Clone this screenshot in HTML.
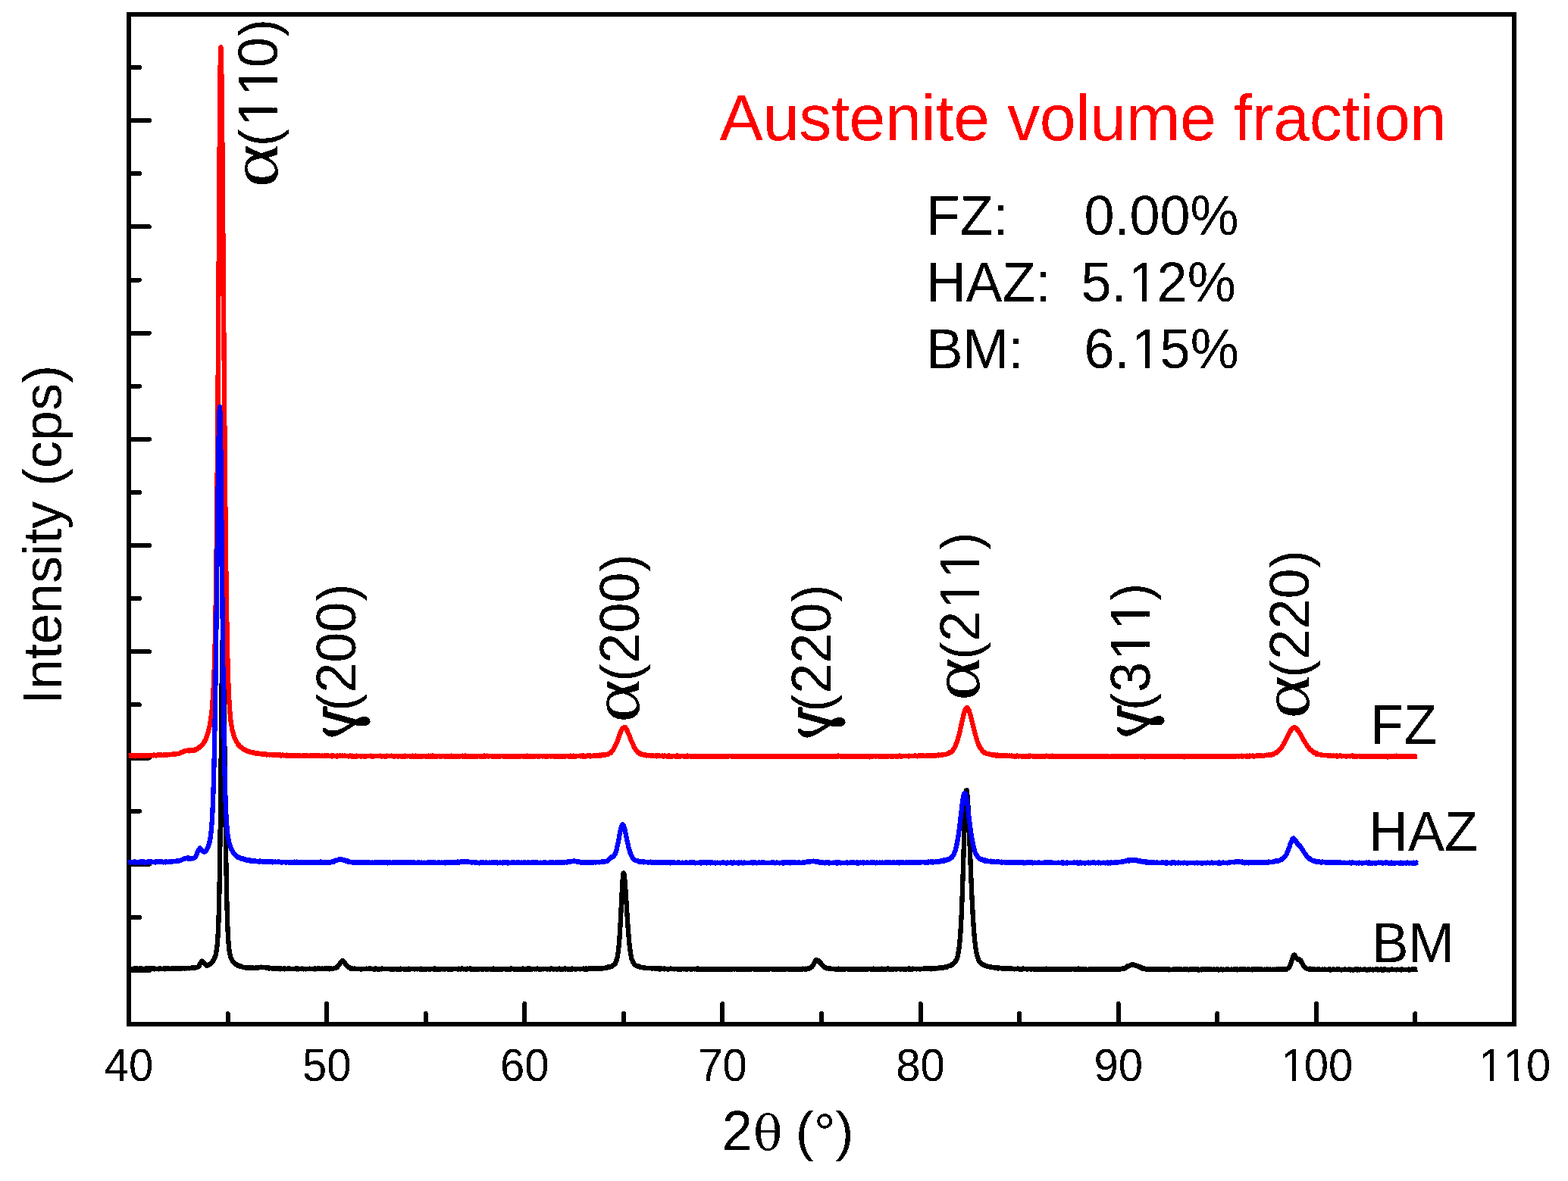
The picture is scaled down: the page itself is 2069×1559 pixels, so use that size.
<!DOCTYPE html>
<html lang="en"><head><meta charset="utf-8">
<title>XRD patterns - Austenite volume fraction</title>
<style>
html,body{margin:0;padding:0;background:#fff;}
body{width:2069px;height:1559px;overflow:hidden;}
svg{display:block;}
text{font-family:"Liberation Sans",Arial,Helvetica,sans-serif;fill:#000;font-kerning:none;white-space:pre;}
.t58{font-size:58px;}
.an{font-size:72px;}
.gk{font-family:"DejaVu Serif","Liberation Serif",serif;}
.gb{stroke:#000;stroke-width:0.7;stroke-linejoin:round;}
.ls{font-family:"Liberation Serif","DejaVu Serif",serif;}
.ttl{font-size:86px;fill:#f00;letter-spacing:-0.29px;}
.ax{stroke:#000;stroke-width:6;fill:none;}
.cv{fill:none;stroke-linejoin:round;stroke-linecap:butt;}
</style></head><body>
<svg width="2069" height="1559" viewBox="0 0 2069 1559" role="img" aria-label="XRD patterns of FZ, HAZ and BM with austenite volume fraction">
<rect x="0" y="0" width="2069" height="1559" fill="#fff"/>
<defs><filter id="hard" x="0" y="0" width="2069" height="1559" filterUnits="userSpaceOnUse" color-interpolation-filters="sRGB"><feComponentTransfer><feFuncA type="discrete" tableValues="0 1"/></feComponentTransfer></filter><clipPath id="c1"><path clip-rule="evenodd" d="M-20,-69.6 H116.77 V29 H-20 Z M5.25,-4.68 H16.26 V3 H5.25 Z M21.69,-4.68 H32.25 V3 H21.69 Z"/></clipPath><clipPath id="c2"><path clip-rule="evenodd" d="M-20,-69.6 H116.77 V29 H-20 Z M5.25,-4.68 H16.26 V3 H5.25 Z M21.69,-4.68 H32.25 V3 H21.69 Z M37.5,-4.68 H48.52 V3 H37.5 Z M53.94,-4.68 H64.51 V3 H53.94 Z"/></clipPath><clipPath id="c3"><path clip-rule="evenodd" d="M-20,-86.4 H428.16 V36 H-20 Z M270.81,-5.73 H284.28 V3 H270.81 Z M290.94,-5.73 H303.85 V3 H290.94 Z"/></clipPath><clipPath id="c4"><path clip-rule="evenodd" d="M-20,-86.4 H432.17 V36 H-20 Z M274.82,-5.73 H288.29 V3 H274.82 Z M294.95,-5.73 H307.86 V3 H294.95 Z"/></clipPath><clipPath id="c5"><path clip-rule="evenodd" d="M-20,-86.4 H188.08 V36 H-20 Z M30.73,-5.73 H44.2 V3 H30.73 Z M50.86,-5.73 H63.77 V3 H50.86 Z M70.77,-5.73 H84.25 V3 H70.77 Z M90.9,-5.73 H103.81 V3 H90.9 Z"/></clipPath><clipPath id="c6"><path clip-rule="evenodd" d="M-20,-86.4 H188.08 V36 H-20 Z M70.77,-5.73 H84.25 V3 H70.77 Z M90.9,-5.73 H103.81 V3 H90.9 Z M110.82,-5.73 H124.29 V3 H110.82 Z M130.95,-5.73 H143.86 V3 H130.95 Z"/></clipPath><clipPath id="c7"><path clip-rule="evenodd" d="M-20,-86.4 H188.08 V36 H-20 Z M70.77,-5.73 H84.25 V3 H70.77 Z M90.9,-5.73 H103.81 V3 H90.9 Z M110.82,-5.73 H124.29 V3 H110.82 Z M130.95,-5.73 H143.86 V3 H130.95 Z"/></clipPath></defs>
<rect class="ax" shape-rendering="crispEdges" x="170" y="19" width="1828" height="1333"/>
<path class="ax" shape-rendering="crispEdges" stroke-linecap="round" d="M300.6,1352 V1338 M431.1,1352 V1325 M561.7,1352 V1338 M692.3,1352 V1325 M822.9,1352 V1338 M953.4,1352 V1325 M1084,1352 V1338 M1214.6,1352 V1325 M1345.1,1352 V1338 M1475.7,1352 V1325 M1606.3,1352 V1338 M1736.9,1352 V1325 M1867.4,1352 V1338 M170,89 H184 M170,159.1 H197 M170,229.2 H184 M170,299.4 H197 M170,369.5 H184 M170,439.6 H197 M170,509.7 H184 M170,579.8 H197 M170,649.9 H184 M170,720.1 H197 M170,790.2 H184 M170,860.3 H197 M170,930.4 H184 M170,1000.5 H197 M170,1070.7 H184 M170,1140.8 H197 M170,1210.9 H184 M170,1281 H197"/>
<g shape-rendering="crispEdges">
<polyline class="cv" stroke-width="4" stroke="#000" points="170,1278.9 172,1278.9 174,1278.9 176,1278.9 178,1278.9 180,1278.9 182,1278.9 184,1278.9 186,1278.8 188,1278.8 190,1278.8 192,1278.8 194,1278.8 196,1278.8 198,1278.8 200,1278.8 202,1278.8 204,1278.8 206,1278.8 208,1278.8 210,1278.8 212,1278.7 214,1278.7 216,1278.7 218,1278.7 220,1278.7 222,1278.7 224,1278.7 226,1278.6 228,1278.6 230,1278.6 232,1278.6 234,1278.5 236,1278.5 238,1278.4 240,1278.4 242,1278.3 244,1278.3 246,1278.2 248,1278.1 250,1278.1 252,1277.9 254,1277.8 256,1277.7 258,1277.4 260,1276.9 262,1275.5 262.5,1274.9 263,1274.2 263.5,1273.4 264,1272.5 264.5,1271.6 265,1270.7 265.5,1270 266,1269.5 268,1269.9 268.5,1270.5 269,1271.1 269.5,1271.7 270,1272.3 270.5,1272.8 271,1273.2 271.5,1273.6 272,1273.8 274,1274.1 276,1273.4 276.5,1273.1 277,1272.8 277.5,1272.5 278,1272.1 278.5,1271.7 279,1271.2 279.5,1270.7 280,1270.1 280.5,1269.5 281,1268.8 281.5,1268 282,1267.1 282.5,1266.1 283,1265 283.5,1263.7 284,1262.2 284.5,1260.5 285,1258.4 285.5,1256 286,1252.9 286.5,1248.9 287,1243.7 287.5,1236.7 288,1227.1 288.5,1214.2 289,1196.7 289.5,1173.8 290,1144.6 290.5,1108.6 291,1065.9 291.5,1017.7 292,966.4 292.5,916.5 293,874.2 293.5,847.1 294,841.2 294.5,852.7 295,877.6 295.5,912.4 296,953.3 296.5,996.5 297,1039.3 297.5,1079.6 298,1115.9 298.5,1147.4 299,1174 299.5,1195.7 300,1213 300.5,1226.4 301,1236.6 301.5,1244.4 302,1250.1 302.5,1254.5 303,1257.7 303.5,1260.3 304,1262.2 304.5,1263.9 305,1265.2 305.5,1266.3 306,1267.3 306.5,1268.2 307,1269 307.5,1269.6 308,1270.3 308.5,1270.8 309,1271.3 309.5,1271.8 310,1272.2 310.5,1272.6 311,1273 311.5,1273.3 312,1273.6 312.5,1273.9 313,1274.1 315,1275 317,1275.7 319,1276.2 321,1276.6 323,1276.9 325,1277.1 327,1277.4 329,1277.5 331,1277.6 333,1277.7 335,1277.7 337,1277.7 339,1277.6 341,1277.4 343,1277.1 345,1277 347,1276.9 349,1277.1 351,1277.3 353,1277.7 355,1278 357,1278.2 359,1278.4 361,1278.5 363,1278.6 365,1278.7 367,1278.7 369,1278.7 371,1278.8 373,1278.8 375,1278.8 377,1278.8 379,1278.8 381,1278.8 383,1278.9 385,1278.9 387,1278.9 389,1278.9 391,1278.9 393,1278.9 395,1278.9 397,1278.9 399,1278.9 401,1278.9 403,1278.9 405,1278.9 407,1278.9 409,1279 411,1279 413,1279 415,1279 417,1279 419,1279 421,1279 423,1278.9 425,1278.9 427,1278.9 429,1278.9 431,1278.9 433,1278.9 435,1278.8 437,1278.8 439,1278.7 441,1278.5 443,1277.9 445,1276.6 445.5,1276.1 446,1275.5 446.5,1274.9 447,1274.2 447.5,1273.5 448,1272.7 448.5,1271.9 449,1271.2 449.5,1270.5 450,1269.8 450.5,1269.3 451,1269 453,1269.2 453.5,1269.6 454,1270.1 454.5,1270.6 455,1271.2 455.5,1271.8 456,1272.4 456.5,1273.1 457,1273.7 457.5,1274.3 458,1274.8 458.5,1275.4 459,1275.8 459.5,1276.3 460,1276.7 460.5,1277 461,1277.3 461.5,1277.6 463.5,1278.2 465.5,1278.6 467.5,1278.7 469.5,1278.8 471.5,1278.9 473.5,1278.9 475.5,1279 477.5,1279 479.5,1279 481.5,1279 483.5,1279 485.5,1279 487.5,1279.1 489.5,1279.1 491.5,1279.1 493.5,1279.1 495.5,1279.1 497.5,1279.1 499.5,1279.1 501.5,1279.1 503.5,1279.1 505.5,1279.1 507.5,1279.1 509.5,1279.1 511.5,1279.1 513.5,1279.1 515.5,1279.1 517.5,1279.1 519.5,1279.1 521.5,1279.1 523.5,1279.1 525.5,1279.1 527.5,1279.1 529.5,1279.1 531.5,1279.1 533.5,1279.1 535.5,1279.2 537.5,1279.2 539.5,1279.2 541.5,1279.2 543.5,1279.2 545.5,1279.2 547.5,1279.2 549.5,1279.2 551.5,1279.2 553.5,1279.2 555.5,1279.2 557.5,1279.2 559.5,1279.2 561.5,1279.2 563.5,1279.2 565.5,1279.2 567.5,1279.2 569.5,1279.2 571.5,1279.2 573.5,1279.2 575.5,1279.2 577.5,1279.2 579.5,1279.2 581.5,1279.2 583.5,1279.2 585.5,1279.2 587.5,1279.2 589.5,1279.2 591.5,1279.2 593.5,1279.2 595.5,1279.2 597.5,1279.2 599.5,1279.2 601.5,1279.2 603.5,1279.2 605.5,1279.2 607.5,1279.2 609.5,1279.2 611.5,1279.2 613.5,1279.2 615.5,1279.2 617.5,1279.2 619.5,1279.2 621.5,1279.2 623.5,1279.2 625.5,1279.2 627.5,1279.2 629.5,1279.2 631.5,1279.2 633.5,1279.2 635.5,1279.2 637.5,1279.2 639.5,1279.2 641.5,1279.2 643.5,1279.2 645.5,1279.2 647.5,1279.2 649.5,1279.2 651.5,1279.2 653.5,1279.2 655.5,1279.2 657.5,1279.2 659.5,1279.2 661.5,1279.2 663.5,1279.2 665.5,1279.2 667.5,1279.2 669.5,1279.2 671.5,1279.2 673.5,1279.2 675.5,1279.2 677.5,1279.2 679.5,1279.2 681.5,1279.2 683.5,1279.2 685.5,1279.2 687.5,1279.2 689.5,1279.2 691.5,1279.2 693.5,1279.2 695.5,1279.2 697.5,1279.2 699.5,1279.2 701.5,1279.2 703.5,1279.2 705.5,1279.2 707.5,1279.2 709.5,1279.2 711.5,1279.2 713.5,1279.2 715.5,1279.2 717.5,1279.2 719.5,1279.2 721.5,1279.2 723.5,1279.2 725.5,1279.2 727.5,1279.2 729.5,1279.2 731.5,1279.2 733.5,1279.2 735.5,1279.2 737.5,1279.2 739.5,1279.2 741.5,1279.2 743.5,1279.2 745.5,1279.1 747.5,1279.1 749.5,1279.1 751.5,1279.1 753.5,1279.1 755.5,1279.1 757.5,1279.1 759.5,1279.1 761.5,1279.1 763.5,1279 765.5,1279 767.5,1279 769.5,1279 771.5,1279 773.5,1278.9 775.5,1278.9 777.5,1278.8 779.5,1278.8 781.5,1278.7 783.5,1278.7 785.5,1278.6 787.5,1278.5 789.5,1278.4 791.5,1278.3 793.5,1278.2 795.5,1278 797.5,1277.8 799.5,1277.5 801.5,1277.2 803.5,1276.7 805.5,1276.1 807.5,1275.3 808,1275 808.5,1274.7 809,1274.4 809.5,1274.1 810,1273.7 810.5,1273.2 811,1272.7 811.5,1272 812,1271.3 812.5,1270.4 813,1269.3 813.5,1267.9 814,1266.3 814.5,1264.2 815,1261.6 815.5,1258.4 816,1254.5 816.5,1249.7 817,1244.1 817.5,1237.5 818,1229.9 818.5,1221.4 819,1212 819.5,1202 820,1191.5 820.5,1181.1 821,1171.4 821.5,1162.9 822,1156.5 822.5,1153 823,1152.5 823.5,1154.2 824,1157.6 824.5,1162.5 825,1168.7 825.5,1175.8 826,1183.4 826.5,1191.4 827,1199.5 827.5,1207.4 828,1215.1 828.5,1222.4 829,1229.2 829.5,1235.4 830,1241 830.5,1246.1 831,1250.6 831.5,1254.4 832,1257.8 832.5,1260.7 833,1263.2 833.5,1265.2 834,1267 834.5,1268.4 835,1269.6 835.5,1270.6 836,1271.5 836.5,1272.2 837,1272.8 837.5,1273.3 838,1273.7 838.5,1274.1 839,1274.4 839.5,1274.7 840,1275 842,1275.8 844,1276.4 846,1276.9 848,1277.3 850,1277.6 852,1277.8 854,1278 856,1278.1 858,1278.3 860,1278.4 862,1278.5 864,1278.6 866,1278.6 868,1278.7 870,1278.8 872,1278.8 874,1278.9 876,1278.9 878,1278.9 880,1279 882,1279 884,1279 886,1279 888,1279.1 890,1279.1 892,1279.1 894,1279.1 896,1279.1 898,1279.2 900,1279.2 902,1279.2 904,1279.2 906,1279.2 908,1279.2 910,1279.2 912,1279.2 914,1279.2 916,1279.3 918,1279.3 920,1279.3 922,1279.3 924,1279.3 926,1279.3 928,1279.3 930,1279.3 932,1279.3 934,1279.3 936,1279.3 938,1279.3 940,1279.3 942,1279.3 944,1279.3 946,1279.3 948,1279.3 950,1279.3 952,1279.3 954,1279.3 956,1279.3 958,1279.4 960,1279.4 962,1279.4 964,1279.4 966,1279.4 968,1279.4 970,1279.4 972,1279.4 974,1279.4 976,1279.4 978,1279.4 980,1279.4 982,1279.4 984,1279.4 986,1279.4 988,1279.4 990,1279.4 992,1279.4 994,1279.4 996,1279.4 998,1279.4 1000,1279.4 1002,1279.4 1004,1279.4 1006,1279.4 1008,1279.4 1010,1279.4 1012,1279.4 1014,1279.4 1016,1279.4 1018,1279.4 1020,1279.4 1022,1279.4 1024,1279.4 1026,1279.4 1028,1279.4 1030,1279.4 1032,1279.4 1034,1279.4 1036,1279.4 1038,1279.4 1040,1279.4 1042,1279.4 1044,1279.4 1046,1279.4 1048,1279.4 1050,1279.3 1052,1279.3 1054,1279.3 1056,1279.3 1058,1279.3 1060,1279.2 1062,1279.2 1064,1279.1 1066,1278.9 1068,1278.4 1070,1277.3 1070.5,1276.9 1071,1276.4 1071.5,1275.8 1072,1275.2 1072.5,1274.4 1073,1273.6 1073.5,1272.8 1074,1271.9 1074.5,1271 1075,1270.1 1075.5,1269.3 1076,1268.6 1076.5,1268 1077,1267.6 1079,1267.8 1079.5,1268.1 1080,1268.5 1080.5,1268.9 1081,1269.4 1081.5,1269.9 1082,1270.5 1082.5,1271.1 1083,1271.6 1083.5,1272.2 1084,1272.8 1084.5,1273.3 1085,1273.9 1085.5,1274.4 1086,1274.9 1086.5,1275.3 1087,1275.8 1087.5,1276.1 1088,1276.5 1088.5,1276.8 1089,1277.1 1089.5,1277.4 1091.5,1278.2 1093.5,1278.6 1095.5,1278.9 1097.5,1279 1099.5,1279.1 1101.5,1279.2 1103.5,1279.2 1105.5,1279.2 1107.5,1279.3 1109.5,1279.3 1111.5,1279.3 1113.5,1279.3 1115.5,1279.3 1117.5,1279.3 1119.5,1279.3 1121.5,1279.3 1123.5,1279.4 1125.5,1279.4 1127.5,1279.4 1129.5,1279.4 1131.5,1279.4 1133.5,1279.4 1135.5,1279.4 1137.5,1279.4 1139.5,1279.4 1141.5,1279.4 1143.5,1279.4 1145.5,1279.4 1147.5,1279.4 1149.5,1279.4 1151.5,1279.4 1153.5,1279.4 1155.5,1279.4 1157.5,1279.4 1159.5,1279.4 1161.5,1279.4 1163.5,1279.4 1165.5,1279.3 1167.5,1279.3 1169.5,1279.3 1171.5,1279.3 1173.5,1279.3 1175.5,1279.3 1177.5,1279.3 1179.5,1279.3 1181.5,1279.3 1183.5,1279.3 1185.5,1279.3 1187.5,1279.3 1189.5,1279.2 1191.5,1279.2 1193.5,1279.2 1195.5,1279.2 1197.5,1279.2 1199.5,1279.2 1201.5,1279.1 1203.5,1279.1 1205.5,1279.1 1207.5,1279.1 1209.5,1279 1211.5,1279 1213.5,1279 1215.5,1278.9 1217.5,1278.9 1219.5,1278.8 1221.5,1278.8 1223.5,1278.7 1225.5,1278.6 1227.5,1278.6 1229.5,1278.5 1231.5,1278.4 1233.5,1278.2 1235.5,1278.1 1237.5,1277.9 1239.5,1277.8 1241.5,1277.5 1243.5,1277.3 1245.5,1277 1247.5,1276.6 1249.5,1276.1 1251.5,1275.5 1253.5,1274.7 1255.5,1273.8 1256,1273.5 1256.5,1273.1 1257,1272.8 1257.5,1272.4 1258,1272 1258.5,1271.6 1259,1271.1 1259.5,1270.6 1260,1270 1260.5,1269.4 1261,1268.6 1261.5,1267.8 1262,1266.8 1262.5,1265.6 1263,1264.2 1263.5,1262.6 1264,1260.6 1264.5,1258.2 1265,1255.2 1265.5,1251.7 1266,1247.4 1266.5,1242.3 1267,1236.2 1267.5,1229.1 1268,1220.7 1268.5,1211 1269,1200 1269.5,1187.7 1270,1174.1 1270.5,1159.4 1271,1143.7 1271.5,1127.4 1272,1110.8 1272.5,1094.5 1273,1079.1 1273.5,1065.5 1274,1054.3 1274.5,1046.5 1275,1042.6 1277,1057.2 1277.5,1066 1278,1076.2 1278.5,1087.5 1279,1099.5 1279.5,1112.1 1280,1124.8 1280.5,1137.6 1281,1150 1281.5,1162.1 1282,1173.7 1282.5,1184.6 1283,1194.7 1283.5,1204.1 1284,1212.7 1284.5,1220.5 1285,1227.5 1285.5,1233.8 1286,1239.3 1286.5,1244.2 1287,1248.4 1287.5,1252.1 1288,1255.2 1288.5,1257.9 1289,1260.2 1289.5,1262.2 1290,1263.9 1290.5,1265.3 1291,1266.6 1291.5,1267.6 1292,1268.5 1292.5,1269.3 1293,1270 1293.5,1270.6 1294,1271.1 1294.5,1271.6 1295,1272 1295.5,1272.4 1296,1272.7 1296.5,1273 1297,1273.3 1297.5,1273.6 1298,1273.8 1300,1274.7 1302,1275.4 1304,1275.9 1306,1276.4 1308,1276.7 1310,1277.1 1312,1277.3 1314,1277.6 1316,1277.8 1318,1277.9 1320,1278.1 1322,1278.2 1324,1278.3 1326,1278.4 1328,1278.5 1330,1278.6 1332,1278.7 1334,1278.7 1336,1278.8 1338,1278.9 1340,1278.9 1342,1279 1344,1279 1346,1279 1348,1279.1 1350,1279.1 1352,1279.1 1354,1279.2 1356,1279.2 1358,1279.2 1360,1279.2 1362,1279.3 1364,1279.3 1366,1279.3 1368,1279.3 1370,1279.3 1372,1279.3 1374,1279.4 1376,1279.4 1378,1279.4 1380,1279.4 1382,1279.4 1384,1279.4 1386,1279.4 1388,1279.4 1390,1279.5 1392,1279.5 1394,1279.5 1396,1279.5 1398,1279.5 1400,1279.5 1402,1279.5 1404,1279.5 1406,1279.5 1408,1279.5 1410,1279.5 1412,1279.5 1414,1279.5 1416,1279.5 1418,1279.6 1420,1279.6 1422,1279.6 1424,1279.6 1426,1279.6 1428,1279.6 1430,1279.6 1432,1279.6 1434,1279.6 1436,1279.6 1438,1279.6 1440,1279.6 1442,1279.6 1444,1279.6 1446,1279.6 1448,1279.6 1450,1279.6 1452,1279.6 1454,1279.6 1456,1279.6 1458,1279.6 1460,1279.6 1462,1279.6 1464,1279.6 1466,1279.6 1468,1279.6 1470,1279.6 1472,1279.5 1474,1279.5 1476,1279.4 1478,1279.2 1480,1279 1482,1278.5 1484,1277.9 1486,1277.1 1488,1276.1 1488.5,1275.8 1489,1275.6 1489.5,1275.3 1491.5,1274.4 1493.5,1273.8 1495.5,1273.7 1497.5,1274.1 1499.5,1274.8 1501.5,1275.7 1503.5,1276.6 1505.5,1277.4 1507.5,1278.1 1509.5,1278.6 1511.5,1279 1513.5,1279.3 1515.5,1279.4 1517.5,1279.5 1519.5,1279.6 1521.5,1279.6 1523.5,1279.6 1525.5,1279.6 1527.5,1279.7 1529.5,1279.7 1531.5,1279.7 1533.5,1279.7 1535.5,1279.7 1537.5,1279.7 1539.5,1279.7 1541.5,1279.7 1543.5,1279.7 1545.5,1279.7 1547.5,1279.7 1549.5,1279.7 1551.5,1279.7 1553.5,1279.7 1555.5,1279.7 1557.5,1279.7 1559.5,1279.7 1561.5,1279.7 1563.5,1279.8 1565.5,1279.8 1567.5,1279.8 1569.5,1279.8 1571.5,1279.8 1573.5,1279.8 1575.5,1279.8 1577.5,1279.8 1579.5,1279.8 1581.5,1279.8 1583.5,1279.8 1585.5,1279.8 1587.5,1279.8 1589.5,1279.8 1591.5,1279.8 1593.5,1279.8 1595.5,1279.8 1597.5,1279.8 1599.5,1279.8 1601.5,1279.8 1603.5,1279.8 1605.5,1279.8 1607.5,1279.8 1609.5,1279.8 1611.5,1279.8 1613.5,1279.8 1615.5,1279.8 1617.5,1279.8 1619.5,1279.8 1621.5,1279.8 1623.5,1279.8 1625.5,1279.8 1627.5,1279.8 1629.5,1279.8 1631.5,1279.8 1633.5,1279.8 1635.5,1279.8 1637.5,1279.8 1639.5,1279.8 1641.5,1279.8 1643.5,1279.8 1645.5,1279.8 1647.5,1279.8 1649.5,1279.8 1651.5,1279.8 1653.5,1279.8 1655.5,1279.8 1657.5,1279.8 1659.5,1279.8 1661.5,1279.8 1663.5,1279.8 1665.5,1279.8 1667.5,1279.8 1669.5,1279.8 1671.5,1279.8 1673.5,1279.8 1675.5,1279.8 1677.5,1279.8 1679.5,1279.7 1681.5,1279.7 1683.5,1279.7 1685.5,1279.7 1687.5,1279.6 1689.5,1279.6 1691.5,1279.5 1693.5,1279.4 1695.5,1279.3 1697.5,1279 1699.5,1278.2 1700,1277.8 1700.5,1277.3 1701,1276.7 1701.5,1276 1702,1275 1702.5,1273.9 1703,1272.6 1703.5,1271.2 1704,1269.6 1704.5,1267.9 1705,1266.2 1705.5,1264.6 1706,1263.1 1706.5,1261.8 1707,1260.9 1707.5,1260.5 1709.5,1262.6 1710,1263.6 1710.5,1264.5 1711,1265.3 1711.5,1265.8 1712,1266.2 1714,1266.2 1716,1267.7 1716.5,1268.5 1717,1269.3 1717.5,1270.2 1718,1271.2 1718.5,1272.1 1719,1273.1 1719.5,1273.9 1720,1274.7 1720.5,1275.5 1721,1276.2 1721.5,1276.7 1722,1277.3 1722.5,1277.7 1723,1278 1723.5,1278.3 1725.5,1279.1 1727.5,1279.4 1729.5,1279.5 1731.5,1279.6 1733.5,1279.6 1735.5,1279.7 1737.5,1279.7 1739.5,1279.7 1741.5,1279.8 1743.5,1279.8 1745.5,1279.8 1747.5,1279.8 1749.5,1279.8 1751.5,1279.8 1753.5,1279.8 1755.5,1279.9 1757.5,1279.9 1759.5,1279.9 1761.5,1279.9 1763.5,1279.9 1765.5,1279.9 1767.5,1279.9 1769.5,1279.9 1771.5,1279.9 1773.5,1279.9 1775.5,1279.9 1777.5,1279.9 1779.5,1279.9 1781.5,1279.9 1783.5,1279.9 1785.5,1279.9 1787.5,1279.9 1789.5,1279.9 1791.5,1279.9 1793.5,1279.9 1795.5,1279.9 1797.5,1279.9 1799.5,1279.9 1801.5,1279.9 1803.5,1279.9 1805.5,1279.9 1807.5,1279.9 1809.5,1279.9 1811.5,1279.9 1813.5,1279.9 1815.5,1279.9 1817.5,1279.9 1819.5,1279.9 1821.5,1279.9 1823.5,1279.9 1825.5,1280 1827.5,1280 1829.5,1280 1831.5,1280 1833.5,1280 1835.5,1280 1837.5,1280 1839.5,1280 1841.5,1280 1843.5,1280 1845.5,1280 1847.5,1280 1849.5,1280 1851.5,1280 1853.5,1280 1855.5,1280 1857.5,1280 1859.5,1280 1861.5,1280 1863.5,1280 1865.5,1280 1867.5,1280 1869.5,1280 1869.7,1280"/>
<polyline class="cv" stroke-width="6.3" stroke="#000" points="170,1278.9 170.5,1279.2 171,1278.6 171.5,1279.1 172,1278.8 172.5,1278.8 173,1279.4 173.5,1278.9 174,1278.9 174.5,1279.1 175,1279.2 175.5,1278.9 176,1279 176.5,1278.6 177,1278.8 177.5,1278.7 178,1278.5 178.5,1278.5 179,1278.4 179.5,1278.8 180,1278.8 180.5,1278.8 181,1278.9 181.5,1278.5 182,1278.8 182.5,1278.9 183,1279.1 183.5,1278.6 184,1278.7 184.5,1278.3 185,1278.7 185.5,1278.3 186,1278.5 186.5,1279.1 187,1278.3 187.5,1279.1 188,1278.9 188.5,1278.8 189,1279 189.5,1279 190,1279.1 190.5,1278.8 191,1278.7 191.5,1278.7 192,1278.6 192.5,1278.8 193,1278.6 193.5,1279.1 194,1278.3 194.5,1278.5 195,1278.6 195.5,1278.3 196,1279.3 196.5,1278.2 197,1278.7 197.5,1278.7 198,1279.3 198.5,1278.3 199,1279.1 199.5,1278.6 200,1278.8 200.5,1278.6 201,1279 201.5,1278.5 202,1278.8 202.5,1278.9 203,1279.3 203.5,1278.1 204,1279.2 204.5,1279 205,1278.7 205.5,1278.9 206,1278.7 206.5,1279.2 207,1278.8 207.5,1278.7 208,1278.7 208.5,1278.7 209,1278.7 209.5,1278.5 210,1279.3 210.5,1278.2 211,1277.8 211.5,1278.7 212,1278.7 212.5,1278.8 213,1278.7 213.5,1278.7 214,1278.8 214.5,1279 215,1278.6 215.5,1278.6 216,1279.2 216.5,1278.9 217,1278.4 217.5,1279.3 218,1278.9 218.5,1278.5 219,1278.4 219.5,1278.8 220,1278.5 220.5,1278.4 221,1278.3 221.5,1278.5 222,1279 222.5,1278.6 223,1278.3 223.5,1278.8 224,1278.7 224.5,1278.9 225,1279 225.5,1278.6 226,1278.6 226.5,1278.6 227,1278.3 227.5,1278.8 228,1279 228.5,1278.6 229,1278.5 229.5,1278.5 230,1278.4 230.5,1278.4 231,1278.5 231.5,1278.3 232,1278.4 232.5,1278.1 233,1278.6 233.5,1278.5 234,1278.2 234.5,1277.9 235,1278.5 235.5,1278.8 236,1278.3 236.5,1278.3 237,1278.3 237.5,1278.6 238,1278.2 238.5,1278.7 239,1278.3 239.5,1278.7 240,1278.4 240.5,1278.3 241,1278 241.5,1278.2 242,1278.3 242.5,1278.5 243,1278.4 243.5,1278.1 244,1278.4 244.5,1278.5 245,1278.2 245.5,1278.1 246,1278.1 246.5,1278.4 247,1278.3 247.5,1277.9 248,1278.2 248.5,1278 249,1277.9 249.5,1278.4 250,1278.3 250.5,1277.8 251,1278 251.5,1278.1 252,1277.8 252.5,1277.9 253,1278.1 253.5,1277.4 254,1277.9 254.5,1278 255,1277.9 255.5,1277.3 256,1277.7 256.5,1277.4 257,1277.7 257.5,1277.6 258,1277.5 258.5,1277.1 259,1277.1 259.5,1277.3 260,1276.7 260.5,1276.8 261,1276.5 261.5,1275.9 262,1276.2 262.5,1274.9 263,1274.8 263.5,1272.9 264,1271.9 264.5,1271.9 265,1270.9 265.5,1269.9 266,1269.5 266.5,1268.7 267,1269.1 267.5,1269.2 268,1269.9 268.5,1270.7 269,1271.1 269.5,1271.8 270,1272.1 270.5,1272.7 271,1273.2 271.5,1273.5 272,1274.2 272.5,1273.8 273,1274.6 273.5,1273.8 274,1274.3 274.5,1273.7 275,1274.2 275.5,1273.6 276,1273.5 276.5,1273.3 277,1272.6 277.5,1272.2 278,1271.5 278.5,1272 279,1271 279.5,1270.5 280,1270.1 280.5,1270 281,1268.3 281.5,1268.1 282,1267 282.5,1266.3 283,1264.5 283.5,1263.6 284,1262.4 284.5,1260.9 285,1258.9 285.5,1255.7 286,1252.9 286.5,1248.9 287,1243.3 287.5,1236.3 288,1227.3 288.5,1214.2 289,1196.7 289.5,1174.2 290,1144.3 290.5,1108.7 291,1065.9 291.5,1017.6 292,966.6 292.5,916.5 293,874.3 293.5,847.2 294,841.8 294.5,852.7 295,877.9 295.5,912.6 296,953.2 296.5,996.7 297,1039.1 297.5,1079.9 298,1115.7 298.5,1147.3 299,1174.1 299.5,1195.9 300,1213.2 300.5,1226.6 301,1236.6 301.5,1244.1 302,1250.3 302.5,1254.5 303,1257.5 303.5,1260.5 304,1262.3 304.5,1263.6 305,1265.3 305.5,1266 306,1267.1 306.5,1268.3 307,1268.5 307.5,1269.7 308,1269.9 308.5,1271 309,1271.1 309.5,1271.8 310,1271.8 310.5,1272.5 311,1273.2 311.5,1273.4 312,1273.1 312.5,1274.1 313,1274.4 313.5,1274.3 314,1275 314.5,1274.5 315,1275 315.5,1275.5 316,1275.7 316.5,1275.8 317,1275.4 317.5,1275.3 318,1276 318.5,1275.7 319,1276.1 319.5,1275.9 320,1276.7 320.5,1276.7 321,1276.7 321.5,1276.7 322,1276.7 322.5,1276.7 323,1277 323.5,1277 324,1277.1 324.5,1277 325,1277.7 325.5,1277.3 326,1277.6 326.5,1277.7 327,1277.1 327.5,1276.9 328,1277.8 328.5,1277.4 329,1277.5 329.5,1277.5 330,1277.6 330.5,1277.3 331,1277.6 331.5,1277.5 332,1277.7 332.5,1277.1 333,1277.9 333.5,1277.8 334,1277.3 334.5,1277.5 335,1277.7 335.5,1277.9 336,1277.7 336.5,1278.1 337,1277.7 337.5,1277.4 338,1277.4 338.5,1277.8 339,1277.4 339.5,1277.7 340,1277.7 340.5,1277.6 341,1277.6 341.5,1277.3 342,1277.3 342.5,1277 343,1277 343.5,1276.7 344,1276.9 344.5,1276.7 345,1276.6 345.5,1277 346,1277.1 346.5,1276.8 347,1277.3 347.5,1277.2 348,1277.3 348.5,1276.9 349,1276.7 349.5,1277.3 350,1277.3 350.5,1277.5 351,1277.5 351.5,1277.8 352,1277.4 352.5,1277.8 353,1277.4 353.5,1277.1 354,1277.7 354.5,1278.3 355,1277.5 355.5,1278.3 356,1277.9 356.5,1278.1 357,1278.2 357.5,1278.3 358,1278.1 358.5,1278.4 359,1278.5 359.5,1278.7 360,1278.3 360.5,1278.9 361,1279 361.5,1279.2 362,1278.2 362.5,1278.6 363,1278.1 363.5,1278.7 364,1278.8 364.5,1278.3 365,1278.2 365.5,1278.7 366,1278.9 366.5,1278.5 367,1278.6 367.5,1278 368,1278.5 368.5,1278.8 369,1278.8 369.5,1279.2 370,1278.4 370.5,1278.1 371,1278.9 371.5,1278.6 372,1278.8 372.5,1279 373,1278.9 373.5,1279.2 374,1279.1 374.5,1278.3 375,1278.8 375.5,1279.3 376,1278.7 376.5,1279.1 377,1278.8 377.5,1278.7 378,1279.2 378.5,1279.1 379,1278.8 379.5,1279.1 380,1278.5 380.5,1278.6 381,1279.1 381.5,1278.9 382,1278.6 382.5,1279 383,1278.9 383.5,1279.2 384,1279.1 384.5,1278.8 385,1278.7 385.5,1278.8 386,1278.8 386.5,1279.3 387,1279.3 387.5,1279.2 388,1279 388.5,1278.8 389,1279.1 389.5,1278.8 390,1279 390.5,1278.4 391,1278.8 391.5,1279.3 392,1278.6 392.5,1278.5 393,1278.9 393.5,1279.4 394,1279.3 394.5,1278.8 395,1278.8 395.5,1278.9 396,1278.7 396.5,1278.9 397,1278.8 397.5,1278.5 398,1278.8 398.5,1278.9 399,1278.7 399.5,1278.6 400,1279.2 400.5,1279.4 401,1278.9 401.5,1278.8 402,1279.1 402.5,1278.9 403,1278.7 403.5,1279.3 404,1278.7 404.5,1278.7 405,1278.8 405.5,1278.7 406,1278.9 406.5,1279.1 407,1279.3 407.5,1279.1 408,1279 408.5,1278.6 409,1278.9 409.5,1278.7 410,1278.9 410.5,1279.2 411,1279 411.5,1278.9 412,1278.8 412.5,1278.9 413,1279 413.5,1278.7 414,1278.8 414.5,1279.2 415,1278.5 415.5,1278.8 416,1278.6 416.5,1279.4 417,1279.1 417.5,1279.1 418,1279.1 418.5,1279 419,1279 419.5,1278.5 420,1279 420.5,1279.1 421,1278.6 421.5,1279.2 422,1279.1 422.5,1278.5 423,1278.8 423.5,1278.9 424,1278.8 424.5,1279 425,1278.6 425.5,1278.9 426,1279 426.5,1279.1 427,1278.9 427.5,1278.9 428,1279.1 428.5,1278.4 429,1279.2 429.5,1278.8 430,1278.6 430.5,1278.8 431,1278.4 431.5,1278.3 432,1278.8 432.5,1278.7 433,1279.1 433.5,1278.6 434,1278.5 434.5,1278.6 435,1279.3 435.5,1278.8 436,1278.6 436.5,1278.5 437,1278.5 437.5,1278.7 438,1278.9 438.5,1279 439,1279 439.5,1278.7 440,1278.4 440.5,1278.3 441,1277.8 441.5,1278.1 442,1278.3 442.5,1278 443,1278 443.5,1277.3 444,1277.6 444.5,1277.1 445,1276.6 445.5,1276.2 446,1274.9 446.5,1274.7 447,1274 447.5,1274 448,1272.7 448.5,1271.8 449,1271.4 449.5,1270.2 450,1270.2 450.5,1269.1 451,1269 451.5,1268.5 452,1269 452.5,1268.4 453,1269.4 453.5,1269.4 454,1270.1 454.5,1270.3 455,1271.3 455.5,1271.9 456,1272.6 456.5,1273.2 457,1273.9 457.5,1274.6 458,1274.7 458.5,1275 459,1275.5 459.5,1276.5 460,1276.6 460.5,1277.3 461,1277.3 461.5,1277.3 462,1278 462.5,1278.5 463,1278.1 463.5,1278 464,1278.1 464.5,1278.7 465,1278.4 465.5,1278.5 466,1278.8 466.5,1278.7 467,1278.7 467.5,1278.6 468,1278.6 468.5,1278.8 469,1278.9 469.5,1279 470,1278.7 470.5,1279 471,1279 471.5,1278.9 472,1279 472.5,1279.2 473,1279 473.5,1278.9 474,1278.7 474.5,1279 475,1278.9 475.5,1278.9 476,1278.7 476.5,1279.1 477,1279.7 477.5,1279.1 478,1279 478.5,1279.1 479,1278.8 479.5,1279 480,1278.8 480.5,1278.8 481,1279.1 481.5,1279.1 482,1279 482.5,1278.8 483,1279.1 483.5,1278.7 484,1279.2 484.5,1278.9 485,1279 485.5,1279.3 486,1279.2 486.5,1278.7 487,1279 487.5,1279.2 488,1278.8 488.5,1278.4 489,1279 489.5,1279 490,1279.2 490.5,1279.1 491,1279.1 491.5,1279.1 492,1279.4 492.5,1279.2 493,1279.2 493.5,1279 494,1279.4 494.5,1279 495,1279.3 495.5,1278.5 496,1279.2 496.5,1279.1 497,1279 497.5,1279.4 498,1279.2 498.5,1279.1 499,1279 499.5,1279.6 500,1279.3 500.5,1279.3 501,1278.9 501.5,1279.5 502,1279.3 502.5,1279 503,1279.1 503.5,1278.7 504,1279.3 504.5,1278.8 505,1279.3 505.5,1279 506,1278.9 506.5,1279.2 507,1279.2 507.5,1278.8 508,1279.1 508.5,1279.3 509,1279 509.5,1278.8 510,1279.1 510.5,1278.9 511,1279 511.5,1279.1 512,1279.1 512.5,1279.1 513,1278.7 513.5,1279.2 514,1279.1 514.5,1279 515,1279.2 515.5,1279.6 516,1278.8 516.5,1278.7 517,1279.3 517.5,1278.9 518,1279.5 518.5,1278.9 519,1279 519.5,1279.4 520,1279.4 520.5,1279.3 521,1279.3 521.5,1279.1 522,1279 522.5,1279.1 523,1279.5 523.5,1279.3 524,1279.1 524.5,1279.2 525,1279.4 525.5,1279.5 526,1279.1 526.5,1279.1 527,1279.2 527.5,1279.8 528,1279.2 528.5,1279.5 529,1278.7 529.5,1279.4 530,1278.8 530.5,1278.9 531,1279 531.5,1279.1 532,1279.2 532.5,1279.2 533,1279.2 533.5,1279 534,1279.8 534.5,1279.3 535,1279.3 535.5,1279.7 536,1279.4 536.5,1279.3 537,1279.2 537.5,1279.7 538,1278.9 538.5,1278.9 539,1279.2 539.5,1278.6 540,1278.9 540.5,1279.5 541,1279 541.5,1279.2 542,1279.3 542.5,1278.8 543,1279.2 543.5,1279 544,1278.9 544.5,1279.1 545,1279.1 545.5,1279.1 546,1279 546.5,1279.4 547,1279.5 547.5,1279.3 548,1279.1 548.5,1278.9 549,1278.9 549.5,1278.9 550,1279.2 550.5,1279.4 551,1279.4 551.5,1279.2 552,1279.1 552.5,1279.2 553,1279.2 553.5,1279.3 554,1279.6 554.5,1279 555,1279.7 555.5,1278.6 556,1278.7 556.5,1278.8 557,1278.9 557.5,1279.1 558,1279.7 558.5,1279 559,1279.5 559.5,1279.1 560,1279.2 560.5,1278.9 561,1279.8 561.5,1279.2 562,1279 562.5,1279.8 563,1279.2 563.5,1279.3 564,1279.1 564.5,1279 565,1278.8 565.5,1279.1 566,1279.6 566.5,1279.3 567,1279.1 567.5,1279.5 568,1278.9 568.5,1279.5 569,1279.2 569.5,1279 570,1279.4 570.5,1279.3 571,1279.1 571.5,1279.2 572,1279.4 572.5,1279.6 573,1279 573.5,1278.5 574,1279.7 574.5,1279.1 575,1279.1 575.5,1279.3 576,1279.1 576.5,1279.5 577,1278.9 577.5,1279.1 578,1278.9 578.5,1279.6 579,1279.1 579.5,1279.5 580,1279.6 580.5,1278.9 581,1279.1 581.5,1279.4 582,1279.2 582.5,1279.2 583,1279.4 583.5,1279.4 584,1279 584.5,1279.2 585,1279.4 585.5,1279.2 586,1279.2 586.5,1278.9 587,1279.7 587.5,1279.1 588,1279.3 588.5,1279.2 589,1279.2 589.5,1279.2 590,1279 590.5,1279.3 591,1279.5 591.5,1279.3 592,1279.4 592.5,1279.3 593,1279.2 593.5,1279.7 594,1279 594.5,1279.3 595,1279.5 595.5,1279.3 596,1278.9 596.5,1278.9 597,1279.6 597.5,1278.9 598,1279.2 598.5,1279.3 599,1279.2 599.5,1278.7 600,1278.7 600.5,1279.2 601,1279 601.5,1279.1 602,1279.2 602.5,1279.2 603,1278.8 603.5,1278.8 604,1279.5 604.5,1279 605,1278.9 605.5,1278.7 606,1279.3 606.5,1278.9 607,1278.9 607.5,1279.4 608,1279.3 608.5,1279.4 609,1278.9 609.5,1278.4 610,1278.9 610.5,1279.1 611,1279 611.5,1279.4 612,1279.3 612.5,1278.9 613,1279.4 613.5,1279.2 614,1279.1 614.5,1279.5 615,1278.8 615.5,1279.5 616,1279.5 616.5,1278.7 617,1279.2 617.5,1279.2 618,1278.9 618.5,1279.1 619,1279 619.5,1279.2 620,1279.1 620.5,1278.6 621,1279.5 621.5,1279.5 622,1279 622.5,1279.4 623,1279.8 623.5,1278.8 624,1279.1 624.5,1279.1 625,1279.4 625.5,1279.1 626,1278.8 626.5,1279.6 627,1279.1 627.5,1279.4 628,1279.8 628.5,1279 629,1279.1 629.5,1279.5 630,1279.2 630.5,1279.4 631,1279.2 631.5,1280 632,1279.4 632.5,1279.3 633,1279.3 633.5,1279.3 634,1278.8 634.5,1279.1 635,1279.4 635.5,1278.9 636,1279.2 636.5,1279.2 637,1279.1 637.5,1279.9 638,1279.4 638.5,1279.3 639,1279 639.5,1279.2 640,1279.1 640.5,1279.2 641,1279.3 641.5,1279.9 642,1279.6 642.5,1279.7 643,1279.6 643.5,1280 644,1279 644.5,1278.9 645,1279.3 645.5,1279.3 646,1279.2 646.5,1279.1 647,1279.4 647.5,1279.7 648,1279.3 648.5,1279.2 649,1279.5 649.5,1279.1 650,1279.1 650.5,1279.3 651,1278.6 651.5,1279.7 652,1279.2 652.5,1279.4 653,1279.3 653.5,1279.3 654,1278.9 654.5,1279.7 655,1279.4 655.5,1279.3 656,1280.1 656.5,1278.9 657,1279.4 657.5,1279.2 658,1278.8 658.5,1279.8 659,1278.8 659.5,1279.3 660,1279.2 660.5,1279.3 661,1279 661.5,1279.6 662,1279.3 662.5,1278.9 663,1278.9 663.5,1279.3 664,1278.9 664.5,1279.3 665,1279.3 665.5,1279.1 666,1278.7 666.5,1278.9 667,1279.3 667.5,1279.1 668,1279.7 668.5,1279.1 669,1279.3 669.5,1279.4 670,1279.3 670.5,1279.3 671,1279.5 671.5,1279.2 672,1279.3 672.5,1279.1 673,1279.8 673.5,1279.3 674,1279.5 674.5,1278.4 675,1279.1 675.5,1278.9 676,1279.2 676.5,1279.1 677,1278.9 677.5,1279.2 678,1279.4 678.5,1279.5 679,1279.1 679.5,1279.5 680,1279.1 680.5,1279.4 681,1279 681.5,1279.5 682,1279.9 682.5,1279.2 683,1279.6 683.5,1278.8 684,1279.1 684.5,1279.9 685,1279.2 685.5,1279.4 686,1278.8 686.5,1279.2 687,1279 687.5,1279.6 688,1279.1 688.5,1279.9 689,1278.9 689.5,1279.3 690,1278.7 690.5,1279.1 691,1279.6 691.5,1279.2 692,1278.9 692.5,1279.4 693,1279.5 693.5,1279.3 694,1279.5 694.5,1278.8 695,1279.7 695.5,1279.4 696,1278.7 696.5,1279.7 697,1279.1 697.5,1279.4 698,1278.7 698.5,1279.1 699,1278.7 699.5,1279.5 700,1279.2 700.5,1279 701,1279.1 701.5,1279.5 702,1279 702.5,1279.4 703,1278.9 703.5,1278.8 704,1279.1 704.5,1279.1 705,1279.3 705.5,1279.5 706,1279.1 706.5,1279.1 707,1279.4 707.5,1279.3 708,1279.2 708.5,1279.3 709,1278.6 709.5,1279.1 710,1278.8 710.5,1279.1 711,1279.5 711.5,1278.8 712,1279.5 712.5,1279.1 713,1279.2 713.5,1279.1 714,1279.4 714.5,1279 715,1278.7 715.5,1279.3 716,1279.2 716.5,1279.4 717,1279.4 717.5,1278.9 718,1279.3 718.5,1279.2 719,1279.2 719.5,1279.2 720,1279.3 720.5,1279.1 721,1279.2 721.5,1279.5 722,1278.9 722.5,1279.2 723,1278.9 723.5,1278.9 724,1279.1 724.5,1279.2 725,1279.6 725.5,1279.1 726,1279.5 726.5,1279.3 727,1279.2 727.5,1278.4 728,1279.2 728.5,1279.2 729,1278.9 729.5,1279.2 730,1279.6 730.5,1278.9 731,1279.1 731.5,1279.4 732,1278.7 732.5,1278.9 733,1279.3 733.5,1279.4 734,1279.5 734.5,1279.4 735,1279.8 735.5,1279.3 736,1278.8 736.5,1279.1 737,1279.3 737.5,1279.3 738,1278.7 738.5,1279.3 739,1279 739.5,1279.1 740,1279.6 740.5,1279.1 741,1279 741.5,1279.1 742,1279 742.5,1279.7 743,1279.4 743.5,1279.4 744,1279 744.5,1279 745,1279.2 745.5,1278.6 746,1279.4 746.5,1278.8 747,1279.2 747.5,1279.2 748,1278.9 748.5,1279.2 749,1279.3 749.5,1279.6 750,1279.2 750.5,1279.6 751,1279.3 751.5,1279.1 752,1279.4 752.5,1279 753,1279.2 753.5,1279.3 754,1279.4 754.5,1279.2 755,1278.7 755.5,1279.5 756,1279.1 756.5,1279 757,1278.9 757.5,1279.2 758,1279.2 758.5,1279.3 759,1279 759.5,1279.5 760,1279 760.5,1279.2 761,1279.1 761.5,1279.3 762,1278.9 762.5,1279 763,1279 763.5,1278.9 764,1278.9 764.5,1278.7 765,1279.2 765.5,1279.4 766,1278.8 766.5,1279.2 767,1278.7 767.5,1278.8 768,1278.9 768.5,1279 769,1279.1 769.5,1278.5 770,1278.6 770.5,1279 771,1278.9 771.5,1279.5 772,1278.9 772.5,1278.8 773,1279.3 773.5,1278.2 774,1278.4 774.5,1279.6 775,1278.7 775.5,1278.9 776,1278.8 776.5,1278.6 777,1278.8 777.5,1278.5 778,1279.1 778.5,1279 779,1279 779.5,1278.6 780,1278.3 780.5,1278.6 781,1278.5 781.5,1278.9 782,1278.3 782.5,1278.5 783,1278.7 783.5,1278.8 784,1278.7 784.5,1278.3 785,1278.5 785.5,1279.2 786,1278.9 786.5,1278.4 787,1279.1 787.5,1278.5 788,1278.5 788.5,1278.3 789,1278.9 789.5,1278.5 790,1278.4 790.5,1278.1 791,1278 791.5,1278.4 792,1278.3 792.5,1278.7 793,1278 793.5,1278.1 794,1278.4 794.5,1278.3 795,1277.9 795.5,1278.4 796,1278.1 796.5,1278.2 797,1278 797.5,1278.1 798,1277.6 798.5,1277.6 799,1277.9 799.5,1277.6 800,1277.6 800.5,1277.7 801,1277.3 801.5,1277.3 802,1276.5 802.5,1276.8 803,1277.1 803.5,1276.5 804,1276.5 804.5,1276.5 805,1276.3 805.5,1276.4 806,1276.1 806.5,1275.7 807,1275.8 807.5,1275.2 808,1274.8 808.5,1274.8 809,1274.6 809.5,1274 810,1273.4 810.5,1273.1 811,1272.7 811.5,1272.2 812,1271.8 812.5,1270.4 813,1269.2 813.5,1267.4 814,1266.6 814.5,1264.4 815,1261.6 815.5,1258.2 816,1253.8 816.5,1249.9 817,1243.9 817.5,1237.9 818,1230.1 818.5,1221.7 819,1212 819.5,1202.3 820,1191.2 820.5,1181.5 821,1171.4 821.5,1162.6 822,1156.4 822.5,1152.7 823,1152.6 823.5,1154 824,1157.3 824.5,1162.4 825,1168.6 825.5,1175.8 826,1183.6 826.5,1191.8 827,1199.6 827.5,1207.9 828,1214.5 828.5,1222.4 829,1229.4 829.5,1235 830,1241 830.5,1246.1 831,1250.1 831.5,1254.3 832,1258 832.5,1260.6 833,1263.6 833.5,1265.9 834,1266.9 834.5,1268.1 835,1269.6 835.5,1270.5 836,1271.1 836.5,1272.1 837,1272.7 837.5,1273.2 838,1274 838.5,1274.4 839,1274.6 839.5,1274.6 840,1275.1 840.5,1275.2 841,1275.5 841.5,1275.4 842,1275 842.5,1276.2 843,1276 843.5,1276.2 844,1276.4 844.5,1276.5 845,1276.6 845.5,1277.2 846,1276.9 846.5,1277.1 847,1276.9 847.5,1277.2 848,1277.4 848.5,1277.3 849,1277.5 849.5,1277.2 850,1277.7 850.5,1277.3 851,1277.6 851.5,1277.5 852,1277.8 852.5,1278.1 853,1278 853.5,1277.7 854,1278 854.5,1278.3 855,1278.3 855.5,1278.2 856,1277.8 856.5,1278 857,1278 857.5,1278.1 858,1278.3 858.5,1278.3 859,1278.2 859.5,1278.5 860,1278.2 860.5,1278.3 861,1278.5 861.5,1278.1 862,1278.3 862.5,1278.1 863,1278.3 863.5,1278.5 864,1278.5 864.5,1278.7 865,1278.7 865.5,1278.3 866,1279.1 866.5,1279 867,1278.4 867.5,1278.5 868,1278.6 868.5,1278.8 869,1278.9 869.5,1278.8 870,1278.1 870.5,1279.6 871,1279 871.5,1279 872,1278.6 872.5,1278.9 873,1279.1 873.5,1278.7 874,1279.2 874.5,1278.9 875,1279.3 875.5,1278.9 876,1279.3 876.5,1278.5 877,1279.3 877.5,1279 878,1278.8 878.5,1279.2 879,1278.9 879.5,1279.2 880,1279.2 880.5,1279.3 881,1279.6 881.5,1279.4 882,1279.7 882.5,1279.2 883,1279.1 883.5,1279.1 884,1279 884.5,1278.7 885,1279.1 885.5,1278.7 886,1279 886.5,1279 887,1278.9 887.5,1278.8 888,1279.1 888.5,1279.1 889,1279.4 889.5,1279.3 890,1279.3 890.5,1279 891,1279 891.5,1278.8 892,1278.9 892.5,1279.3 893,1279.1 893.5,1279.1 894,1279 894.5,1279.5 895,1279.1 895.5,1279.4 896,1279.1 896.5,1279.4 897,1278.9 897.5,1278.8 898,1279.5 898.5,1279.1 899,1279.2 899.5,1279.4 900,1279.4 900.5,1279.2 901,1278.9 901.5,1279 902,1279.2 902.5,1279.4 903,1279.3 903.5,1279.3 904,1279 904.5,1279.2 905,1279.5 905.5,1279 906,1279.1 906.5,1279.5 907,1279.6 907.5,1279.3 908,1279.2 908.5,1279 909,1279.2 909.5,1279 910,1279.3 910.5,1279.4 911,1279.4 911.5,1279.6 912,1279 912.5,1278.9 913,1279.6 913.5,1279.5 914,1279 914.5,1279.3 915,1279 915.5,1279.2 916,1279.3 916.5,1279.5 917,1279 917.5,1278.9 918,1279.4 918.5,1279.2 919,1279.6 919.5,1279 920,1279.1 920.5,1278.5 921,1279.6 921.5,1279.6 922,1279.4 922.5,1279.2 923,1278.7 923.5,1278.9 924,1279.1 924.5,1279.8 925,1279.5 925.5,1279.1 926,1279.4 926.5,1279.4 927,1279.4 927.5,1279 928,1279.2 928.5,1279.6 929,1279.5 929.5,1279.2 930,1280 930.5,1279.4 931,1279.2 931.5,1279.5 932,1279.5 932.5,1279.3 933,1279.8 933.5,1279.6 934,1279.3 934.5,1279.5 935,1279.5 935.5,1279.2 936,1279.5 936.5,1279.2 937,1279.3 937.5,1279.5 938,1279 938.5,1279.2 939,1279.1 939.5,1279.5 940,1279.2 940.5,1279.8 941,1279.7 941.5,1279.1 942,1279.4 942.5,1279.2 943,1279.3 943.5,1279.5 944,1279.7 944.5,1279.9 945,1279.8 945.5,1279 946,1279.2 946.5,1279.3 947,1279.3 947.5,1279.4 948,1279.5 948.5,1279.2 949,1279.2 949.5,1280 950,1279.5 950.5,1279.9 951,1279.2 951.5,1279.7 952,1279.8 952.5,1279.7 953,1279.1 953.5,1279.5 954,1279.1 954.5,1279 955,1279.3 955.5,1279.5 956,1279.3 956.5,1279.3 957,1279.5 957.5,1279.2 958,1279.5 958.5,1279.6 959,1279.5 959.5,1279.5 960,1279.1 960.5,1279.3 961,1279.2 961.5,1279.6 962,1278.9 962.5,1279.4 963,1278.9 963.5,1279.5 964,1279.2 964.5,1279.4 965,1279.6 965.5,1279.8 966,1279.1 966.5,1279.4 967,1278.8 967.5,1279.3 968,1279.2 968.5,1279.5 969,1279.3 969.5,1279.4 970,1279.1 970.5,1279.3 971,1279.1 971.5,1279.4 972,1278.9 972.5,1279.4 973,1279.7 973.5,1280.1 974,1279.8 974.5,1279.7 975,1279.6 975.5,1279.8 976,1279.4 976.5,1279.5 977,1278.9 977.5,1279.2 978,1279.7 978.5,1278.9 979,1279.5 979.5,1279.4 980,1279.3 980.5,1279.5 981,1279.4 981.5,1279.1 982,1279.4 982.5,1278.9 983,1279.8 983.5,1279.4 984,1279.6 984.5,1279.1 985,1279.9 985.5,1279.7 986,1279.5 986.5,1279.4 987,1279.5 987.5,1279.2 988,1279.4 988.5,1279.3 989,1279.5 989.5,1279.8 990,1279.7 990.5,1279.5 991,1279.6 991.5,1279.3 992,1279.3 992.5,1279 993,1279.1 993.5,1279.1 994,1279.4 994.5,1279.3 995,1279.5 995.5,1279.7 996,1279.6 996.5,1279.4 997,1279.3 997.5,1279.3 998,1279.6 998.5,1279.2 999,1279 999.5,1279.3 1000,1279.7 1000.5,1279.7 1001,1279.6 1001.5,1278.9 1002,1279.4 1002.5,1279.6 1003,1279.7 1003.5,1279.9 1004,1279.1 1004.5,1279.5 1005,1279 1005.5,1279.3 1006,1279.3 1006.5,1279.6 1007,1279.4 1007.5,1278.9 1008,1279.4 1008.5,1279.5 1009,1279.8 1009.5,1279.2 1010,1279.2 1010.5,1279.2 1011,1279.7 1011.5,1279.3 1012,1279.4 1012.5,1279.5 1013,1279.2 1013.5,1279.7 1014,1279 1014.5,1279.9 1015,1279.2 1015.5,1279.2 1016,1279.2 1016.5,1279.1 1017,1279.2 1017.5,1279.2 1018,1279.1 1018.5,1279.4 1019,1279.5 1019.5,1279.2 1020,1279.5 1020.5,1279.2 1021,1279.5 1021.5,1279.3 1022,1279.1 1022.5,1279.4 1023,1279.4 1023.5,1279.2 1024,1279.4 1024.5,1279.5 1025,1279.1 1025.5,1279.3 1026,1279.6 1026.5,1279.4 1027,1279.6 1027.5,1280 1028,1279.1 1028.5,1279.5 1029,1279.3 1029.5,1279.8 1030,1279.6 1030.5,1279 1031,1279.7 1031.5,1279.4 1032,1279.3 1032.5,1279.4 1033,1279.5 1033.5,1279.2 1034,1279.3 1034.5,1279.8 1035,1279.1 1035.5,1279.2 1036,1279.6 1036.5,1279.1 1037,1279.3 1037.5,1279.5 1038,1279.1 1038.5,1279.3 1039,1279.1 1039.5,1279.3 1040,1279.5 1040.5,1279.4 1041,1279.4 1041.5,1279.5 1042,1279.6 1042.5,1279.1 1043,1279.4 1043.5,1279.8 1044,1279.3 1044.5,1279.3 1045,1279.4 1045.5,1279.2 1046,1279.5 1046.5,1279.4 1047,1279.3 1047.5,1279.6 1048,1279.7 1048.5,1279 1049,1279.2 1049.5,1279.3 1050,1279 1050.5,1279.5 1051,1279.9 1051.5,1279.6 1052,1279.7 1052.5,1278.8 1053,1279.2 1053.5,1279 1054,1279.5 1054.5,1279.3 1055,1279.3 1055.5,1279.4 1056,1279.5 1056.5,1279.7 1057,1279.6 1057.5,1279.5 1058,1278.8 1058.5,1279.6 1059,1279.3 1059.5,1278.8 1060,1279.3 1060.5,1279.1 1061,1279.2 1061.5,1279.4 1062,1278.8 1062.5,1279.3 1063,1279.4 1063.5,1278.8 1064,1279.4 1064.5,1278.9 1065,1278.8 1065.5,1279.2 1066,1278.9 1066.5,1278.3 1067,1278.5 1067.5,1278.8 1068,1278.3 1068.5,1278.1 1069,1278 1069.5,1277.7 1070,1277.2 1070.5,1276.7 1071,1276.5 1071.5,1276.2 1072,1274.5 1072.5,1274.5 1073,1273.9 1073.5,1272.5 1074,1272.2 1074.5,1270.6 1075,1270.3 1075.5,1269.7 1076,1269 1076.5,1267.3 1077,1267.6 1077.5,1267.2 1078,1267.6 1078.5,1268 1079,1267.9 1079.5,1268.6 1080,1268 1080.5,1268.7 1081,1269.3 1081.5,1270.1 1082,1270.8 1082.5,1270.8 1083,1271.4 1083.5,1272.4 1084,1272.4 1084.5,1273.5 1085,1273.7 1085.5,1274.4 1086,1275.4 1086.5,1275.3 1087,1275.8 1087.5,1275.9 1088,1276.7 1088.5,1277.2 1089,1277.3 1089.5,1277 1090,1277.7 1090.5,1278.3 1091,1277.8 1091.5,1278.1 1092,1278.1 1092.5,1278.3 1093,1278.3 1093.5,1278.3 1094,1278.8 1094.5,1278.8 1095,1278.2 1095.5,1278.6 1096,1278.7 1096.5,1278.7 1097,1279 1097.5,1279 1098,1279.1 1098.5,1278.7 1099,1278.9 1099.5,1279 1100,1279 1100.5,1279 1101,1278.9 1101.5,1279.1 1102,1279.6 1102.5,1279 1103,1278.7 1103.5,1279.3 1104,1279 1104.5,1279.4 1105,1279.5 1105.5,1279.7 1106,1279.3 1106.5,1278.8 1107,1279.7 1107.5,1279.5 1108,1279.6 1108.5,1279.3 1109,1279.2 1109.5,1279.3 1110,1278.8 1110.5,1279.6 1111,1279.1 1111.5,1279.1 1112,1279.4 1112.5,1279.1 1113,1279.5 1113.5,1279.1 1114,1280 1114.5,1279.7 1115,1279.5 1115.5,1279.4 1116,1279.3 1116.5,1279.2 1117,1278.8 1117.5,1279.2 1118,1279.1 1118.5,1279.2 1119,1279.4 1119.5,1278.8 1120,1279 1120.5,1279.2 1121,1279.2 1121.5,1279.6 1122,1280.1 1122.5,1279.3 1123,1279.5 1123.5,1279.4 1124,1279.4 1124.5,1279.8 1125,1279.4 1125.5,1279.5 1126,1279.4 1126.5,1279.2 1127,1279.7 1127.5,1279.3 1128,1279.8 1128.5,1279.1 1129,1279.5 1129.5,1279.8 1130,1279.2 1130.5,1279.5 1131,1279.8 1131.5,1279.5 1132,1279.2 1132.5,1279.3 1133,1279.5 1133.5,1279.2 1134,1279.3 1134.5,1279.4 1135,1279 1135.5,1279.8 1136,1279.2 1136.5,1279.4 1137,1279.4 1137.5,1279.8 1138,1279.3 1138.5,1279.9 1139,1279.9 1139.5,1279.6 1140,1279 1140.5,1279 1141,1279.3 1141.5,1279.5 1142,1279.6 1142.5,1279.7 1143,1279.5 1143.5,1279.4 1144,1279.5 1144.5,1278.8 1145,1279.7 1145.5,1279 1146,1278.9 1146.5,1279.2 1147,1279.3 1147.5,1279 1148,1279.3 1148.5,1279.4 1149,1279.5 1149.5,1279.5 1150,1279.2 1150.5,1279.4 1151,1279.7 1151.5,1279.3 1152,1279.3 1152.5,1278.8 1153,1279.5 1153.5,1279.9 1154,1279.6 1154.5,1279.3 1155,1279.7 1155.5,1279.7 1156,1279.7 1156.5,1279.1 1157,1279.1 1157.5,1279.6 1158,1279.5 1158.5,1279.5 1159,1279 1159.5,1279.6 1160,1279.9 1160.5,1279.7 1161,1280.1 1161.5,1279.5 1162,1279.4 1162.5,1279.9 1163,1279.6 1163.5,1278.7 1164,1278.9 1164.5,1279.4 1165,1279.2 1165.5,1279.8 1166,1279.8 1166.5,1279.7 1167,1279.3 1167.5,1279.3 1168,1279.6 1168.5,1279.3 1169,1279.5 1169.5,1279.4 1170,1279.6 1170.5,1279.4 1171,1279.1 1171.5,1278.5 1172,1279 1172.5,1278.9 1173,1279.5 1173.5,1278.9 1174,1279.2 1174.5,1279.5 1175,1279.5 1175.5,1279.6 1176,1279.4 1176.5,1279.7 1177,1279.2 1177.5,1279.6 1178,1278.9 1178.5,1279.2 1179,1279.4 1179.5,1279.5 1180,1279.2 1180.5,1279.1 1181,1279 1181.5,1278.7 1182,1278.8 1182.5,1279.7 1183,1278.8 1183.5,1278.9 1184,1278.8 1184.5,1279.2 1185,1279.2 1185.5,1279.1 1186,1278.9 1186.5,1279.2 1187,1278.9 1187.5,1279.3 1188,1279.7 1188.5,1279 1189,1279.3 1189.5,1279.1 1190,1279.1 1190.5,1278.9 1191,1279.3 1191.5,1279.2 1192,1279.6 1192.5,1279.9 1193,1278.9 1193.5,1279.5 1194,1279 1194.5,1279.1 1195,1278.9 1195.5,1279.3 1196,1279.5 1196.5,1279.2 1197,1279.2 1197.5,1279 1198,1279.1 1198.5,1278.8 1199,1279.1 1199.5,1278.6 1200,1279.8 1200.5,1279.5 1201,1279 1201.5,1279 1202,1279 1202.5,1279.2 1203,1279.2 1203.5,1279.6 1204,1279 1204.5,1278.6 1205,1279.2 1205.5,1279.2 1206,1278.9 1206.5,1279.3 1207,1279 1207.5,1278.8 1208,1279 1208.5,1278.7 1209,1278.9 1209.5,1279.5 1210,1279.3 1210.5,1279.2 1211,1279 1211.5,1279.1 1212,1278.7 1212.5,1279 1213,1278.8 1213.5,1278.8 1214,1279.4 1214.5,1278.7 1215,1278.9 1215.5,1278.9 1216,1279.2 1216.5,1278.8 1217,1279 1217.5,1279 1218,1278.8 1218.5,1278.7 1219,1278.6 1219.5,1279.1 1220,1278.6 1220.5,1279.1 1221,1279.2 1221.5,1278.6 1222,1278.5 1222.5,1278.5 1223,1278.6 1223.5,1279.1 1224,1278.5 1224.5,1278.4 1225,1278.2 1225.5,1278.7 1226,1278.7 1226.5,1279 1227,1278.6 1227.5,1278.5 1228,1278.5 1228.5,1279.3 1229,1278.9 1229.5,1278.7 1230,1278.3 1230.5,1278.4 1231,1278.4 1231.5,1278.3 1232,1278.5 1232.5,1278.1 1233,1278.8 1233.5,1278 1234,1278.4 1234.5,1278.4 1235,1278.4 1235.5,1278.5 1236,1278.1 1236.5,1278.1 1237,1278.4 1237.5,1278.3 1238,1277.9 1238.5,1278.1 1239,1277.5 1239.5,1277.9 1240,1277.1 1240.5,1278 1241,1277.4 1241.5,1277.8 1242,1277.6 1242.5,1277.3 1243,1277.6 1243.5,1277.7 1244,1277 1244.5,1277.6 1245,1277.1 1245.5,1276.7 1246,1276.8 1246.5,1276.9 1247,1276.9 1247.5,1276.4 1248,1276.4 1248.5,1276.5 1249,1276.3 1249.5,1276.6 1250,1276.2 1250.5,1276.1 1251,1275.4 1251.5,1275.3 1252,1275 1252.5,1275.1 1253,1275.1 1253.5,1275.2 1254,1274.8 1254.5,1274.1 1255,1274 1255.5,1274.3 1256,1273.5 1256.5,1273.3 1257,1272.4 1257.5,1272.1 1258,1271.9 1258.5,1271.5 1259,1271.3 1259.5,1270.6 1260,1269.6 1260.5,1270 1261,1268.7 1261.5,1267.3 1262,1267.2 1262.5,1265.8 1263,1264.2 1263.5,1262.6 1264,1260.7 1264.5,1257.6 1265,1255.5 1265.5,1251.8 1266,1247.6 1266.5,1242.2 1267,1236.1 1267.5,1229.5 1268,1219.8 1268.5,1211.4 1269,1200.4 1269.5,1187.3 1270,1174.1 1270.5,1159.2 1271,1143.6 1271.5,1127.1 1272,1110.5 1272.5,1094.6 1273,1079.1 1273.5,1065.6 1274,1054.5 1274.5,1046.3 1275,1043.2 1275.5,1043.1 1276,1044.9 1276.5,1050.2 1277,1057.1 1277.5,1066.1 1278,1075.9 1278.5,1087.9 1279,1099.5 1279.5,1112.7 1280,1124.7 1280.5,1138.1 1281,1150.2 1281.5,1162.4 1282,1173.8 1282.5,1184.7 1283,1194.5 1283.5,1204.1 1284,1212.5 1284.5,1220.5 1285,1227.5 1285.5,1234 1286,1239.4 1286.5,1244.1 1287,1247.9 1287.5,1252.3 1288,1255 1288.5,1257.8 1289,1260.4 1289.5,1262.2 1290,1263.9 1290.5,1265.4 1291,1266.1 1291.5,1267.8 1292,1268.5 1292.5,1269.5 1293,1270 1293.5,1270.5 1294,1271.5 1294.5,1271.6 1295,1272.3 1295.5,1272.5 1296,1272.9 1296.5,1273.3 1297,1273.5 1297.5,1273.3 1298,1273.8 1298.5,1274.4 1299,1274.3 1299.5,1274.4 1300,1274.7 1300.5,1275.1 1301,1274.8 1301.5,1275.2 1302,1275.3 1302.5,1275.3 1303,1275.9 1303.5,1275.6 1304,1275.9 1304.5,1276.1 1305,1276.3 1305.5,1276.4 1306,1276.6 1306.5,1276.3 1307,1275.9 1307.5,1276.9 1308,1277.2 1308.5,1276.7 1309,1276.9 1309.5,1277.2 1310,1276.9 1310.5,1277.1 1311,1277.1 1311.5,1277.4 1312,1277.4 1312.5,1277.8 1313,1277.2 1313.5,1277.3 1314,1277.2 1314.5,1277.7 1315,1277.6 1315.5,1277.7 1316,1277.9 1316.5,1277.5 1317,1277.5 1317.5,1278.5 1318,1277.9 1318.5,1277.7 1319,1278.3 1319.5,1278.1 1320,1277.8 1320.5,1278.2 1321,1278.4 1321.5,1278.4 1322,1278.2 1322.5,1278.7 1323,1278 1323.5,1278.3 1324,1278.5 1324.5,1278.1 1325,1278.6 1325.5,1278.5 1326,1278.7 1326.5,1278.5 1327,1279 1327.5,1278.1 1328,1278.4 1328.5,1278.4 1329,1278.6 1329.5,1278.8 1330,1278.3 1330.5,1278.9 1331,1278.9 1331.5,1278.7 1332,1278.3 1332.5,1278.9 1333,1278.8 1333.5,1278.5 1334,1278.6 1334.5,1278.6 1335,1278.4 1335.5,1278.9 1336,1279.1 1336.5,1278.9 1337,1278.7 1337.5,1278.8 1338,1278.9 1338.5,1279.4 1339,1278.8 1339.5,1279 1340,1278.8 1340.5,1279.2 1341,1278.7 1341.5,1279.1 1342,1278.9 1342.5,1279.1 1343,1278.6 1343.5,1279 1344,1279.3 1344.5,1279.2 1345,1278.8 1345.5,1279.7 1346,1279.2 1346.5,1279 1347,1279 1347.5,1278.8 1348,1279.5 1348.5,1279.4 1349,1279.5 1349.5,1278.8 1350,1278.6 1350.5,1278.5 1351,1278.7 1351.5,1279 1352,1278.8 1352.5,1278.7 1353,1279.3 1353.5,1279 1354,1279.3 1354.5,1279.5 1355,1279 1355.5,1279 1356,1279.5 1356.5,1278.8 1357,1279.1 1357.5,1278.9 1358,1279.2 1358.5,1279.1 1359,1279.3 1359.5,1279.1 1360,1279.5 1360.5,1279 1361,1279.2 1361.5,1279.4 1362,1279 1362.5,1279.1 1363,1279.2 1363.5,1279.2 1364,1279.5 1364.5,1279.1 1365,1278.9 1365.5,1279.5 1366,1279.1 1366.5,1279.1 1367,1279.2 1367.5,1279.6 1368,1279.5 1368.5,1279.4 1369,1279.4 1369.5,1279.2 1370,1279.8 1370.5,1279.6 1371,1279.1 1371.5,1279.6 1372,1279 1372.5,1279.1 1373,1279.2 1373.5,1279.8 1374,1279.9 1374.5,1279.4 1375,1279.2 1375.5,1279.7 1376,1279.2 1376.5,1279.8 1377,1279.1 1377.5,1279.6 1378,1279.2 1378.5,1279.9 1379,1279.4 1379.5,1279.2 1380,1279.4 1380.5,1278.8 1381,1279.4 1381.5,1279.6 1382,1280 1382.5,1279.1 1383,1279.7 1383.5,1279.8 1384,1279.6 1384.5,1279.3 1385,1279.5 1385.5,1279.2 1386,1279.5 1386.5,1279.1 1387,1279.3 1387.5,1279.5 1388,1279.2 1388.5,1279.1 1389,1279.4 1389.5,1279.5 1390,1279.6 1390.5,1279.6 1391,1279.9 1391.5,1279.5 1392,1279.8 1392.5,1279.2 1393,1279.6 1393.5,1279.7 1394,1280 1394.5,1279.3 1395,1280 1395.5,1279.5 1396,1279.4 1396.5,1279 1397,1279.7 1397.5,1279.3 1398,1279.7 1398.5,1279.5 1399,1279.7 1399.5,1279.5 1400,1279.3 1400.5,1279.4 1401,1279.5 1401.5,1279.6 1402,1279.3 1402.5,1279.8 1403,1279 1403.5,1279.2 1404,1279.7 1404.5,1279.6 1405,1280.1 1405.5,1279.8 1406,1279.3 1406.5,1279.2 1407,1279.5 1407.5,1279.5 1408,1279.7 1408.5,1279.4 1409,1279.3 1409.5,1279.3 1410,1279.5 1410.5,1279.3 1411,1279.5 1411.5,1279.7 1412,1279.5 1412.5,1279.2 1413,1279.7 1413.5,1279.8 1414,1279.3 1414.5,1279.4 1415,1279.1 1415.5,1279.3 1416,1279.2 1416.5,1279.2 1417,1279.4 1417.5,1280.1 1418,1279.9 1418.5,1279.4 1419,1279.7 1419.5,1279.6 1420,1279.6 1420.5,1279 1421,1279.5 1421.5,1279.2 1422,1279.4 1422.5,1279.5 1423,1278.6 1423.5,1278.9 1424,1279.7 1424.5,1279.9 1425,1279.8 1425.5,1279.3 1426,1279.5 1426.5,1279.7 1427,1279.5 1427.5,1279 1428,1279.8 1428.5,1279.4 1429,1279.6 1429.5,1279.1 1430,1279.3 1430.5,1279.9 1431,1279.4 1431.5,1279.7 1432,1280 1432.5,1279.6 1433,1279.6 1433.5,1279.5 1434,1279.8 1434.5,1279.7 1435,1279.7 1435.5,1280 1436,1279.7 1436.5,1279.9 1437,1279.4 1437.5,1279.5 1438,1279.8 1438.5,1279.4 1439,1279.2 1439.5,1279.6 1440,1279.5 1440.5,1279.7 1441,1280 1441.5,1279.5 1442,1279.3 1442.5,1279.5 1443,1279.4 1443.5,1279.4 1444,1279.9 1444.5,1279.7 1445,1279.7 1445.5,1279.5 1446,1279.9 1446.5,1279.6 1447,1280.1 1447.5,1279.6 1448,1279.6 1448.5,1279.8 1449,1280.2 1449.5,1279.1 1450,1279.7 1450.5,1279.3 1451,1279.1 1451.5,1279.5 1452,1279.8 1452.5,1279.1 1453,1279.5 1453.5,1280.1 1454,1279.9 1454.5,1279.5 1455,1279.8 1455.5,1279.6 1456,1279.4 1456.5,1279.4 1457,1279.9 1457.5,1279.4 1458,1279.6 1458.5,1279.5 1459,1279.2 1459.5,1279.5 1460,1280.1 1460.5,1279.3 1461,1279.6 1461.5,1279.9 1462,1279.7 1462.5,1279.6 1463,1279.7 1463.5,1279.7 1464,1279.6 1464.5,1279.3 1465,1279.4 1465.5,1279.1 1466,1279.6 1466.5,1279.5 1467,1279.4 1467.5,1279.1 1468,1279.4 1468.5,1279 1469,1279.7 1469.5,1279.2 1470,1279.8 1470.5,1279.3 1471,1279.7 1471.5,1279.7 1472,1279.7 1472.5,1279.4 1473,1279 1473.5,1279.6 1474,1279.3 1474.5,1279 1475,1279.1 1475.5,1279.5 1476,1279.6 1476.5,1279.4 1477,1279.5 1477.5,1279.6 1478,1279.1 1478.5,1279.2 1479,1279 1479.5,1279 1480,1278.9 1480.5,1278.9 1481,1278.6 1481.5,1278.7 1482,1278.8 1482.5,1278.3 1483,1278.4 1483.5,1277.8 1484,1277.7 1484.5,1278.2 1485,1277.5 1485.5,1277.6 1486,1276.5 1486.5,1276.2 1487,1276.6 1487.5,1276.3 1488,1275.4 1488.5,1276 1489,1275.7 1489.5,1275.1 1490,1275.2 1490.5,1275 1491,1274.6 1491.5,1274.2 1492,1274.4 1492.5,1273.9 1493,1273.8 1493.5,1273.4 1494,1273.8 1494.5,1274 1495,1273.6 1495.5,1273.6 1496,1273.4 1496.5,1273.8 1497,1274.2 1497.5,1274 1498,1274.4 1498.5,1274.7 1499,1274.3 1499.5,1274.6 1500,1275.2 1500.5,1275.1 1501,1275.1 1501.5,1275.7 1502,1276 1502.5,1276.4 1503,1276.1 1503.5,1276.7 1504,1276.9 1504.5,1276.2 1505,1277.4 1505.5,1277.4 1506,1277.1 1506.5,1278.3 1507,1278.1 1507.5,1278.2 1508,1278.9 1508.5,1278.7 1509,1278.2 1509.5,1278.6 1510,1279.2 1510.5,1279.2 1511,1279.3 1511.5,1279 1512,1279.4 1512.5,1279 1513,1279.1 1513.5,1279.4 1514,1279.3 1514.5,1279.5 1515,1279.3 1515.5,1279.5 1516,1280 1516.5,1279.6 1517,1279.8 1517.5,1279.1 1518,1279.3 1518.5,1279.8 1519,1279.1 1519.5,1279.4 1520,1279.5 1520.5,1279.9 1521,1279.1 1521.5,1279.4 1522,1279.6 1522.5,1279.6 1523,1279.2 1523.5,1279.9 1524,1279.8 1524.5,1280 1525,1279.8 1525.5,1279.8 1526,1279.6 1526.5,1279.6 1527,1279.3 1527.5,1279.8 1528,1279.3 1528.5,1280 1529,1279.8 1529.5,1279.5 1530,1279.7 1530.5,1279.2 1531,1279.4 1531.5,1279.5 1532,1279.3 1532.5,1279.5 1533,1279.6 1533.5,1279.5 1534,1279.4 1534.5,1279.3 1535,1279.1 1535.5,1279.8 1536,1279.6 1536.5,1280 1537,1279.4 1537.5,1279.5 1538,1279.9 1538.5,1280.1 1539,1280 1539.5,1279.9 1540,1279.3 1540.5,1279.8 1541,1280.2 1541.5,1279.1 1542,1279.8 1542.5,1280.3 1543,1279.4 1543.5,1279.8 1544,1280.2 1544.5,1279.9 1545,1279.7 1545.5,1279.9 1546,1279.7 1546.5,1279.9 1547,1279.7 1547.5,1279.9 1548,1279.5 1548.5,1279.7 1549,1279.8 1549.5,1279.1 1550,1280 1550.5,1279.6 1551,1279.6 1551.5,1279.3 1552,1279.7 1552.5,1279.5 1553,1279.9 1553.5,1280.2 1554,1279.6 1554.5,1279.5 1555,1279.7 1555.5,1279.7 1556,1279.9 1556.5,1279.2 1557,1279.9 1557.5,1279.7 1558,1279.6 1558.5,1279.3 1559,1280 1559.5,1280 1560,1279.8 1560.5,1279.9 1561,1280 1561.5,1279.8 1562,1280 1562.5,1279.5 1563,1280 1563.5,1279.1 1564,1280.1 1564.5,1280.2 1565,1280.1 1565.5,1279.5 1566,1279.7 1566.5,1279.9 1567,1279.5 1567.5,1279.9 1568,1279.7 1568.5,1280.2 1569,1279.6 1569.5,1279.6 1570,1279.9 1570.5,1280 1571,1279.7 1571.5,1279.4 1572,1279.4 1572.5,1279.3 1573,1279.8 1573.5,1279.5 1574,1279.8 1574.5,1279.4 1575,1279.7 1575.5,1279.9 1576,1279.5 1576.5,1280.1 1577,1279.8 1577.5,1279.5 1578,1279.7 1578.5,1279.7 1579,1279.5 1579.5,1279.6 1580,1279.8 1580.5,1279.2 1581,1280.4 1581.5,1280 1582,1280.1 1582.5,1280.4 1583,1280 1583.5,1279.8 1584,1279.7 1584.5,1279.9 1585,1280.2 1585.5,1279.5 1586,1280.3 1586.5,1279.7 1587,1279.5 1587.5,1280.1 1588,1279.6 1588.5,1280 1589,1279.4 1589.5,1280 1590,1279.6 1590.5,1280.1 1591,1279.3 1591.5,1279.6 1592,1279.5 1592.5,1279.8 1593,1279.5 1593.5,1279.7 1594,1279.8 1594.5,1279.7 1595,1279.8 1595.5,1279.9 1596,1279.3 1596.5,1280.1 1597,1279.5 1597.5,1279.6 1598,1280.2 1598.5,1279.6 1599,1279.7 1599.5,1280 1600,1279.6 1600.5,1279.7 1601,1279.7 1601.5,1279.7 1602,1279.5 1602.5,1280.1 1603,1279.8 1603.5,1279.9 1604,1279.8 1604.5,1279.6 1605,1280.1 1605.5,1279.6 1606,1280 1606.5,1279.6 1607,1279.6 1607.5,1279.8 1608,1280.4 1608.5,1280 1609,1279.8 1609.5,1279.9 1610,1280.1 1610.5,1279.7 1611,1279.3 1611.5,1279.5 1612,1279.8 1612.5,1279.6 1613,1279.7 1613.5,1280.2 1614,1279.7 1614.5,1279.6 1615,1279.8 1615.5,1280.1 1616,1280.3 1616.5,1280 1617,1279.7 1617.5,1279.7 1618,1279.5 1618.5,1279.6 1619,1280 1619.5,1280 1620,1279.9 1620.5,1279.5 1621,1279.8 1621.5,1279.6 1622,1280.2 1622.5,1279.8 1623,1279.8 1623.5,1279.8 1624,1279.8 1624.5,1279.8 1625,1279.6 1625.5,1279.9 1626,1279.8 1626.5,1280 1627,1279.9 1627.5,1280 1628,1279.7 1628.5,1279.8 1629,1279.2 1629.5,1279.6 1630,1279.7 1630.5,1279.1 1631,1280.1 1631.5,1280.1 1632,1279.8 1632.5,1280.4 1633,1279.4 1633.5,1279.8 1634,1279.8 1634.5,1279.7 1635,1280.2 1635.5,1280.1 1636,1279.9 1636.5,1279.5 1637,1279.9 1637.5,1279.8 1638,1279.9 1638.5,1279.4 1639,1279.5 1639.5,1280.1 1640,1279.8 1640.5,1279.8 1641,1279.8 1641.5,1279.1 1642,1280.2 1642.5,1279.4 1643,1279.5 1643.5,1279.9 1644,1280.2 1644.5,1280.1 1645,1279.7 1645.5,1279.6 1646,1280 1646.5,1279.9 1647,1279.3 1647.5,1280.2 1648,1279.3 1648.5,1279.9 1649,1279.9 1649.5,1280 1650,1279.8 1650.5,1280 1651,1279.9 1651.5,1279.6 1652,1279.6 1652.5,1280.2 1653,1279.3 1653.5,1280 1654,1279.6 1654.5,1279.3 1655,1279.6 1655.5,1279.9 1656,1279 1656.5,1280 1657,1280.1 1657.5,1279.7 1658,1279.7 1658.5,1279.8 1659,1280 1659.5,1279.5 1660,1279.7 1660.5,1279.9 1661,1279.4 1661.5,1279.9 1662,1279.8 1662.5,1280 1663,1279.5 1663.5,1279.8 1664,1279.9 1664.5,1279.8 1665,1279.5 1665.5,1280.1 1666,1279.8 1666.5,1279.8 1667,1279.8 1667.5,1280 1668,1279.8 1668.5,1279.6 1669,1280 1669.5,1279.8 1670,1279.8 1670.5,1279.8 1671,1279.5 1671.5,1279.8 1672,1279.9 1672.5,1279.4 1673,1279.7 1673.5,1279.8 1674,1280 1674.5,1279.7 1675,1279.8 1675.5,1279.9 1676,1279.4 1676.5,1279.6 1677,1279.7 1677.5,1279.9 1678,1280.1 1678.5,1279.8 1679,1279.7 1679.5,1279.6 1680,1279.8 1680.5,1280.2 1681,1279.7 1681.5,1279.6 1682,1280.1 1682.5,1279.7 1683,1279.7 1683.5,1279.5 1684,1280 1684.5,1279.6 1685,1279.2 1685.5,1279.1 1686,1279.8 1686.5,1279.5 1687,1279.8 1687.5,1279.8 1688,1280 1688.5,1280 1689,1279.3 1689.5,1279.5 1690,1279.4 1690.5,1279.8 1691,1279.1 1691.5,1279.7 1692,1279 1692.5,1279.8 1693,1279.8 1693.5,1279 1694,1279.4 1694.5,1279.2 1695,1278.9 1695.5,1279.5 1696,1279 1696.5,1279.5 1697,1279.2 1697.5,1279.5 1698,1278.7 1698.5,1278.9 1699,1278.5 1699.5,1278.1 1700,1278.1 1700.5,1277.4 1701,1276.6 1701.5,1276 1702,1274.7 1702.5,1274.2 1703,1273.1 1703.5,1270.8 1704,1269.6 1704.5,1267.8 1705,1266 1705.5,1264.8 1706,1263.5 1706.5,1261.9 1707,1260.8 1707.5,1260.9 1708,1260.4 1708.5,1260.7 1709,1261.5 1709.5,1262.9 1710,1263.6 1710.5,1264.6 1711,1265.1 1711.5,1265.9 1712,1266.1 1712.5,1266.8 1713,1266.2 1713.5,1265.9 1714,1266.6 1714.5,1266.4 1715,1266.6 1715.5,1267.2 1716,1267.8 1716.5,1267.9 1717,1269.3 1717.5,1270.6 1718,1271.4 1718.5,1271.9 1719,1273 1719.5,1274.1 1720,1275.3 1720.5,1275.6 1721,1276.2 1721.5,1276.6 1722,1277.1 1722.5,1277.5 1723,1278 1723.5,1278.1 1724,1278.5 1724.5,1278.5 1725,1279.2 1725.5,1279.2 1726,1279.1 1726.5,1279.2 1727,1279.5 1727.5,1279.4 1728,1279.3 1728.5,1278.7 1729,1279 1729.5,1279.7 1730,1279.5 1730.5,1279.3 1731,1279.1 1731.5,1279.8 1732,1279.3 1732.5,1279.6 1733,1279.6 1733.5,1279.5 1734,1279.3 1734.5,1279.7 1735,1279.3 1735.5,1279.5 1736,1279.7 1736.5,1280 1737,1279.6 1737.5,1279.7 1738,1279.9 1738.5,1279.1 1739,1279.5 1739.5,1279.6 1740,1279.5 1740.5,1280 1741,1279.6 1741.5,1279.9 1742,1280 1742.5,1279.7 1743,1279.9 1743.5,1280.2 1744,1280 1744.5,1279.8 1745,1279.3 1745.5,1279.6 1746,1279.8 1746.5,1279.9 1747,1279.9 1747.5,1279.8 1748,1279.5 1748.5,1280 1749,1280.1 1749.5,1279.8 1750,1279.8 1750.5,1280.1 1751,1279.7 1751.5,1279.9 1752,1280.1 1752.5,1279.6 1753,1279.8 1753.5,1279.6 1754,1279.5 1754.5,1279.3 1755,1279.9 1755.5,1280.5 1756,1279.8 1756.5,1280.3 1757,1280.1 1757.5,1279.8 1758,1280.1 1758.5,1279.7 1759,1279.3 1759.5,1280.1 1760,1279.8 1760.5,1279.8 1761,1280.1 1761.5,1280.1 1762,1279.8 1762.5,1280 1763,1280 1763.5,1279.7 1764,1280.1 1764.5,1279.7 1765,1280 1765.5,1280.1 1766,1280.2 1766.5,1279.4 1767,1279.7 1767.5,1279.8 1768,1279.7 1768.5,1279.8 1769,1279.9 1769.5,1279.9 1770,1280.5 1770.5,1280 1771,1279.9 1771.5,1279.7 1772,1279.8 1772.5,1279.8 1773,1280.1 1773.5,1279.6 1774,1279.8 1774.5,1279.6 1775,1279.4 1775.5,1280.1 1776,1279.9 1776.5,1280 1777,1280.4 1777.5,1280.3 1778,1279.9 1778.5,1280 1779,1279.8 1779.5,1279.8 1780,1279.5 1780.5,1280.1 1781,1279.9 1781.5,1280.2 1782,1280.4 1782.5,1279.7 1783,1280 1783.5,1279.9 1784,1280.3 1784.5,1279.9 1785,1280.4 1785.5,1280.5 1786,1280.5 1786.5,1280.5 1787,1280 1787.5,1279.9 1788,1279.6 1788.5,1280 1789,1279.5 1789.5,1279.7 1790,1280.3 1790.5,1280.2 1791,1279.6 1791.5,1280.5 1792,1279.6 1792.5,1279.6 1793,1280.3 1793.5,1280.4 1794,1279.9 1794.5,1280.1 1795,1279.5 1795.5,1280.1 1796,1279.8 1796.5,1280.2 1797,1279.8 1797.5,1279.8 1798,1280.1 1798.5,1280.1 1799,1279.8 1799.5,1279.5 1800,1280 1800.5,1280.3 1801,1280.1 1801.5,1279.6 1802,1280 1802.5,1280 1803,1280.4 1803.5,1279.9 1804,1279.9 1804.5,1280.4 1805,1279.6 1805.5,1279.7 1806,1279.7 1806.5,1280.2 1807,1279.7 1807.5,1280.1 1808,1279.7 1808.5,1280.3 1809,1280.1 1809.5,1279.8 1810,1280.1 1810.5,1280 1811,1279.9 1811.5,1279.7 1812,1280.5 1812.5,1280 1813,1279.8 1813.5,1280 1814,1279.9 1814.5,1279.6 1815,1280.2 1815.5,1279.5 1816,1280.2 1816.5,1279.4 1817,1279.6 1817.5,1280.3 1818,1279.6 1818.5,1280 1819,1280 1819.5,1280.3 1820,1280.4 1820.5,1280.2 1821,1280.1 1821.5,1280.3 1822,1280.2 1822.5,1279.5 1823,1280.1 1823.5,1279.7 1824,1280.7 1824.5,1280.3 1825,1279.8 1825.5,1280.5 1826,1279.7 1826.5,1280.1 1827,1279.6 1827.5,1279.9 1828,1280 1828.5,1279.6 1829,1280.1 1829.5,1280.2 1830,1280.4 1830.5,1280.3 1831,1280.1 1831.5,1280.2 1832,1279.7 1832.5,1279.8 1833,1280.3 1833.5,1279.7 1834,1279.8 1834.5,1280.2 1835,1279.9 1835.5,1279.6 1836,1279.8 1836.5,1279.8 1837,1279.6 1837.5,1279.8 1838,1280.2 1838.5,1279.8 1839,1280 1839.5,1279.8 1840,1279.9 1840.5,1280.2 1841,1280.1 1841.5,1279.9 1842,1279.9 1842.5,1280.3 1843,1279.9 1843.5,1279.6 1844,1280.2 1844.5,1280.2 1845,1279.9 1845.5,1279.8 1846,1280.3 1846.5,1280.3 1847,1280.1 1847.5,1280 1848,1280.2 1848.5,1280.4 1849,1279.8 1849.5,1280.2 1850,1279.4 1850.5,1279.8 1851,1280.1 1851.5,1280 1852,1279.7 1852.5,1280.2 1853,1280.2 1853.5,1280.2 1854,1279.9 1854.5,1279.9 1855,1279.9 1855.5,1280.1 1856,1280 1856.5,1280 1857,1280.2 1857.5,1280.3 1858,1280 1858.5,1280.3 1859,1279.5 1859.5,1280.7 1860,1279.7 1860.5,1279.9 1861,1280.1 1861.5,1280.3 1862,1280 1862.5,1279.6 1863,1279.9 1863.5,1279.7 1864,1280.2 1864.5,1279.9 1865,1279.3 1865.5,1279.8 1866,1280.1 1866.5,1279.7 1867,1280.1 1867.5,1279.5 1868,1279.9 1868.5,1280.2 1869,1280 1869.5,1279.7"/>
<polyline class="cv" stroke-width="4" stroke="#f00" points="170,997.7 172,997.6 174,997.6 176,997.6 178,997.6 180,997.5 182,997.5 184,997.5 186,997.5 188,997.4 190,997.4 192,997.3 194,997.3 196,997.3 198,997.2 200,997.2 202,997.1 204,997.1 206,997 208,996.9 210,996.9 212,996.8 214,996.7 216,996.6 218,996.5 220,996.4 222,996.3 224,996.2 226,996 228,995.9 230,995.7 232,995.4 234,995 236,994.5 238,993.8 240,993 242,992.2 244,991.4 246,990.8 248,990.6 250,990.6 252,990.6 254,990.5 256,990.2 258,989.6 260,988.7 260.5,988.5 261,988.2 261.5,987.9 262,987.6 262.5,987.2 263,986.8 263.5,986.5 264,986 264.5,985.6 265,985.1 265.5,984.7 266,984.1 266.5,983.6 267,983 267.5,982.4 268,981.7 268.5,981 269,980.2 269.5,979.4 270,978.6 270.5,977.7 271,976.7 271.5,975.6 272,974.5 272.5,973.2 273,971.9 273.5,970.5 274,968.9 274.5,967.3 275,965.4 275.5,963.5 276,961.3 276.5,958.9 277,956.3 277.5,953.4 278,950.2 278.5,946.6 279,942.6 279.5,938.1 280,932.9 280.5,926.8 281,919.8 281.5,911.5 282,901.5 282.5,889.5 283,874.9 283.5,857.1 284,835.5 284.5,809.3 285,777.7 285.5,740 286,695.7 286.5,644.1 287,585.3 287.5,519.3 288,447.2 288.5,370.5 289,292.1 289.5,216.3 290,148.9 290.5,96.8 291,66.6 291.5,62.1 292,76.4 292.5,106.1 293,149 293.5,201.9 294,261.9 294.5,325.9 295,391.3 295.5,456.2 296,518.7 296.5,577.8 297,632.4 297.5,682.1 298,726.5 298.5,765.6 299,799.6 299.5,828.8 300,853.5 300.5,874.2 301,891.4 301.5,905.6 302,917.3 302.5,926.9 303,934.7 303.5,941.2 304,946.6 304.5,951 305,954.8 305.5,958 306,960.8 306.5,963.3 307,965.5 307.5,967.4 308,969.2 308.5,970.7 309,972.2 309.5,973.5 310,974.8 310.5,975.9 311,977 311.5,978 312,978.9 312.5,979.8 313,980.6 313.5,981.3 314,982 314.5,982.7 315,983.3 315.5,983.9 316,984.5 316.5,985 317,985.5 317.5,986 318,986.4 318.5,986.8 319,987.2 319.5,987.6 320,988 320.5,988.3 321,988.7 321.5,989 322,989.3 322.5,989.5 323,989.8 323.5,990.1 325.5,991 327.5,991.8 329.5,992.4 331.5,993 333.5,993.5 335.5,993.9 337.5,994.3 339.5,994.6 341.5,994.9 343.5,995.2 345.5,995.4 347.5,995.6 349.5,995.8 351.5,995.9 353.5,996.1 355.5,996.2 357.5,996.4 359.5,996.5 361.5,996.6 363.5,996.7 365.5,996.8 367.5,996.8 369.5,996.9 371.5,997 373.5,997.1 375.5,997.1 377.5,997.2 379.5,997.2 381.5,997.3 383.5,997.3 385.5,997.4 387.5,997.4 389.5,997.4 391.5,997.5 393.5,997.5 395.5,997.5 397.5,997.6 399.5,997.6 401.5,997.6 403.5,997.7 405.5,997.7 407.5,997.7 409.5,997.7 411.5,997.8 413.5,997.8 415.5,997.8 417.5,997.8 419.5,997.8 421.5,997.8 423.5,997.9 425.5,997.9 427.5,997.9 429.5,997.9 431.5,997.9 433.5,997.9 435.5,997.9 437.5,998 439.5,998 441.5,998 443.5,998 445.5,998 447.5,998 449.5,998 451.5,998 453.5,998 455.5,998 457.5,998.1 459.5,998.1 461.5,998.1 463.5,998.1 465.5,998.1 467.5,998.1 469.5,998.1 471.5,998.1 473.5,998.1 475.5,998.1 477.5,998.1 479.5,998.1 481.5,998.1 483.5,998.1 485.5,998.1 487.5,998.1 489.5,998.2 491.5,998.2 493.5,998.2 495.5,998.2 497.5,998.2 499.5,998.2 501.5,998.2 503.5,998.2 505.5,998.2 507.5,998.2 509.5,998.2 511.5,998.2 513.5,998.2 515.5,998.2 517.5,998.2 519.5,998.2 521.5,998.2 523.5,998.2 525.5,998.2 527.5,998.2 529.5,998.2 531.5,998.2 533.5,998.2 535.5,998.2 537.5,998.2 539.5,998.2 541.5,998.2 543.5,998.3 545.5,998.3 547.5,998.3 549.5,998.3 551.5,998.3 553.5,998.3 555.5,998.3 557.5,998.3 559.5,998.3 561.5,998.3 563.5,998.3 565.5,998.3 567.5,998.3 569.5,998.3 571.5,998.3 573.5,998.3 575.5,998.3 577.5,998.3 579.5,998.3 581.5,998.3 583.5,998.3 585.5,998.3 587.5,998.3 589.5,998.3 591.5,998.3 593.5,998.3 595.5,998.3 597.5,998.3 599.5,998.3 601.5,998.3 603.5,998.3 605.5,998.3 607.5,998.3 609.5,998.3 611.5,998.3 613.5,998.3 615.5,998.3 617.5,998.3 619.5,998.3 621.5,998.3 623.5,998.3 625.5,998.3 627.5,998.3 629.5,998.3 631.5,998.3 633.5,998.3 635.5,998.3 637.5,998.3 639.5,998.3 641.5,998.3 643.5,998.3 645.5,998.3 647.5,998.3 649.5,998.3 651.5,998.3 653.5,998.3 655.5,998.3 657.5,998.3 659.5,998.3 661.5,998.3 663.5,998.3 665.5,998.3 667.5,998.3 669.5,998.3 671.5,998.3 673.5,998.3 675.5,998.3 677.5,998.3 679.5,998.3 681.5,998.3 683.5,998.3 685.5,998.3 687.5,998.3 689.5,998.3 691.5,998.3 693.5,998.3 695.5,998.3 697.5,998.3 699.5,998.3 701.5,998.3 703.5,998.3 705.5,998.3 707.5,998.3 709.5,998.3 711.5,998.3 713.5,998.3 715.5,998.3 717.5,998.3 719.5,998.3 721.5,998.3 723.5,998.3 725.5,998.3 727.5,998.3 729.5,998.3 731.5,998.3 733.5,998.3 735.5,998.3 737.5,998.3 739.5,998.2 741.5,998.2 743.5,998.2 745.5,998.2 747.5,998.2 749.5,998.2 751.5,998.2 753.5,998.2 755.5,998.2 757.5,998.1 759.5,998.1 761.5,998.1 763.5,998.1 765.5,998.1 767.5,998.1 769.5,998 771.5,998 773.5,998 775.5,997.9 777.5,997.9 779.5,997.8 781.5,997.8 783.5,997.7 785.5,997.6 787.5,997.6 789.5,997.5 791.5,997.3 793.5,997.2 795.5,997 797.5,996.7 799.5,996.3 801.5,995.8 803.5,994.9 804,994.6 804.5,994.3 805,993.9 805.5,993.5 806,993.1 806.5,992.6 807,992.1 807.5,991.6 808,991 808.5,990.3 809,989.6 809.5,988.8 810,988 810.5,987.2 811,986.2 811.5,985.2 812,984.2 812.5,983.1 813,982 813.5,980.8 814,979.5 814.5,978.3 815,977 815.5,975.6 816,974.3 816.5,972.9 817,971.6 817.5,970.2 818,968.9 818.5,967.7 819,966.4 819.5,965.3 820,964.2 820.5,963.2 821,962.3 821.5,961.6 822,961 822.5,960.6 823,960.3 825,960.7 825.5,961.2 826,961.9 826.5,962.6 827,963.5 827.5,964.4 828,965.4 828.5,966.6 829,967.7 829.5,968.9 830,970.2 830.5,971.5 831,972.8 831.5,974 832,975.3 832.5,976.6 833,977.8 833.5,979.1 834,980.2 834.5,981.4 835,982.5 835.5,983.6 836,984.6 836.5,985.6 837,986.5 837.5,987.4 838,988.2 838.5,988.9 839,989.7 839.5,990.3 840,991 840.5,991.5 841,992.1 841.5,992.6 842,993 842.5,993.4 843,993.8 843.5,994.2 844,994.5 844.5,994.8 845,995 847,995.8 849,996.4 851,996.7 853,997 855,997.2 857,997.3 859,997.5 861,997.6 863,997.6 865,997.7 867,997.8 869,997.8 871,997.9 873,997.9 875,998 877,998 879,998 881,998.1 883,998.1 885,998.1 887,998.1 889,998.2 891,998.2 893,998.2 895,998.2 897,998.2 899,998.2 901,998.3 903,998.3 905,998.3 907,998.3 909,998.3 911,998.3 913,998.3 915,998.3 917,998.3 919,998.3 921,998.3 923,998.3 925,998.3 927,998.4 929,998.4 931,998.4 933,998.4 935,998.4 937,998.4 939,998.4 941,998.4 943,998.4 945,998.4 947,998.4 949,998.4 951,998.4 953,998.4 955,998.4 957,998.4 959,998.4 961,998.4 963,998.4 965,998.4 967,998.4 969,998.4 971,998.4 973,998.4 975,998.4 977,998.4 979,998.4 981,998.4 983,998.4 985,998.4 987,998.4 989,998.4 991,998.4 993,998.4 995,998.4 997,998.4 999,998.4 1001,998.4 1003,998.5 1005,998.5 1007,998.5 1009,998.5 1011,998.5 1013,998.5 1015,998.5 1017,998.5 1019,998.5 1021,998.5 1023,998.5 1025,998.5 1027,998.5 1029,998.5 1031,998.5 1033,998.5 1035,998.5 1037,998.5 1039,998.5 1041,998.5 1043,998.5 1045,998.5 1047,998.5 1049,998.5 1051,998.5 1053,998.5 1055,998.5 1057,998.5 1059,998.5 1061,998.5 1063,998.5 1065,998.5 1067,998.5 1069,998.5 1071,998.5 1073,998.5 1075,998.5 1077,998.5 1079,998.5 1081,998.5 1083,998.5 1085,998.5 1087,998.5 1089,998.5 1091,998.5 1093,998.5 1095,998.5 1097,998.5 1099,998.5 1101,998.5 1103,998.5 1105,998.5 1107,998.5 1109,998.5 1111,998.5 1113,998.5 1115,998.5 1117,998.5 1119,998.4 1121,998.4 1123,998.4 1125,998.4 1127,998.4 1129,998.4 1131,998.4 1133,998.4 1135,998.4 1137,998.4 1139,998.4 1141,998.4 1143,998.4 1145,998.4 1147,998.4 1149,998.4 1151,998.4 1153,998.4 1155,998.4 1157,998.4 1159,998.4 1161,998.4 1163,998.4 1165,998.4 1167,998.4 1169,998.4 1171,998.4 1173,998.3 1175,998.3 1177,998.3 1179,998.3 1181,998.3 1183,998.3 1185,998.3 1187,998.3 1189,998.3 1191,998.3 1193,998.2 1195,998.2 1197,998.2 1199,998.2 1201,998.2 1203,998.1 1205,998.1 1207,998.1 1209,998.1 1211,998 1213,998 1215,998 1217,997.9 1219,997.9 1221,997.8 1223,997.8 1225,997.7 1227,997.6 1229,997.6 1231,997.5 1233,997.4 1235,997.3 1237,997.1 1239,997 1241,996.8 1243,996.6 1245,996.3 1247,996 1249,995.6 1251,995 1253,994.1 1253.5,993.8 1254,993.5 1254.5,993.1 1255,992.8 1255.5,992.3 1256,991.9 1256.5,991.4 1257,990.8 1257.5,990.2 1258,989.5 1258.5,988.7 1259,987.9 1259.5,987 1260,986.1 1260.5,985 1261,983.9 1261.5,982.7 1262,981.4 1262.5,980 1263,978.5 1263.5,976.9 1264,975.2 1264.5,973.4 1265,971.6 1265.5,969.6 1266,967.6 1266.5,965.6 1267,963.4 1267.5,961.2 1268,959 1268.5,956.7 1269,954.5 1269.5,952.2 1270,950 1270.5,947.8 1271,945.7 1271.5,943.7 1272,941.8 1272.5,940.1 1273,938.5 1273.5,937.2 1274,936 1274.5,935.2 1275,934.6 1275.5,934.2 1277.5,935.6 1278,936.5 1278.5,937.7 1279,939 1279.5,940.5 1280,942.1 1280.5,943.9 1281,945.8 1281.5,947.7 1282,949.8 1282.5,951.8 1283,953.9 1283.5,956 1284,958.1 1284.5,960.2 1285,962.2 1285.5,964.2 1286,966.2 1286.5,968.1 1287,970 1287.5,971.8 1288,973.5 1288.5,975.1 1289,976.7 1289.5,978.2 1290,979.6 1290.5,980.9 1291,982.1 1291.5,983.3 1292,984.4 1292.5,985.4 1293,986.4 1293.5,987.2 1294,988.1 1294.5,988.8 1295,989.5 1295.5,990.1 1296,990.7 1296.5,991.2 1297,991.7 1297.5,992.2 1298,992.6 1298.5,993 1299,993.3 1299.5,993.6 1300,993.9 1300.5,994.1 1302.5,994.9 1304.5,995.5 1306.5,995.9 1308.5,996.3 1310.5,996.5 1312.5,996.7 1314.5,996.9 1316.5,997.1 1318.5,997.2 1320.5,997.3 1322.5,997.4 1324.5,997.5 1326.5,997.6 1328.5,997.7 1330.5,997.7 1332.5,997.8 1334.5,997.8 1336.5,997.9 1338.5,997.9 1340.5,998 1342.5,998 1344.5,998.1 1346.5,998.1 1348.5,998.1 1350.5,998.1 1352.5,998.2 1354.5,998.2 1356.5,998.2 1358.5,998.2 1360.5,998.2 1362.5,998.3 1364.5,998.3 1366.5,998.3 1368.5,998.3 1370.5,998.3 1372.5,998.3 1374.5,998.3 1376.5,998.4 1378.5,998.4 1380.5,998.4 1382.5,998.4 1384.5,998.4 1386.5,998.4 1388.5,998.4 1390.5,998.4 1392.5,998.4 1394.5,998.4 1396.5,998.4 1398.5,998.4 1400.5,998.5 1402.5,998.5 1404.5,998.5 1406.5,998.5 1408.5,998.5 1410.5,998.5 1412.5,998.5 1414.5,998.5 1416.5,998.5 1418.5,998.5 1420.5,998.5 1422.5,998.5 1424.5,998.5 1426.5,998.5 1428.5,998.5 1430.5,998.5 1432.5,998.5 1434.5,998.5 1436.5,998.5 1438.5,998.5 1440.5,998.5 1442.5,998.5 1444.5,998.5 1446.5,998.5 1448.5,998.5 1450.5,998.5 1452.5,998.5 1454.5,998.5 1456.5,998.5 1458.5,998.5 1460.5,998.6 1462.5,998.6 1464.5,998.6 1466.5,998.6 1468.5,998.6 1470.5,998.6 1472.5,998.6 1474.5,998.6 1476.5,998.6 1478.5,998.6 1480.5,998.6 1482.5,998.6 1484.5,998.6 1486.5,998.6 1488.5,998.6 1490.5,998.6 1492.5,998.6 1494.5,998.6 1496.5,998.6 1498.5,998.6 1500.5,998.6 1502.5,998.6 1504.5,998.6 1506.5,998.6 1508.5,998.6 1510.5,998.6 1512.5,998.6 1514.5,998.6 1516.5,998.6 1518.5,998.6 1520.5,998.6 1522.5,998.6 1524.5,998.6 1526.5,998.6 1528.5,998.6 1530.5,998.6 1532.5,998.6 1534.5,998.6 1536.5,998.6 1538.5,998.6 1540.5,998.6 1542.5,998.6 1544.5,998.6 1546.5,998.6 1548.5,998.6 1550.5,998.6 1552.5,998.6 1554.5,998.6 1556.5,998.6 1558.5,998.6 1560.5,998.6 1562.5,998.6 1564.5,998.6 1566.5,998.6 1568.5,998.5 1570.5,998.5 1572.5,998.5 1574.5,998.5 1576.5,998.5 1578.5,998.5 1580.5,998.5 1582.5,998.5 1584.5,998.5 1586.5,998.5 1588.5,998.5 1590.5,998.5 1592.5,998.5 1594.5,998.5 1596.5,998.5 1598.5,998.5 1600.5,998.5 1602.5,998.5 1604.5,998.5 1606.5,998.5 1608.5,998.5 1610.5,998.4 1612.5,998.4 1614.5,998.4 1616.5,998.4 1618.5,998.4 1620.5,998.4 1622.5,998.4 1624.5,998.4 1626.5,998.3 1628.5,998.3 1630.5,998.3 1632.5,998.3 1634.5,998.3 1636.5,998.2 1638.5,998.2 1640.5,998.2 1642.5,998.2 1644.5,998.1 1646.5,998.1 1648.5,998.1 1650.5,998 1652.5,998 1654.5,997.9 1656.5,997.8 1658.5,997.8 1660.5,997.7 1662.5,997.6 1664.5,997.5 1666.5,997.4 1668.5,997.3 1670.5,997.1 1672.5,996.9 1674.5,996.6 1676.5,996.3 1678.5,995.8 1680.5,995.2 1682.5,994.3 1683,994.1 1683.5,993.8 1684,993.5 1684.5,993.2 1685,992.8 1685.5,992.5 1686,992.1 1686.5,991.6 1687,991.2 1687.5,990.7 1688,990.2 1688.5,989.7 1689,989.1 1689.5,988.5 1690,987.9 1690.5,987.2 1691,986.6 1691.5,985.8 1692,985.1 1692.5,984.3 1693,983.5 1693.5,982.6 1694,981.8 1694.5,980.9 1695,980 1695.5,979 1696,978 1696.5,977.1 1697,976.1 1697.5,975 1698,974 1698.5,973 1699,972 1699.5,971 1700,970 1700.5,969 1701,968 1701.5,967.1 1702,966.2 1702.5,965.3 1703,964.5 1703.5,963.7 1704,963 1704.5,962.4 1705,961.8 1705.5,961.4 1706,961 1706.5,960.7 1708.5,960.5 1710.5,961.7 1711,962.1 1711.5,962.6 1712,963.2 1712.5,963.8 1713,964.5 1713.5,965.3 1714,966 1714.5,966.8 1715,967.7 1715.5,968.5 1716,969.4 1716.5,970.3 1717,971.2 1717.5,972.1 1718,973 1718.5,973.9 1719,974.8 1719.5,975.7 1720,976.6 1720.5,977.5 1721,978.4 1721.5,979.2 1722,980.1 1722.5,980.9 1723,981.7 1723.5,982.5 1724,983.3 1724.5,984 1725,984.7 1725.5,985.4 1726,986.1 1726.5,986.7 1727,987.3 1727.5,987.9 1728,988.5 1728.5,989 1729,989.5 1729.5,990 1730,990.4 1730.5,990.9 1731,991.3 1731.5,991.7 1732,992.1 1732.5,992.4 1733,992.8 1733.5,993.1 1734,993.4 1734.5,993.6 1735,993.9 1737,994.8 1739,995.5 1741,996 1743,996.4 1745,996.7 1747,996.9 1749,997.1 1751,997.3 1753,997.4 1755,997.5 1757,997.6 1759,997.7 1761,997.8 1763,997.8 1765,997.9 1767,997.9 1769,998 1771,998 1773,998.1 1775,998.1 1777,998.2 1779,998.2 1781,998.2 1783,998.2 1785,998.3 1787,998.3 1789,998.3 1791,998.3 1793,998.4 1795,998.4 1797,998.4 1799,998.4 1801,998.4 1803,998.4 1805,998.5 1807,998.5 1809,998.5 1811,998.5 1813,998.5 1815,998.5 1817,998.5 1819,998.5 1821,998.5 1823,998.5 1825,998.6 1827,998.6 1829,998.6 1831,998.6 1833,998.6 1835,998.6 1837,998.6 1839,998.6 1841,998.6 1843,998.6 1845,998.6 1847,998.6 1849,998.6 1851,998.6 1853,998.6 1855,998.6 1857,998.6 1859,998.7 1861,998.7 1863,998.7 1865,998.7 1867,998.7 1869,998.7 1869.7,998.8"/>
<polyline class="cv" stroke-width="6.3" stroke="#f00" points="170,998 170.5,998 171,997.7 171.5,997.4 172,997.3 172.5,997.6 173,997.4 173.5,997.2 174,997.7 174.5,997.6 175,997.8 175.5,997.4 176,997.6 176.5,997.6 177,997.2 177.5,997.7 178,997.7 178.5,998.2 179,997.6 179.5,997.5 180,997.9 180.5,997.6 181,997.8 181.5,997.4 182,997.6 182.5,997.8 183,997.7 183.5,997.5 184,997.2 184.5,997.6 185,997.5 185.5,997.7 186,997.5 186.5,997.7 187,997.4 187.5,997.5 188,997.6 188.5,997.1 189,997.3 189.5,997.3 190,997.9 190.5,997.4 191,997.5 191.5,997.5 192,997.3 192.5,996.9 193,997.6 193.5,997.2 194,997.5 194.5,996.9 195,997.2 195.5,997.6 196,997.7 196.5,996.9 197,996.9 197.5,997.2 198,997.4 198.5,997.3 199,997.3 199.5,996.9 200,997.3 200.5,997.5 201,997 201.5,996.8 202,996.9 202.5,997.3 203,996.6 203.5,997.1 204,996.8 204.5,997 205,997 205.5,997 206,997.4 206.5,997.1 207,997.3 207.5,996.9 208,996.8 208.5,997 209,996.1 209.5,996.9 210,996.9 210.5,996.5 211,997 211.5,996.7 212,996.1 212.5,996.7 213,996.5 213.5,996.6 214,996.7 214.5,997 215,996.7 215.5,996.7 216,996.7 216.5,996.1 217,996.9 217.5,996.3 218,996.7 218.5,996.2 219,996.2 219.5,996.4 220,996.9 220.5,996.6 221,996.2 221.5,996.3 222,996 222.5,996.3 223,996.1 223.5,996.4 224,995.8 224.5,996.1 225,995.9 225.5,995.9 226,996.2 226.5,996 227,996.1 227.5,996.2 228,996.2 228.5,995.5 229,995.9 229.5,995.2 230,995.6 230.5,996.1 231,995.5 231.5,995.4 232,995.4 232.5,995.3 233,995.2 233.5,994.9 234,995.3 234.5,995.1 235,994.7 235.5,994.7 236,994.7 236.5,994.6 237,994.3 237.5,994.2 238,993.8 238.5,993.4 239,993.3 239.5,993.5 240,993.3 240.5,992.9 241,992.5 241.5,992.5 242,992.6 242.5,992.3 243,991.6 243.5,991.6 244,991 244.5,990.9 245,991.1 245.5,991 246,991.1 246.5,991.1 247,990.9 247.5,991 248,990.5 248.5,990.3 249,990.7 249.5,991.3 250,990.7 250.5,990.3 251,990.7 251.5,991 252,990.3 252.5,990.8 253,990.4 253.5,990.9 254,990.7 254.5,990.5 255,990.9 255.5,990.2 256,990 256.5,990.6 257,989.7 257.5,990.4 258,989.6 258.5,989.1 259,989.2 259.5,989 260,988.8 260.5,988.4 261,988.5 261.5,987.3 262,987.4 262.5,987.1 263,987.3 263.5,985.9 264,986 264.5,985.3 265,985 265.5,984.8 266,984.2 266.5,984 267,982.8 267.5,982.4 268,982 268.5,981.2 269,980.1 269.5,979.7 270,978.3 270.5,978.1 271,976.7 271.5,975.6 272,974.5 272.5,973.5 273,972.4 273.5,970.5 274,968.8 274.5,967.4 275,965.2 275.5,963 276,961.5 276.5,958.8 277,956.6 277.5,953.1 278,949.4 278.5,946.7 279,942.6 279.5,938.5 280,933 280.5,926.9 281,920 281.5,911.4 282,901.5 282.5,889.1 283,875 283.5,856.9 284,835.4 284.5,809.5 285,777.9 285.5,739.8 286,696.2 286.5,644 287,585.5 287.5,519.6 288,447.2 288.5,370.5 289,292.6 289.5,216.5 290,149 290.5,96.3 291,66.4 291.5,62.4 292,76.4 292.5,105.9 293,148.8 293.5,201.9 294,262.1 294.5,326 295,391.6 295.5,456 296,519 296.5,577.6 297,632.3 297.5,682.6 298,726.5 298.5,765.6 299,799.6 299.5,828.7 300,853.9 300.5,874.5 301,891.6 301.5,905.7 302,917.6 302.5,926.8 303,934.8 303.5,941.3 304,946.6 304.5,951.5 305,955.3 305.5,958.4 306,960.3 306.5,963.8 307,965.6 307.5,967.3 308,969.1 308.5,971.1 309,972.5 309.5,973.8 310,974.8 310.5,975.9 311,977.2 311.5,978 312,978.7 312.5,979.6 313,980.5 313.5,981.4 314,982.7 314.5,982.3 315,983.5 315.5,983.9 316,984.6 316.5,985.4 317,985.8 317.5,985.9 318,986.3 318.5,986.5 319,987.2 319.5,988 320,987.9 320.5,988.5 321,988.8 321.5,989.1 322,989.6 322.5,989.5 323,989.6 323.5,989.8 324,990.6 324.5,990.5 325,990.7 325.5,991.2 326,991 326.5,991.9 327,991.8 327.5,991.6 328,991.8 328.5,992.4 329,992 329.5,992.3 330,992.6 330.5,992.8 331,992.9 331.5,993.1 332,993 332.5,993.2 333,993.7 333.5,993.7 334,993.5 334.5,994.2 335,993.3 335.5,993.9 336,994.2 336.5,994.4 337,994.2 337.5,994.2 338,994.5 338.5,994.4 339,994.7 339.5,993.8 340,994.8 340.5,994.5 341,995.1 341.5,995.1 342,995.2 342.5,994.9 343,995.2 343.5,995.1 344,995.3 344.5,995.2 345,995.1 345.5,995.9 346,995.6 346.5,994.9 347,995.8 347.5,995.2 348,995.6 348.5,995.5 349,995.6 349.5,995.8 350,995.7 350.5,995.5 351,995.9 351.5,996 352,996.5 352.5,995.9 353,995.7 353.5,996 354,996.3 354.5,995.9 355,996 355.5,996.4 356,996.3 356.5,996.4 357,996.2 357.5,996.1 358,996.3 358.5,996.4 359,996.4 359.5,996.6 360,996.6 360.5,996.7 361,996.7 361.5,996.3 362,996.3 362.5,996.8 363,996.7 363.5,996.7 364,996.4 364.5,996.7 365,996.6 365.5,996.5 366,996.6 366.5,996.4 367,996.8 367.5,997.2 368,996.7 368.5,996.9 369,996.6 369.5,997.1 370,997.4 370.5,996.6 371,996.9 371.5,997.4 372,997.1 372.5,997.1 373,996.5 373.5,997 374,997.3 374.5,997.5 375,997.3 375.5,997 376,996.9 376.5,996.7 377,996.9 377.5,997.5 378,997.2 378.5,996.8 379,997.6 379.5,996.8 380,997.6 380.5,997.2 381,997.4 381.5,997.5 382,997.4 382.5,997.6 383,997.3 383.5,997.2 384,997.2 384.5,997 385,997.2 385.5,997.6 386,997.6 386.5,997.8 387,998.1 387.5,997.6 388,997.6 388.5,997.1 389,997.4 389.5,998 390,997.6 390.5,997.4 391,997.6 391.5,997 392,997.3 392.5,997.1 393,996.9 393.5,997.7 394,997.8 394.5,997.5 395,997.6 395.5,997.3 396,997.7 396.5,997.8 397,998 397.5,998 398,997.7 398.5,997.6 399,997.4 399.5,997.4 400,997.8 400.5,997.8 401,997.6 401.5,998.1 402,997.8 402.5,997.7 403,997.6 403.5,997.7 404,997.4 404.5,997.4 405,997.8 405.5,997.5 406,997.6 406.5,998 407,997.7 407.5,998.1 408,997.7 408.5,998.1 409,997.9 409.5,997.3 410,998.1 410.5,997.7 411,997.2 411.5,997.8 412,997.8 412.5,997.4 413,997.6 413.5,997.9 414,998.2 414.5,998.1 415,998.1 415.5,998.1 416,997.1 416.5,997.6 417,997.9 417.5,997.1 418,998 418.5,998.1 419,997.6 419.5,997.7 420,997.6 420.5,997.8 421,997.8 421.5,997.8 422,997.6 422.5,998 423,997.8 423.5,998.1 424,997.9 424.5,997.5 425,997.5 425.5,997.9 426,997.7 426.5,998 427,998.1 427.5,997.9 428,997.4 428.5,997.6 429,998.1 429.5,997.6 430,998.2 430.5,997.9 431,998.1 431.5,997.7 432,997.9 432.5,997.1 433,997.9 433.5,998.1 434,997.7 434.5,997.7 435,997.9 435.5,998 436,997.7 436.5,998.1 437,997.5 437.5,998.3 438,997.6 438.5,997.7 439,998.3 439.5,997.7 440,997.5 440.5,998 441,997.7 441.5,997.7 442,997.8 442.5,997.8 443,997.7 443.5,997.7 444,998.4 444.5,997.8 445,998.3 445.5,997.6 446,998.1 446.5,997.7 447,997.9 447.5,998.2 448,997.9 448.5,997.5 449,997.9 449.5,998 450,998.2 450.5,997.8 451,997.9 451.5,998 452,997.6 452.5,998 453,997.8 453.5,998.2 454,998 454.5,998 455,997.4 455.5,998 456,997.9 456.5,997.8 457,997.9 457.5,997.7 458,998.1 458.5,998.2 459,998.2 459.5,997.9 460,998.5 460.5,998.3 461,997.8 461.5,998 462,997.6 462.5,998 463,998.3 463.5,998.4 464,998 464.5,997.6 465,998 465.5,998.5 466,998.1 466.5,998.4 467,998.3 467.5,998.5 468,998.3 468.5,997.9 469,998.2 469.5,998.8 470,998 470.5,997.6 471,998.7 471.5,998.2 472,997.9 472.5,997.9 473,997.7 473.5,998.3 474,998.2 474.5,997.9 475,998 475.5,998 476,998.4 476.5,998.1 477,998.5 477.5,997.9 478,998 478.5,998 479,998 479.5,998.1 480,998.4 480.5,998.5 481,997.8 481.5,998.5 482,998.2 482.5,998.6 483,998.1 483.5,997.9 484,998.4 484.5,998.3 485,998 485.5,998.2 486,998.2 486.5,998.2 487,997.7 487.5,997.8 488,998.2 488.5,998.2 489,998 489.5,997.7 490,998.5 490.5,998.1 491,997.9 491.5,998.6 492,998.5 492.5,998.4 493,998.4 493.5,998.3 494,997.9 494.5,998.2 495,998.3 495.5,998.3 496,998.3 496.5,997.9 497,998 497.5,998.1 498,998.1 498.5,997.9 499,997.7 499.5,997.8 500,998.3 500.5,998.2 501,998.3 501.5,997.7 502,998.1 502.5,998.4 503,997.7 503.5,997.9 504,997.7 504.5,998.5 505,998.2 505.5,998 506,998.2 506.5,998.2 507,998.4 507.5,998.5 508,998.4 508.5,998.3 509,998.4 509.5,998.4 510,998.5 510.5,997.7 511,998.3 511.5,998.2 512,998.2 512.5,998.1 513,998.2 513.5,998.3 514,998.3 514.5,998.2 515,997.9 515.5,997.9 516,998 516.5,997.7 517,998.1 517.5,998 518,997.7 518.5,997.7 519,998.1 519.5,998.1 520,998.8 520.5,998.5 521,998 521.5,998.1 522,997.9 522.5,998 523,998.1 523.5,998.2 524,998.1 524.5,998.4 525,998.4 525.5,998.8 526,997.9 526.5,998.4 527,998.1 527.5,997.8 528,998.1 528.5,997.8 529,998.2 529.5,999 530,998.6 530.5,998.7 531,998.6 531.5,997.8 532,998.3 532.5,998.3 533,998.4 533.5,998 534,997.7 534.5,998.8 535,998.6 535.5,998.3 536,998.1 536.5,998.3 537,997.9 537.5,998.5 538,998.3 538.5,998.2 539,998.1 539.5,998.2 540,998.3 540.5,998.1 541,998.5 541.5,998.3 542,998.2 542.5,998 543,998.6 543.5,998.6 544,998.4 544.5,997.8 545,998.2 545.5,998.5 546,998.3 546.5,998.6 547,998.1 547.5,998.5 548,998.4 548.5,997.6 549,998.1 549.5,998.2 550,998.1 550.5,998 551,998.7 551.5,998.2 552,998.5 552.5,997.9 553,997.7 553.5,998.1 554,998.4 554.5,998.1 555,998.4 555.5,998.5 556,998.1 556.5,998.2 557,998.1 557.5,998.6 558,998.7 558.5,998.4 559,998.1 559.5,998.1 560,998.2 560.5,998.5 561,998.1 561.5,998.7 562,997.9 562.5,998.3 563,998.6 563.5,998.8 564,998.2 564.5,998.5 565,999 565.5,998.6 566,997.7 566.5,998.4 567,998.9 567.5,998 568,998.5 568.5,997.7 569,998.7 569.5,998.1 570,998.5 570.5,998.5 571,997.5 571.5,997.9 572,998.4 572.5,997.9 573,998.3 573.5,998 574,998.6 574.5,998.1 575,998 575.5,998.5 576,998.6 576.5,998.2 577,998.4 577.5,998.4 578,998.2 578.5,998 579,998.4 579.5,998.2 580,997.9 580.5,998.5 581,998.4 581.5,998.3 582,998.1 582.5,998.2 583,998.5 583.5,998.4 584,998.1 584.5,998 585,998.4 585.5,998.3 586,998.5 586.5,998 587,998.5 587.5,998.8 588,998.6 588.5,998.3 589,998.5 589.5,997.9 590,998.2 590.5,998.9 591,997.9 591.5,998 592,998.5 592.5,998.1 593,998.1 593.5,998 594,998.8 594.5,998.1 595,998.2 595.5,997.8 596,998.5 596.5,998.3 597,998.4 597.5,998.7 598,998.3 598.5,998 599,998 599.5,998.3 600,998.7 600.5,998 601,998.2 601.5,998.3 602,998.5 602.5,998.1 603,998.4 603.5,998.5 604,998.3 604.5,998.3 605,998.5 605.5,998.5 606,998.6 606.5,998 607,998.6 607.5,998.2 608,998 608.5,998.2 609,998 609.5,998.3 610,998.6 610.5,997.7 611,998 611.5,998.5 612,998.2 612.5,998.5 613,998 613.5,998.3 614,997.6 614.5,998.1 615,998.5 615.5,998.6 616,998.8 616.5,998.3 617,998.1 617.5,998.2 618,997.8 618.5,998.7 619,998.6 619.5,998.1 620,998.8 620.5,997.9 621,998.5 621.5,998.1 622,997.8 622.5,998.4 623,998 623.5,998.6 624,998.1 624.5,998.3 625,998.2 625.5,998.4 626,998.1 626.5,998.5 627,998.5 627.5,998.3 628,998.3 628.5,998.9 629,998.1 629.5,998.2 630,998.5 630.5,998.3 631,997.9 631.5,998.3 632,998.2 632.5,998.1 633,998.4 633.5,998 634,998.3 634.5,998 635,998.7 635.5,998.2 636,998.4 636.5,998.4 637,998.5 637.5,998.3 638,998.5 638.5,998.4 639,997.7 639.5,998.4 640,998 640.5,998.6 641,998.4 641.5,998.2 642,997.6 642.5,997.7 643,998 643.5,998.2 644,998 644.5,998.9 645,998.4 645.5,998.3 646,998.1 646.5,998.2 647,998.3 647.5,998.2 648,998.3 648.5,998.5 649,997.8 649.5,998.4 650,998.6 650.5,998 651,998.3 651.5,998.2 652,998 652.5,998.6 653,998.2 653.5,998.6 654,998.4 654.5,998.3 655,998.4 655.5,998.2 656,997.9 656.5,998.7 657,998.4 657.5,998.6 658,997.8 658.5,998.6 659,998.5 659.5,998.3 660,997.8 660.5,998.4 661,998.1 661.5,998.3 662,998.3 662.5,998.1 663,998.3 663.5,998.3 664,998.7 664.5,998.3 665,999 665.5,998 666,998.3 666.5,998.7 667,997.9 667.5,998.5 668,998.4 668.5,998.2 669,998.3 669.5,998.7 670,998.2 670.5,998.4 671,998.4 671.5,998.7 672,997.8 672.5,997.9 673,998 673.5,998.3 674,998.5 674.5,998.6 675,998.2 675.5,998.7 676,998.3 676.5,998.5 677,998.1 677.5,998.6 678,998.1 678.5,998.6 679,998.6 679.5,998.8 680,998.2 680.5,998 681,998.5 681.5,998.4 682,998.2 682.5,998 683,998.5 683.5,997.8 684,998.2 684.5,998.6 685,998.3 685.5,998.4 686,998.5 686.5,998.5 687,998.6 687.5,998.5 688,998.2 688.5,998 689,998.2 689.5,998.1 690,998.4 690.5,998.7 691,998.5 691.5,998.1 692,998.4 692.5,998.3 693,998.2 693.5,998.7 694,998.5 694.5,998.4 695,998 695.5,997.6 696,998.1 696.5,998.6 697,998.3 697.5,998.3 698,998.2 698.5,998.4 699,998.3 699.5,998.8 700,998.3 700.5,998.2 701,998.7 701.5,998.5 702,998.5 702.5,998.5 703,998.3 703.5,998.4 704,998.5 704.5,998.3 705,997.8 705.5,998.7 706,998.2 706.5,998.2 707,998.2 707.5,998.1 708,998.1 708.5,998.3 709,998.5 709.5,998.2 710,998.4 710.5,997.9 711,998.5 711.5,998 712,998.5 712.5,998.1 713,998.1 713.5,998 714,998 714.5,998.2 715,998 715.5,998.2 716,998.6 716.5,998.1 717,998.2 717.5,998.3 718,998.1 718.5,998.3 719,998.4 719.5,998.6 720,998.1 720.5,998.2 721,998.2 721.5,998.6 722,998 722.5,998.3 723,998.5 723.5,998.4 724,998.1 724.5,998 725,997.8 725.5,998.1 726,998.2 726.5,997.9 727,998.5 727.5,998.3 728,998.2 728.5,998.1 729,998.4 729.5,998.2 730,998.4 730.5,998.1 731,998.6 731.5,997.8 732,998 732.5,998.8 733,998.5 733.5,998.7 734,998 734.5,998.5 735,998.5 735.5,998.5 736,998.2 736.5,998.7 737,998.4 737.5,997.9 738,998.9 738.5,998.3 739,998.6 739.5,998.1 740,998 740.5,998.5 741,998.5 741.5,998 742,998.3 742.5,997.9 743,997.7 743.5,998.5 744,997.9 744.5,998.4 745,998.5 745.5,998.3 746,998.6 746.5,998.3 747,998.3 747.5,998.2 748,998.3 748.5,998.3 749,998 749.5,998.2 750,998.1 750.5,999 751,998.5 751.5,998 752,998.3 752.5,997.7 753,998.2 753.5,998.7 754,998.2 754.5,998.5 755,998.1 755.5,998.3 756,998.3 756.5,997.6 757,997.9 757.5,998.7 758,997.9 758.5,998.5 759,998.6 759.5,998.1 760,998.4 760.5,998.2 761,998 761.5,998.3 762,998.2 762.5,997.8 763,998 763.5,997.7 764,998 764.5,998.1 765,997.8 765.5,997.6 766,998.3 766.5,998.4 767,997.8 767.5,998.1 768,997.9 768.5,997.3 769,998.6 769.5,998.1 770,997.6 770.5,998.4 771,998.2 771.5,998.4 772,998.2 772.5,998.1 773,998.4 773.5,997.9 774,998 774.5,997.7 775,997.6 775.5,998 776,998 776.5,997.5 777,998 777.5,998.2 778,997.5 778.5,997.8 779,998.3 779.5,997.6 780,998 780.5,998 781,997.8 781.5,997.8 782,997.9 782.5,997.8 783,997.8 783.5,997.3 784,997.8 784.5,997.5 785,998.1 785.5,998.2 786,997.9 786.5,997 787,997.9 787.5,997.6 788,997.2 788.5,997.2 789,997.8 789.5,997.3 790,997.4 790.5,997.4 791,997.6 791.5,996.6 792,997.6 792.5,997.1 793,997.1 793.5,997.4 794,997.3 794.5,996.5 795,997.2 795.5,997 796,996.7 796.5,996.7 797,996.4 797.5,996.9 798,997.1 798.5,996.4 799,996.3 799.5,996 800,996 800.5,995.8 801,995.9 801.5,996.2 802,995.9 802.5,995.6 803,994.9 803.5,995.1 804,994.4 804.5,994 805,994.1 805.5,993.5 806,993.8 806.5,992.7 807,992.1 807.5,991.8 808,990.7 808.5,990.5 809,990 809.5,988.8 810,987.9 810.5,987.5 811,985.9 811.5,985.3 812,984.1 812.5,983.2 813,981.8 813.5,980.9 814,979.7 814.5,978.7 815,976.9 815.5,975.8 816,973.8 816.5,972.7 817,971.7 817.5,969.9 818,968.9 818.5,967.4 819,966.6 819.5,965.4 820,964.1 820.5,963.4 821,962.2 821.5,961.6 822,961.1 822.5,960.7 823,960.4 823.5,960.6 824,960 824.5,960.4 825,960.2 825.5,961.5 826,961.5 826.5,962.4 827,963.3 827.5,964.5 828,965.4 828.5,966.5 829,967.8 829.5,968.9 830,970.2 830.5,971.2 831,972.6 831.5,973.7 832,975.6 832.5,976.8 833,978 833.5,979.2 834,980.1 834.5,981.5 835,982.1 835.5,982.9 836,984.3 836.5,986 837,986.6 837.5,987.8 838,988 838.5,989.2 839,990.1 839.5,990.6 840,991 840.5,991.8 841,991.9 841.5,993 842,992.7 842.5,993.2 843,993.8 843.5,993.9 844,994.9 844.5,994.9 845,994.8 845.5,995.7 846,995.8 846.5,995.5 847,996.2 847.5,996.3 848,996 848.5,996.1 849,996.5 849.5,996.8 850,997 850.5,997.1 851,996.6 851.5,996.3 852,996.4 852.5,997.4 853,997.3 853.5,997.4 854,997.1 854.5,997.2 855,997.3 855.5,997.4 856,997.3 856.5,997 857,997 857.5,997.4 858,997.4 858.5,997.8 859,997.2 859.5,997 860,997 860.5,997.5 861,998 861.5,997.5 862,997.4 862.5,997.7 863,998.1 863.5,998 864,997.9 864.5,998 865,997.6 865.5,997.8 866,997.9 866.5,998.3 867,997.2 867.5,997.7 868,997.9 868.5,997.8 869,997.8 869.5,997.8 870,997.6 870.5,998 871,998.2 871.5,997.8 872,998 872.5,998.2 873,997.8 873.5,997.9 874,997.6 874.5,998.4 875,998.4 875.5,997.9 876,998.5 876.5,998.2 877,997.5 877.5,998.2 878,998.1 878.5,998.2 879,998.2 879.5,997.9 880,998.4 880.5,998.1 881,998.6 881.5,998 882,997.4 882.5,998.6 883,998.2 883.5,997.6 884,997.9 884.5,997.9 885,998.4 885.5,998 886,998.4 886.5,998 887,998.4 887.5,998 888,997.8 888.5,998.3 889,998.1 889.5,998.3 890,997.7 890.5,997.9 891,998.1 891.5,998.7 892,998.3 892.5,997.7 893,997.3 893.5,998.7 894,998.3 894.5,997.9 895,998.5 895.5,998.4 896,998.8 896.5,998.3 897,998.1 897.5,998.5 898,997.9 898.5,998.1 899,998 899.5,998.1 900,997.9 900.5,997.9 901,998 901.5,998.4 902,998.3 902.5,998.2 903,998.4 903.5,998.5 904,998.4 904.5,998.8 905,998.3 905.5,998.4 906,998.1 906.5,998.6 907,998.7 907.5,997.5 908,998.5 908.5,998 909,998.4 909.5,998.3 910,998 910.5,997.9 911,998.2 911.5,999 912,998 912.5,998.2 913,998.2 913.5,998.2 914,998.6 914.5,998.9 915,998.3 915.5,998.4 916,998.2 916.5,998.7 917,998.3 917.5,998.5 918,998.3 918.5,998.6 919,998.3 919.5,998.1 920,998.8 920.5,997.8 921,998.4 921.5,998.2 922,998.1 922.5,998.9 923,998.4 923.5,998.2 924,998.1 924.5,998.4 925,998.3 925.5,998.3 926,998.2 926.5,998.8 927,998.4 927.5,998.3 928,998 928.5,998.1 929,998.6 929.5,998.2 930,998.5 930.5,998.3 931,998.5 931.5,998.5 932,998.2 932.5,998.3 933,998.3 933.5,998.5 934,999 934.5,998.6 935,998 935.5,999 936,998.3 936.5,998.2 937,998.4 937.5,998.4 938,998.4 938.5,998.4 939,998.4 939.5,998.7 940,998.8 940.5,998.4 941,998.8 941.5,998.6 942,998.7 942.5,998.5 943,998.4 943.5,998.6 944,998.1 944.5,998.4 945,998.1 945.5,998.6 946,998.5 946.5,998.6 947,998.3 947.5,998.2 948,998.7 948.5,998.3 949,998.3 949.5,998.4 950,998.5 950.5,998.4 951,998.1 951.5,998.1 952,998.7 952.5,998.3 953,998.3 953.5,998.2 954,998.7 954.5,998.5 955,998.3 955.5,997.9 956,998.9 956.5,998.3 957,998.1 957.5,998.3 958,998.1 958.5,998.4 959,998.3 959.5,998.1 960,998.6 960.5,998.2 961,997.9 961.5,998.5 962,998.3 962.5,998.1 963,998 963.5,998.2 964,998.3 964.5,998.3 965,998.3 965.5,998.8 966,998.7 966.5,998.5 967,998.6 967.5,998.3 968,998 968.5,998.6 969,998.8 969.5,998.2 970,998.2 970.5,998.2 971,998.1 971.5,998.6 972,998.1 972.5,998.8 973,998.9 973.5,998.5 974,998.4 974.5,998.2 975,998.7 975.5,998.5 976,998 976.5,998.2 977,998.6 977.5,998.3 978,998.6 978.5,998.5 979,998.8 979.5,998.4 980,998.7 980.5,998.7 981,998.8 981.5,998.3 982,998.5 982.5,999.1 983,998.4 983.5,998.3 984,998.5 984.5,998.1 985,998.2 985.5,998.3 986,998.4 986.5,998.7 987,998.1 987.5,998.4 988,998.5 988.5,998.4 989,998.6 989.5,999 990,998.2 990.5,998.2 991,998.3 991.5,998.3 992,998.3 992.5,998.6 993,998.9 993.5,999.1 994,998.4 994.5,997.9 995,998.9 995.5,998.4 996,998.3 996.5,998.7 997,998.4 997.5,998.4 998,998.2 998.5,998.7 999,998.7 999.5,998.2 1000,998.3 1000.5,998.8 1001,998.3 1001.5,998.3 1002,998.2 1002.5,998.4 1003,998.7 1003.5,998.5 1004,998.7 1004.5,998.6 1005,997.9 1005.5,998.4 1006,998.4 1006.5,998 1007,998.7 1007.5,998.4 1008,998.3 1008.5,998.6 1009,998.7 1009.5,998.6 1010,998.3 1010.5,998.4 1011,999.1 1011.5,998.1 1012,998.5 1012.5,998.5 1013,998.9 1013.5,998.6 1014,998.5 1014.5,998.4 1015,998.8 1015.5,998.5 1016,998.4 1016.5,998.5 1017,998.6 1017.5,998.5 1018,998.5 1018.5,998.7 1019,998.3 1019.5,998.4 1020,998.5 1020.5,998.6 1021,998.6 1021.5,998.3 1022,998.2 1022.5,998.4 1023,998.3 1023.5,998.7 1024,998.6 1024.5,998.5 1025,998.2 1025.5,998.1 1026,998.5 1026.5,998.6 1027,998.6 1027.5,998.4 1028,998.6 1028.5,997.9 1029,998.8 1029.5,998.9 1030,998.5 1030.5,998.5 1031,998.4 1031.5,998.7 1032,998.2 1032.5,998.3 1033,998.6 1033.5,998.1 1034,998.6 1034.5,998.6 1035,998.5 1035.5,998.3 1036,998.9 1036.5,998.3 1037,998.5 1037.5,998.7 1038,998.5 1038.5,998.7 1039,998.5 1039.5,998.5 1040,998.5 1040.5,998.6 1041,998.3 1041.5,998.7 1042,998.7 1042.5,998.2 1043,998.1 1043.5,998.1 1044,998.3 1044.5,998.7 1045,998.5 1045.5,999 1046,998.9 1046.5,998.1 1047,998.4 1047.5,998.4 1048,998.9 1048.5,998.7 1049,998.7 1049.5,998.2 1050,999 1050.5,998.2 1051,998.5 1051.5,998.2 1052,998.2 1052.5,998.5 1053,998.2 1053.5,998.7 1054,998.6 1054.5,998.5 1055,998.6 1055.5,998.8 1056,998.8 1056.5,998.2 1057,998.6 1057.5,998.7 1058,998.4 1058.5,998.4 1059,998.8 1059.5,998.6 1060,998.5 1060.5,998.9 1061,998.7 1061.5,998.9 1062,998.4 1062.5,998.7 1063,997.9 1063.5,998.3 1064,998.9 1064.5,998.2 1065,998.4 1065.5,998.4 1066,998.6 1066.5,998.8 1067,998.9 1067.5,998.4 1068,998.6 1068.5,998.7 1069,998.8 1069.5,998.4 1070,998.8 1070.5,998.1 1071,998.5 1071.5,998.1 1072,998.3 1072.5,998.3 1073,998.9 1073.5,998.9 1074,998.7 1074.5,998.5 1075,997.9 1075.5,998 1076,998.5 1076.5,998.7 1077,998.6 1077.5,998.3 1078,998.3 1078.5,998.6 1079,999.1 1079.5,998.7 1080,998.5 1080.5,998.4 1081,998.6 1081.5,998.5 1082,998.1 1082.5,998.9 1083,998.6 1083.5,998.6 1084,998.3 1084.5,998.8 1085,998.7 1085.5,998.3 1086,998.7 1086.5,998.3 1087,998 1087.5,998.7 1088,998.2 1088.5,998.3 1089,998.2 1089.5,998.4 1090,998.4 1090.5,998.5 1091,998.6 1091.5,998.9 1092,998.6 1092.5,998.6 1093,998.6 1093.5,998.7 1094,998.7 1094.5,998.5 1095,998.1 1095.5,998.2 1096,998.5 1096.5,998.4 1097,998.4 1097.5,998.3 1098,998.3 1098.5,998.8 1099,998.7 1099.5,998.1 1100,998.5 1100.5,998.5 1101,998.3 1101.5,998.7 1102,998.5 1102.5,998.5 1103,998.2 1103.5,998.7 1104,998.5 1104.5,998.5 1105,998.3 1105.5,998.9 1106,997.6 1106.5,998.1 1107,998 1107.5,998.1 1108,998.2 1108.5,998.3 1109,998.4 1109.5,998.5 1110,998.8 1110.5,998.6 1111,998.5 1111.5,998.4 1112,998.6 1112.5,998.7 1113,998.3 1113.5,998.9 1114,998.5 1114.5,998.7 1115,997.8 1115.5,998.5 1116,998.3 1116.5,998.8 1117,998.7 1117.5,998.5 1118,998.6 1118.5,998.4 1119,998.2 1119.5,998.8 1120,998.1 1120.5,998.3 1121,998.1 1121.5,998.2 1122,998.3 1122.5,998.7 1123,998.2 1123.5,998.6 1124,997.9 1124.5,998.2 1125,998.2 1125.5,998.6 1126,998.8 1126.5,997.8 1127,998.5 1127.5,998.9 1128,998.4 1128.5,998.9 1129,998.8 1129.5,998.5 1130,998.1 1130.5,998.3 1131,998.9 1131.5,998.2 1132,998.1 1132.5,998.3 1133,998.8 1133.5,998.5 1134,998 1134.5,998.3 1135,998.6 1135.5,998.7 1136,998.8 1136.5,998.6 1137,998.6 1137.5,998.2 1138,998.3 1138.5,998.1 1139,998.4 1139.5,998.5 1140,998.4 1140.5,998.2 1141,998.6 1141.5,998.7 1142,998.8 1142.5,997.8 1143,997.8 1143.5,998.1 1144,998.6 1144.5,998.7 1145,998.6 1145.5,998.4 1146,998.5 1146.5,998.4 1147,998.2 1147.5,998.1 1148,999.3 1148.5,998.3 1149,998.6 1149.5,998.6 1150,998.7 1150.5,998.4 1151,998.7 1151.5,998.9 1152,998.2 1152.5,998.2 1153,998.1 1153.5,998.3 1154,998.1 1154.5,998.5 1155,998.6 1155.5,998.7 1156,998.7 1156.5,998.3 1157,998.4 1157.5,998.2 1158,998.4 1158.5,998.4 1159,998.5 1159.5,998.4 1160,998.1 1160.5,998.7 1161,998.3 1161.5,998 1162,997.9 1162.5,998.6 1163,997.9 1163.5,998.6 1164,998.8 1164.5,998.5 1165,998.6 1165.5,998.5 1166,998.2 1166.5,998.4 1167,997.9 1167.5,998.5 1168,998.5 1168.5,998.4 1169,998.7 1169.5,998.3 1170,997.9 1170.5,998.7 1171,998.4 1171.5,998.2 1172,998.2 1172.5,998.2 1173,998.4 1173.5,998 1174,998.4 1174.5,998.2 1175,998.5 1175.5,998.3 1176,998.5 1176.5,998.1 1177,998.4 1177.5,998.2 1178,998.6 1178.5,998.4 1179,998.6 1179.5,998.2 1180,998.2 1180.5,998.3 1181,998 1181.5,998.2 1182,998.6 1182.5,998 1183,998.1 1183.5,998.3 1184,998.7 1184.5,998.9 1185,998.1 1185.5,998.2 1186,998.4 1186.5,998.1 1187,997.7 1187.5,998.4 1188,998.4 1188.5,998.3 1189,998.4 1189.5,998.3 1190,998.1 1190.5,998.4 1191,998.2 1191.5,998.3 1192,998 1192.5,998.3 1193,998.2 1193.5,998 1194,998 1194.5,998.1 1195,998.2 1195.5,998 1196,997.9 1196.5,998.2 1197,997.9 1197.5,998.3 1198,998 1198.5,998.1 1199,998.5 1199.5,997.6 1200,997.8 1200.5,998 1201,998.1 1201.5,997.9 1202,997.9 1202.5,998 1203,997.9 1203.5,998.2 1204,997.9 1204.5,998.1 1205,998.1 1205.5,998.3 1206,997.9 1206.5,998 1207,998.2 1207.5,997.5 1208,998.1 1208.5,997.8 1209,998.3 1209.5,998 1210,997.8 1210.5,998.3 1211,997.9 1211.5,997.8 1212,998.1 1212.5,997.5 1213,998 1213.5,998.2 1214,997.6 1214.5,998.2 1215,997.9 1215.5,997.8 1216,997.5 1216.5,998.3 1217,998.3 1217.5,997.8 1218,998 1218.5,997.4 1219,997.9 1219.5,998 1220,997.7 1220.5,997.7 1221,997.8 1221.5,997.6 1222,997.4 1222.5,998 1223,998 1223.5,997.9 1224,997.9 1224.5,998 1225,997.6 1225.5,996.9 1226,997.7 1226.5,997.5 1227,997.3 1227.5,997.8 1228,997.3 1228.5,997.3 1229,998.2 1229.5,997.4 1230,997.6 1230.5,997.7 1231,997.6 1231.5,997.4 1232,997.6 1232.5,997.4 1233,997.3 1233.5,997.3 1234,997.5 1234.5,997.5 1235,997.4 1235.5,996.8 1236,997.1 1236.5,997.3 1237,997 1237.5,997.2 1238,997.1 1238.5,997.3 1239,996.4 1239.5,997 1240,997.2 1240.5,997 1241,996.7 1241.5,996.7 1242,996.6 1242.5,996.8 1243,996.8 1243.5,996.4 1244,996.7 1244.5,996.5 1245,995.8 1245.5,996.1 1246,996.1 1246.5,995.9 1247,996 1247.5,995.9 1248,995.8 1248.5,995.6 1249,995.6 1249.5,995.3 1250,995.4 1250.5,994.7 1251,995 1251.5,994.6 1252,994.4 1252.5,994.4 1253,993.9 1253.5,992.9 1254,993.1 1254.5,993.1 1255,992.7 1255.5,992.2 1256,991.7 1256.5,991.5 1257,990.8 1257.5,989.9 1258,989.3 1258.5,989 1259,988 1259.5,987.1 1260,986.1 1260.5,985.1 1261,983.7 1261.5,982.4 1262,981.1 1262.5,979.7 1263,978.9 1263.5,977 1264,975.2 1264.5,973.4 1265,971.2 1265.5,969.8 1266,967.2 1266.5,965.8 1267,963.3 1267.5,960.8 1268,959.4 1268.5,956.5 1269,954.4 1269.5,952.2 1270,949.6 1270.5,947.9 1271,945.3 1271.5,943.6 1272,941.5 1272.5,940.5 1273,938.5 1273.5,937.5 1274,935.9 1274.5,935.2 1275,934.7 1275.5,934.3 1276,934.1 1276.5,934.7 1277,935 1277.5,935.6 1278,936.8 1278.5,937 1279,938.7 1279.5,940.6 1280,942 1280.5,943.8 1281,945.4 1281.5,947.6 1282,950.1 1282.5,951.7 1283,953.6 1283.5,955.9 1284,958.4 1284.5,960 1285,961.8 1285.5,964.3 1286,966.1 1286.5,968.2 1287,969.5 1287.5,971.5 1288,973.4 1288.5,975.2 1289,977.1 1289.5,978.5 1290,979.9 1290.5,981.1 1291,982.4 1291.5,983.5 1292,984.6 1292.5,985.3 1293,986.2 1293.5,987.6 1294,987.7 1294.5,988.6 1295,989.4 1295.5,990.2 1296,990.5 1296.5,991.1 1297,991.5 1297.5,992 1298,992.5 1298.5,993.8 1299,993 1299.5,994.2 1300,993.5 1300.5,994.2 1301,994.3 1301.5,994.7 1302,994.7 1302.5,994.7 1303,995 1303.5,995.2 1304,995 1304.5,995.5 1305,995.7 1305.5,995.3 1306,995.5 1306.5,996.2 1307,995.8 1307.5,995.9 1308,996 1308.5,996.1 1309,996.5 1309.5,996.5 1310,997 1310.5,996.4 1311,996.7 1311.5,996.5 1312,996.9 1312.5,996.3 1313,996.6 1313.5,996.8 1314,997.6 1314.5,997.5 1315,997.5 1315.5,997 1316,996.6 1316.5,997.2 1317,997.4 1317.5,997 1318,997.7 1318.5,997.7 1319,996.8 1319.5,997.2 1320,997.2 1320.5,997.3 1321,997.3 1321.5,997.4 1322,997.3 1322.5,998.1 1323,997.3 1323.5,997.1 1324,997.8 1324.5,997.8 1325,997.2 1325.5,997.3 1326,997.3 1326.5,997 1327,997.3 1327.5,997.8 1328,997.3 1328.5,997.6 1329,997.6 1329.5,997.5 1330,997.8 1330.5,997.8 1331,998.1 1331.5,997.9 1332,997.6 1332.5,998.2 1333,997.9 1333.5,998 1334,997.9 1334.5,997.8 1335,997.6 1335.5,998.2 1336,997.7 1336.5,997.8 1337,998.1 1337.5,998.2 1338,997.9 1338.5,998.5 1339,997.9 1339.5,998.6 1340,998.3 1340.5,998 1341,997.9 1341.5,998.3 1342,997.6 1342.5,998.2 1343,998.2 1343.5,998.5 1344,998.4 1344.5,998.1 1345,998.2 1345.5,997.8 1346,998.2 1346.5,997.9 1347,997.7 1347.5,998.6 1348,998.6 1348.5,998.1 1349,998.2 1349.5,998.8 1350,997.8 1350.5,998.5 1351,998.1 1351.5,998.3 1352,998.1 1352.5,998.6 1353,998.5 1353.5,998.1 1354,998.5 1354.5,998.4 1355,998.6 1355.5,997.9 1356,998.4 1356.5,998.2 1357,998.3 1357.5,997.8 1358,998.8 1358.5,998.2 1359,998.4 1359.5,997.8 1360,998.2 1360.5,998.3 1361,998.3 1361.5,998 1362,998.4 1362.5,998.2 1363,998.5 1363.5,998 1364,998.6 1364.5,998 1365,998 1365.5,998.4 1366,998.5 1366.5,998.4 1367,998.1 1367.5,998.2 1368,998.1 1368.5,998.6 1369,997.8 1369.5,998 1370,998 1370.5,998.5 1371,997.9 1371.5,998.5 1372,997.9 1372.5,997.9 1373,998.4 1373.5,998.4 1374,998.2 1374.5,998.7 1375,998.2 1375.5,998.2 1376,998.3 1376.5,998.7 1377,998.3 1377.5,998.9 1378,998.7 1378.5,998.7 1379,998.6 1379.5,998.7 1380,998.5 1380.5,997.7 1381,998.4 1381.5,998.3 1382,998.1 1382.5,997.9 1383,998.4 1383.5,998.1 1384,998.4 1384.5,998.2 1385,998.5 1385.5,998.1 1386,998.5 1386.5,998.4 1387,998.3 1387.5,998.3 1388,998.5 1388.5,997.7 1389,997.9 1389.5,998.4 1390,998.4 1390.5,998.5 1391,998.5 1391.5,998.2 1392,998.8 1392.5,998.6 1393,998.5 1393.5,998.4 1394,998.2 1394.5,998.3 1395,998.5 1395.5,998.5 1396,998.7 1396.5,998.5 1397,998.3 1397.5,998.8 1398,998.1 1398.5,998.1 1399,998.6 1399.5,998.3 1400,998.1 1400.5,998.1 1401,998.5 1401.5,998.8 1402,998.8 1402.5,998.4 1403,998.4 1403.5,998.2 1404,999 1404.5,998.4 1405,998.4 1405.5,998.7 1406,998.8 1406.5,998.5 1407,998.8 1407.5,998.1 1408,998.6 1408.5,998.6 1409,998.6 1409.5,998.7 1410,998.5 1410.5,998.6 1411,997.9 1411.5,998.3 1412,998.7 1412.5,998.2 1413,998.2 1413.5,999 1414,998.5 1414.5,998.6 1415,998.6 1415.5,999 1416,998.4 1416.5,998.3 1417,998.6 1417.5,998.9 1418,998 1418.5,998.5 1419,998.4 1419.5,998.5 1420,998.7 1420.5,998.6 1421,998.1 1421.5,998.4 1422,998.5 1422.5,998.5 1423,998.8 1423.5,998.4 1424,998.3 1424.5,998.5 1425,998.5 1425.5,998.7 1426,998 1426.5,998.1 1427,998.5 1427.5,998.8 1428,998.5 1428.5,998.6 1429,999 1429.5,998.5 1430,998.6 1430.5,998.5 1431,998.8 1431.5,998.7 1432,998.5 1432.5,998.7 1433,998.6 1433.5,998.4 1434,998.7 1434.5,999.1 1435,998.2 1435.5,998.2 1436,998.5 1436.5,998.5 1437,998.6 1437.5,998.5 1438,998.6 1438.5,998.8 1439,998.9 1439.5,998 1440,998.7 1440.5,998.5 1441,998.7 1441.5,998.5 1442,998.6 1442.5,998.5 1443,998.4 1443.5,998.5 1444,998.8 1444.5,998.5 1445,998.5 1445.5,998.9 1446,998.8 1446.5,998.3 1447,998.3 1447.5,998.5 1448,998.7 1448.5,998.8 1449,998.1 1449.5,998.9 1450,998.6 1450.5,998.6 1451,998.8 1451.5,998.6 1452,998.6 1452.5,998.8 1453,998.9 1453.5,998.2 1454,998.1 1454.5,998.3 1455,998.6 1455.5,998.5 1456,998.5 1456.5,998.4 1457,998.3 1457.5,998.7 1458,998.5 1458.5,998.6 1459,998.7 1459.5,998.9 1460,999.1 1460.5,998.4 1461,998.9 1461.5,998.6 1462,998.7 1462.5,998.9 1463,998.4 1463.5,998.5 1464,998.8 1464.5,998.7 1465,999 1465.5,998.7 1466,998.6 1466.5,998.5 1467,998.7 1467.5,998.1 1468,998.9 1468.5,998.6 1469,998.4 1469.5,998.6 1470,998.7 1470.5,998.2 1471,998.8 1471.5,998 1472,999 1472.5,998.5 1473,998.6 1473.5,998.5 1474,998.4 1474.5,998.8 1475,998.3 1475.5,998.5 1476,998.7 1476.5,998.2 1477,998.7 1477.5,998.3 1478,998.8 1478.5,998.5 1479,998.9 1479.5,998.6 1480,998.3 1480.5,998.8 1481,998.9 1481.5,998.8 1482,998.2 1482.5,998.3 1483,998.8 1483.5,998.7 1484,998.5 1484.5,998.5 1485,998.6 1485.5,998 1486,998.2 1486.5,998.2 1487,998.8 1487.5,998.5 1488,998 1488.5,998.5 1489,998.5 1489.5,998.4 1490,998.2 1490.5,998.3 1491,998.6 1491.5,998.5 1492,998.8 1492.5,998.9 1493,998.5 1493.5,998.1 1494,998.3 1494.5,998.6 1495,998.8 1495.5,998.5 1496,998.6 1496.5,998.6 1497,998.9 1497.5,998.8 1498,998.5 1498.5,998.4 1499,998.6 1499.5,998.4 1500,998.3 1500.5,998.9 1501,998.6 1501.5,998.3 1502,998.7 1502.5,998.3 1503,998.3 1503.5,998.1 1504,998.3 1504.5,998.4 1505,998.6 1505.5,998.5 1506,998.6 1506.5,998.6 1507,998.4 1507.5,998.9 1508,998.3 1508.5,998.3 1509,999.1 1509.5,998.6 1510,998.6 1510.5,999.3 1511,998.3 1511.5,999 1512,998.6 1512.5,998.5 1513,998.3 1513.5,998.6 1514,998.8 1514.5,998.6 1515,998.4 1515.5,998.7 1516,998.9 1516.5,998.6 1517,998.5 1517.5,998.5 1518,998.7 1518.5,998.4 1519,998.9 1519.5,998.4 1520,998.9 1520.5,998.5 1521,998.8 1521.5,998.3 1522,998.5 1522.5,998.3 1523,998.4 1523.5,998.6 1524,998.3 1524.5,999.1 1525,999 1525.5,998.8 1526,998.6 1526.5,998.4 1527,998.1 1527.5,998.8 1528,998.3 1528.5,998.6 1529,998.4 1529.5,998.6 1530,999 1530.5,998.5 1531,998.5 1531.5,998.8 1532,998.4 1532.5,998 1533,998.4 1533.5,998.5 1534,998.4 1534.5,998.8 1535,998.9 1535.5,998.3 1536,998.6 1536.5,998.6 1537,998.5 1537.5,998.4 1538,998.7 1538.5,998.5 1539,999.1 1539.5,998.6 1540,998.6 1540.5,998.6 1541,998.6 1541.5,998.5 1542,998.7 1542.5,998.8 1543,998.6 1543.5,998.7 1544,998.2 1544.5,998.4 1545,998.6 1545.5,998.5 1546,998.9 1546.5,998.7 1547,998.6 1547.5,998.4 1548,998.5 1548.5,998.5 1549,999 1549.5,998.2 1550,998.8 1550.5,998.5 1551,999 1551.5,998.8 1552,998.3 1552.5,998.7 1553,998.2 1553.5,998.8 1554,998.5 1554.5,998.3 1555,998.5 1555.5,998.7 1556,999.2 1556.5,998.8 1557,998.7 1557.5,998.5 1558,998 1558.5,998.2 1559,997.9 1559.5,998.2 1560,998.8 1560.5,998.9 1561,998.6 1561.5,998.4 1562,998.7 1562.5,999.2 1563,998.6 1563.5,998.9 1564,998.9 1564.5,998.3 1565,998.6 1565.5,998.3 1566,998.6 1566.5,998.4 1567,998.3 1567.5,998.7 1568,998.5 1568.5,998.5 1569,998.8 1569.5,998.7 1570,998.9 1570.5,999 1571,998.2 1571.5,998.7 1572,998.1 1572.5,998.8 1573,999.1 1573.5,998.3 1574,998.9 1574.5,998.7 1575,998.6 1575.5,997.9 1576,998.3 1576.5,998.4 1577,998.6 1577.5,998.6 1578,998.8 1578.5,998.6 1579,998.5 1579.5,998.3 1580,998.3 1580.5,998.5 1581,999.1 1581.5,998.4 1582,998.5 1582.5,998.8 1583,998.7 1583.5,998.7 1584,998.5 1584.5,999 1585,998.4 1585.5,998.9 1586,998.9 1586.5,998.6 1587,998.4 1587.5,998.3 1588,998.6 1588.5,998 1589,998.9 1589.5,998.3 1590,998.2 1590.5,998.6 1591,998.5 1591.5,998.3 1592,998.9 1592.5,998.2 1593,998.3 1593.5,998.1 1594,999 1594.5,998.7 1595,998.1 1595.5,998.6 1596,998.3 1596.5,998.3 1597,998.4 1597.5,998 1598,998.5 1598.5,998.5 1599,998.9 1599.5,998.2 1600,998.1 1600.5,998.2 1601,998.3 1601.5,998.7 1602,999.1 1602.5,998.6 1603,998.6 1603.5,998.2 1604,998.1 1604.5,998.1 1605,998.6 1605.5,998.8 1606,998.4 1606.5,998.1 1607,998.7 1607.5,998.4 1608,998.3 1608.5,998 1609,998 1609.5,998.9 1610,998.3 1610.5,998.5 1611,998.6 1611.5,998.7 1612,999 1612.5,998.4 1613,998.8 1613.5,998.2 1614,998 1614.5,998.4 1615,997.9 1615.5,998 1616,998.2 1616.5,998.6 1617,998.3 1617.5,997.9 1618,998.4 1618.5,998.2 1619,998.3 1619.5,998.2 1620,998.4 1620.5,998.6 1621,998.5 1621.5,998.4 1622,998.2 1622.5,998 1623,998.9 1623.5,998.8 1624,997.9 1624.5,998.5 1625,998.5 1625.5,998.4 1626,998.4 1626.5,998.2 1627,998.7 1627.5,998.4 1628,998.6 1628.5,998.4 1629,998.4 1629.5,998.2 1630,998.6 1630.5,997.8 1631,998.7 1631.5,998.2 1632,998.4 1632.5,998.1 1633,997.8 1633.5,998 1634,998.4 1634.5,998.1 1635,998.4 1635.5,998 1636,997.8 1636.5,998.2 1637,998.1 1637.5,998 1638,998.6 1638.5,997.7 1639,998.2 1639.5,998.1 1640,998.6 1640.5,998.2 1641,998.3 1641.5,998.2 1642,998.2 1642.5,998.1 1643,998.1 1643.5,998.4 1644,998.7 1644.5,997.9 1645,998.2 1645.5,997.8 1646,998.6 1646.5,998.6 1647,998.1 1647.5,998.5 1648,998.1 1648.5,997.7 1649,998.5 1649.5,997.6 1650,997.7 1650.5,998.3 1651,998.2 1651.5,998.1 1652,997.9 1652.5,997.8 1653,997.6 1653.5,998.3 1654,998.1 1654.5,998.5 1655,998 1655.5,998 1656,997.7 1656.5,997.7 1657,998 1657.5,997.6 1658,998.1 1658.5,998.1 1659,997.4 1659.5,997.9 1660,997.8 1660.5,997.8 1661,997.6 1661.5,998 1662,997.7 1662.5,997.8 1663,997.7 1663.5,997.4 1664,997.2 1664.5,998 1665,998 1665.5,997.5 1666,997.7 1666.5,997.8 1667,997.8 1667.5,997.6 1668,997.3 1668.5,997.5 1669,997.1 1669.5,997.3 1670,996.9 1670.5,996.7 1671,996.8 1671.5,996.6 1672,997.1 1672.5,997.1 1673,997 1673.5,996.6 1674,996.7 1674.5,996.3 1675,996.7 1675.5,996.6 1676,996.9 1676.5,996 1677,996.2 1677.5,996.1 1678,996.6 1678.5,995.9 1679,995.8 1679.5,995.1 1680,995.3 1680.5,995.8 1681,995.4 1681.5,995 1682,994.5 1682.5,994.1 1683,994.1 1683.5,993.6 1684,994.1 1684.5,993 1685,992.7 1685.5,992.7 1686,992.1 1686.5,991.4 1687,990.8 1687.5,990.5 1688,990.6 1688.5,989.5 1689,989.1 1689.5,988.8 1690,988.3 1690.5,987.5 1691,986.7 1691.5,985.7 1692,984.8 1692.5,984.3 1693,983.5 1693.5,982.7 1694,981.2 1694.5,980.5 1695,980.2 1695.5,979.4 1696,978.1 1696.5,976.7 1697,976.2 1697.5,974.8 1698,974 1698.5,972.9 1699,972.2 1699.5,971.3 1700,970.1 1700.5,968.7 1701,968.3 1701.5,966.9 1702,965.8 1702.5,965.5 1703,965 1703.5,963.4 1704,962.9 1704.5,962.2 1705,961.7 1705.5,961.7 1706,961.2 1706.5,960.8 1707,960.6 1707.5,960.2 1708,960.3 1708.5,960.3 1709,960.9 1709.5,961.1 1710,961.2 1710.5,961.8 1711,961.9 1711.5,963.2 1712,962.9 1712.5,963.7 1713,964.5 1713.5,965.5 1714,966.1 1714.5,966.6 1715,967.8 1715.5,968.7 1716,969.1 1716.5,969.7 1717,971.3 1717.5,971.8 1718,973.3 1718.5,974.4 1719,975.2 1719.5,975.8 1720,976.9 1720.5,977.5 1721,978.2 1721.5,979.2 1722,980 1722.5,981 1723,981.4 1723.5,982.2 1724,983.3 1724.5,984 1725,984.7 1725.5,985.6 1726,985.7 1726.5,986.9 1727,987.2 1727.5,987.9 1728,988.7 1728.5,989 1729,989.7 1729.5,990.4 1730,990.4 1730.5,990.4 1731,991.2 1731.5,991.6 1732,992.1 1732.5,992.2 1733,992.8 1733.5,993.1 1734,992.8 1734.5,994.1 1735,993.7 1735.5,993.8 1736,994.2 1736.5,994.8 1737,995.6 1737.5,994.4 1738,995 1738.5,995.6 1739,995.3 1739.5,995.6 1740,995.6 1740.5,995.9 1741,996.1 1741.5,995.8 1742,995.9 1742.5,995.9 1743,996.4 1743.5,997.1 1744,996.9 1744.5,996.6 1745,997 1745.5,996.9 1746,996.7 1746.5,996.7 1747,997 1747.5,996.8 1748,997 1748.5,997.2 1749,996.8 1749.5,996.8 1750,997.1 1750.5,997 1751,997.2 1751.5,997.4 1752,997.4 1752.5,997.6 1753,997.4 1753.5,997.5 1754,997.4 1754.5,997.5 1755,997.5 1755.5,997.5 1756,997.5 1756.5,997.7 1757,997.8 1757.5,998 1758,998.1 1758.5,997.9 1759,997.5 1759.5,997.4 1760,997.3 1760.5,997.7 1761,997.8 1761.5,998 1762,997.8 1762.5,997.8 1763,997.5 1763.5,998 1764,998.4 1764.5,997.8 1765,998.5 1765.5,998.1 1766,997.7 1766.5,998.1 1767,998 1767.5,998.1 1768,997.6 1768.5,998.1 1769,998.2 1769.5,997.7 1770,998.1 1770.5,998.4 1771,998.1 1771.5,997.9 1772,998 1772.5,998.3 1773,998.2 1773.5,998.1 1774,997.9 1774.5,997.9 1775,998.1 1775.5,997.8 1776,998.2 1776.5,998.7 1777,998.1 1777.5,998.2 1778,998.2 1778.5,998.3 1779,998.1 1779.5,998.3 1780,998 1780.5,997.9 1781,998.1 1781.5,998.4 1782,998.1 1782.5,998 1783,998.3 1783.5,997.7 1784,998.1 1784.5,997.6 1785,998.1 1785.5,998.8 1786,997.8 1786.5,998.6 1787,998.1 1787.5,998.2 1788,998.2 1788.5,998.8 1789,998.2 1789.5,998.3 1790,998.2 1790.5,998.3 1791,998.5 1791.5,998.4 1792,998.4 1792.5,998.2 1793,998.4 1793.5,998.3 1794,998.4 1794.5,998.4 1795,998.2 1795.5,998 1796,998.5 1796.5,997.9 1797,998.6 1797.5,998.2 1798,998.2 1798.5,998.7 1799,998.2 1799.5,998.4 1800,998.2 1800.5,998.5 1801,998.5 1801.5,998.4 1802,998.4 1802.5,998 1803,998.7 1803.5,998.3 1804,998.4 1804.5,998.3 1805,998.5 1805.5,998.4 1806,998.4 1806.5,998.4 1807,998.5 1807.5,998.9 1808,998.2 1808.5,998.8 1809,998.5 1809.5,998.6 1810,998.3 1810.5,998.8 1811,998.7 1811.5,998 1812,998 1812.5,998.9 1813,998.3 1813.5,998.4 1814,998.1 1814.5,998.5 1815,998.5 1815.5,998.4 1816,998.9 1816.5,998.5 1817,998.7 1817.5,998.5 1818,998.6 1818.5,998.5 1819,998.4 1819.5,998.9 1820,998.8 1820.5,998.8 1821,998.4 1821.5,998.4 1822,998.6 1822.5,998.4 1823,998.7 1823.5,999 1824,998.4 1824.5,998.4 1825,998.1 1825.5,998.9 1826,998.6 1826.5,998.7 1827,998.4 1827.5,998.6 1828,998.5 1828.5,998.4 1829,998.7 1829.5,998.9 1830,998.9 1830.5,998.5 1831,999.4 1831.5,998.4 1832,998.6 1832.5,998.2 1833,998.5 1833.5,998.7 1834,998.4 1834.5,998.6 1835,998.3 1835.5,998.5 1836,998.3 1836.5,998.5 1837,998 1837.5,998.4 1838,998.5 1838.5,998.6 1839,998.9 1839.5,998.3 1840,998.4 1840.5,998.8 1841,998.4 1841.5,998.5 1842,998.2 1842.5,997.8 1843,999.2 1843.5,998.8 1844,999.2 1844.5,998.6 1845,998.2 1845.5,998.7 1846,998.4 1846.5,998.7 1847,998.7 1847.5,998.8 1848,998.4 1848.5,998.7 1849,998.7 1849.5,999 1850,998.5 1850.5,999.1 1851,998.8 1851.5,998.7 1852,998.5 1852.5,998.7 1853,998.8 1853.5,998.4 1854,998.8 1854.5,998.7 1855,998.6 1855.5,998.4 1856,998.6 1856.5,998.8 1857,999.1 1857.5,998.7 1858,998.6 1858.5,998.8 1859,998.9 1859.5,998.9 1860,998.6 1860.5,998 1861,998.7 1861.5,998.6 1862,998.3 1862.5,998.7 1863,998.4 1863.5,998.6 1864,999 1864.5,998.5 1865,998 1865.5,998.9 1866,998.6 1866.5,998.7 1867,998.2 1867.5,998.2 1868,998.6 1868.5,998.5 1869,998.7 1869.5,998.6"/>
<polyline class="cv" stroke-width="4" stroke="#00f" points="170,1138.3 172,1138.3 174,1138.3 176,1138.3 178,1138.3 180,1138.2 182,1138.2 184,1138.2 186,1138.2 188,1138.2 190,1138.2 192,1138.1 194,1138.1 196,1138.1 198,1138.1 200,1138 202,1138 204,1138 206,1137.9 208,1137.9 210,1137.8 212,1137.8 214,1137.8 216,1137.7 218,1137.6 220,1137.6 222,1137.5 224,1137.4 226,1137.3 228,1137.2 230,1137.1 232,1136.9 234,1136.7 236,1136.3 238,1135.8 240,1135.1 242,1134.2 244,1133.4 246,1132.9 248,1132.8 250,1133.1 252,1133.3 254,1133.3 256,1132.7 256.5,1132.3 257,1131.9 257.5,1131.4 258,1130.7 258.5,1129.9 259,1128.9 259.5,1127.8 260,1126.6 260.5,1125.4 261,1124.1 261.5,1122.8 262,1121.7 262.5,1120.8 263,1120.2 263.5,1119.9 265.5,1121.3 266,1122 266.5,1122.6 267,1123.3 267.5,1123.8 268,1124.2 268.5,1124.5 270.5,1124.2 271,1123.8 271.5,1123.3 272,1122.7 272.5,1122 273,1121.2 273.5,1120.3 274,1119.2 274.5,1118.1 275,1116.7 275.5,1115.2 276,1113.5 276.5,1111.4 277,1109 277.5,1106.1 278,1102.6 278.5,1098.4 279,1093.2 279.5,1086.9 280,1079.1 280.5,1069.5 281,1058 281.5,1044.1 282,1027.5 282.5,1007.9 283,985 283.5,958.8 284,929.1 284.5,896 285,859.8 285.5,820.8 286,779.8 286.5,737.6 287,695.4 287.5,654.7 288,617.1 288.5,584.7 289,559.5 289.5,543.2 290,537.2 290.5,544.6 291,568 291.5,604.1 292,649.2 292.5,699.2 293,750.8 293.5,801.4 294,849 294.5,892.6 295,931.5 295.5,965.3 296,994.2 296.5,1018.3 297,1038.1 297.5,1054.3 298,1067.2 298.5,1077.5 299,1085.7 299.5,1092.3 300,1097.5 300.5,1101.8 301,1105.3 301.5,1108.2 302,1110.7 302.5,1112.8 303,1114.7 303.5,1116.4 304,1117.9 304.5,1119.2 305,1120.4 305.5,1121.5 306,1122.5 306.5,1123.4 307,1124.3 307.5,1125.1 308,1125.8 308.5,1126.4 309,1127 309.5,1127.6 310,1128.1 310.5,1128.6 311,1129.1 311.5,1129.5 312,1129.9 312.5,1130.3 313,1130.7 313.5,1131 314,1131.3 314.5,1131.6 315,1131.9 315.5,1132.1 317.5,1133 319.5,1133.8 321.5,1134.4 323.5,1134.9 325.5,1135.3 327.5,1135.6 329.5,1136 331.5,1136.2 333.5,1136.4 335.5,1136.6 337.5,1136.8 339.5,1137 341.5,1137.1 343.5,1137.2 345.5,1137.3 347.5,1137.4 349.5,1137.5 351.5,1137.6 353.5,1137.7 355.5,1137.7 357.5,1137.8 359.5,1137.8 361.5,1137.9 363.5,1137.9 365.5,1138 367.5,1138 369.5,1138.1 371.5,1138.1 373.5,1138.1 375.5,1138.1 377.5,1138.2 379.5,1138.2 381.5,1138.2 383.5,1138.2 385.5,1138.3 387.5,1138.3 389.5,1138.3 391.5,1138.3 393.5,1138.3 395.5,1138.4 397.5,1138.4 399.5,1138.4 401.5,1138.4 403.5,1138.4 405.5,1138.4 407.5,1138.4 409.5,1138.4 411.5,1138.4 413.5,1138.4 415.5,1138.4 417.5,1138.4 419.5,1138.4 421.5,1138.4 423.5,1138.4 425.5,1138.4 427.5,1138.4 429.5,1138.4 431.5,1138.3 433.5,1138.3 435.5,1138.1 437.5,1137.8 439.5,1137.3 441.5,1136.7 443.5,1135.9 445.5,1135.1 447.5,1134.5 449.5,1134.3 451.5,1134.7 453.5,1135.4 455.5,1136.2 457.5,1137 459.5,1137.6 461.5,1138 463.5,1138.2 465.5,1138.4 467.5,1138.5 469.5,1138.5 471.5,1138.5 473.5,1138.6 475.5,1138.6 477.5,1138.6 479.5,1138.6 481.5,1138.6 483.5,1138.6 485.5,1138.6 487.5,1138.6 489.5,1138.6 491.5,1138.7 493.5,1138.7 495.5,1138.7 497.5,1138.7 499.5,1138.7 501.5,1138.7 503.5,1138.7 505.5,1138.7 507.5,1138.7 509.5,1138.7 511.5,1138.7 513.5,1138.7 515.5,1138.7 517.5,1138.7 519.5,1138.7 521.5,1138.7 523.5,1138.7 525.5,1138.7 527.5,1138.7 529.5,1138.7 531.5,1138.7 533.5,1138.7 535.5,1138.7 537.5,1138.7 539.5,1138.7 541.5,1138.7 543.5,1138.7 545.5,1138.7 547.5,1138.7 549.5,1138.7 551.5,1138.7 553.5,1138.7 555.5,1138.7 557.5,1138.7 559.5,1138.7 561.5,1138.7 563.5,1138.7 565.5,1138.7 567.5,1138.7 569.5,1138.7 571.5,1138.7 573.5,1138.7 575.5,1138.7 577.5,1138.7 579.5,1138.7 581.5,1138.7 583.5,1138.7 585.5,1138.7 587.5,1138.7 589.5,1138.7 591.5,1138.7 593.5,1138.7 595.5,1138.7 597.5,1138.7 599.5,1138.6 601.5,1138.6 603.5,1138.4 605.5,1138.2 607.5,1138 609.5,1137.7 611.5,1137.4 613.5,1137.3 615.5,1137.3 617.5,1137.5 619.5,1137.8 621.5,1138.1 623.5,1138.3 625.5,1138.5 627.5,1138.6 629.5,1138.7 631.5,1138.7 633.5,1138.7 635.5,1138.7 637.5,1138.8 639.5,1138.8 641.5,1138.8 643.5,1138.8 645.5,1138.8 647.5,1138.8 649.5,1138.8 651.5,1138.8 653.5,1138.8 655.5,1138.8 657.5,1138.8 659.5,1138.8 661.5,1138.8 663.5,1138.8 665.5,1138.8 667.5,1138.8 669.5,1138.8 671.5,1138.8 673.5,1138.8 675.5,1138.8 677.5,1138.8 679.5,1138.8 681.5,1138.8 683.5,1138.8 685.5,1138.8 687.5,1138.8 689.5,1138.8 691.5,1138.8 693.5,1138.8 695.5,1138.8 697.5,1138.8 699.5,1138.8 701.5,1138.8 703.5,1138.8 705.5,1138.8 707.5,1138.8 709.5,1138.8 711.5,1138.8 713.5,1138.8 715.5,1138.8 717.5,1138.8 719.5,1138.8 721.5,1138.8 723.5,1138.7 725.5,1138.7 727.5,1138.7 729.5,1138.7 731.5,1138.7 733.5,1138.7 735.5,1138.7 737.5,1138.7 739.5,1138.7 741.5,1138.6 743.5,1138.6 745.5,1138.5 747.5,1138.3 749.5,1138 751.5,1137.6 753.5,1137.1 755.5,1136.8 757.5,1136.7 759.5,1136.9 761.5,1137.3 763.5,1137.7 765.5,1138 767.5,1138.3 769.5,1138.4 771.5,1138.4 773.5,1138.4 775.5,1138.4 777.5,1138.4 779.5,1138.3 781.5,1138.3 783.5,1138.3 785.5,1138.2 787.5,1138.1 789.5,1138 791.5,1137.9 793.5,1137.8 795.5,1137.6 797.5,1137.4 799.5,1137.1 801.5,1136.5 803.5,1135.1 804,1134.5 804.5,1133.8 805,1133.2 805.5,1132.5 806,1132 806.5,1131.6 808.5,1131.1 810.5,1129.6 811,1128.8 811.5,1127.7 812,1126.5 812.5,1125 813,1123.4 813.5,1121.6 814,1119.6 814.5,1117.5 815,1115.2 815.5,1112.8 816,1110.3 816.5,1107.6 817,1105 817.5,1102.3 818,1099.7 818.5,1097.1 819,1094.8 819.5,1092.7 820,1090.9 820.5,1089.5 821,1088.7 821.5,1088.3 823.5,1091.4 824,1093.1 824.5,1095.1 825,1097.3 825.5,1099.6 826,1102.1 826.5,1104.6 827,1107.1 827.5,1109.5 828,1111.9 828.5,1114.3 829,1116.5 829.5,1118.6 830,1120.6 830.5,1122.4 831,1124.1 831.5,1125.6 832,1127 832.5,1128.3 833,1129.4 833.5,1130.4 834,1131.3 834.5,1132.1 835,1132.8 835.5,1133.4 836,1134 836.5,1134.4 837,1134.8 837.5,1135.2 838,1135.5 838.5,1135.7 840.5,1136.5 842.5,1136.9 844.5,1137.3 846.5,1137.5 848.5,1137.7 850.5,1137.9 852.5,1138 854.5,1138.1 856.5,1138.2 858.5,1138.3 860.5,1138.3 862.5,1138.4 864.5,1138.4 866.5,1138.5 868.5,1138.5 870.5,1138.5 872.5,1138.6 874.5,1138.6 876.5,1138.6 878.5,1138.6 880.5,1138.7 882.5,1138.7 884.5,1138.7 886.5,1138.7 888.5,1138.7 890.5,1138.7 892.5,1138.7 894.5,1138.7 896.5,1138.8 898.5,1138.8 900.5,1138.8 902.5,1138.8 904.5,1138.8 906.5,1138.8 908.5,1138.8 910.5,1138.8 912.5,1138.8 914.5,1138.8 916.5,1138.8 918.5,1138.8 920.5,1138.8 922.5,1138.8 924.5,1138.8 926.5,1138.8 928.5,1138.9 930.5,1138.9 932.5,1138.9 934.5,1138.9 936.5,1138.9 938.5,1138.9 940.5,1138.9 942.5,1138.9 944.5,1138.9 946.5,1138.9 948.5,1138.9 950.5,1138.9 952.5,1138.9 954.5,1138.9 956.5,1138.9 958.5,1138.9 960.5,1138.9 962.5,1138.9 964.5,1138.9 966.5,1138.9 968.5,1138.9 970.5,1138.9 972.5,1138.9 974.5,1138.9 976.5,1138.9 978.5,1138.9 980.5,1138.9 982.5,1138.9 984.5,1138.9 986.5,1138.9 988.5,1138.9 990.5,1138.9 992.5,1138.9 994.5,1138.9 996.5,1138.9 998.5,1138.9 1000.5,1138.9 1002.5,1138.9 1004.5,1138.9 1006.5,1138.9 1008.5,1138.9 1010.5,1138.9 1012.5,1138.9 1014.5,1138.9 1016.5,1138.9 1018.5,1138.9 1020.5,1138.9 1022.5,1138.9 1024.5,1138.9 1026.5,1138.9 1028.5,1138.9 1030.5,1138.9 1032.5,1138.9 1034.5,1138.9 1036.5,1138.9 1038.5,1138.9 1040.5,1138.9 1042.5,1138.9 1044.5,1138.9 1046.5,1138.9 1048.5,1138.9 1050.5,1138.9 1052.5,1138.8 1054.5,1138.8 1056.5,1138.7 1058.5,1138.6 1060.5,1138.4 1062.5,1138.2 1064.5,1137.9 1066.5,1137.5 1068.5,1137.2 1070.5,1137 1072.5,1136.9 1074.5,1137.1 1076.5,1137.4 1078.5,1137.7 1080.5,1138 1082.5,1138.3 1084.5,1138.5 1086.5,1138.7 1088.5,1138.7 1090.5,1138.8 1092.5,1138.8 1094.5,1138.9 1096.5,1138.9 1098.5,1138.9 1100.5,1138.9 1102.5,1138.9 1104.5,1138.9 1106.5,1138.9 1108.5,1138.9 1110.5,1138.9 1112.5,1138.9 1114.5,1138.9 1116.5,1138.9 1118.5,1138.9 1120.5,1138.9 1122.5,1138.9 1124.5,1138.9 1126.5,1138.9 1128.5,1138.9 1130.5,1138.9 1132.5,1138.9 1134.5,1138.9 1136.5,1138.9 1138.5,1138.9 1140.5,1138.9 1142.5,1138.9 1144.5,1138.9 1146.5,1138.9 1148.5,1138.9 1150.5,1138.9 1152.5,1138.9 1154.5,1138.9 1156.5,1138.9 1158.5,1138.9 1160.5,1138.8 1162.5,1138.8 1164.5,1138.8 1166.5,1138.8 1168.5,1138.8 1170.5,1138.8 1172.5,1138.8 1174.5,1138.8 1176.5,1138.8 1178.5,1138.8 1180.5,1138.8 1182.5,1138.8 1184.5,1138.7 1186.5,1138.7 1188.5,1138.7 1190.5,1138.7 1192.5,1138.7 1194.5,1138.7 1196.5,1138.7 1198.5,1138.6 1200.5,1138.6 1202.5,1138.6 1204.5,1138.6 1206.5,1138.5 1208.5,1138.5 1210.5,1138.5 1212.5,1138.4 1214.5,1138.4 1216.5,1138.3 1218.5,1138.3 1220.5,1138.2 1222.5,1138.2 1224.5,1138.1 1226.5,1138 1228.5,1137.9 1230.5,1137.8 1232.5,1137.7 1234.5,1137.6 1236.5,1137.4 1238.5,1137.2 1240.5,1137 1242.5,1136.7 1244.5,1136.4 1246.5,1136 1248.5,1135.5 1250.5,1134.9 1252.5,1134.1 1253,1133.8 1253.5,1133.5 1254,1133.2 1254.5,1132.8 1255,1132.4 1255.5,1132 1256,1131.5 1256.5,1130.9 1257,1130.3 1257.5,1129.6 1258,1128.7 1258.5,1127.8 1259,1126.7 1259.5,1125.5 1260,1124.2 1260.5,1122.7 1261,1121 1261.5,1119.1 1262,1117 1262.5,1114.7 1263,1112.1 1263.5,1109.4 1264,1106.4 1264.5,1103.1 1265,1099.7 1265.5,1096 1266,1092.1 1266.5,1088.1 1267,1083.9 1267.5,1079.6 1268,1075.2 1268.5,1070.9 1269,1066.6 1269.5,1062.5 1270,1058.7 1270.5,1055.2 1271,1052.2 1271.5,1049.8 1272,1048 1272.5,1047 1274.5,1050.2 1275,1052.5 1275.5,1055.3 1276,1058.5 1276.5,1062 1277,1065.8 1277.5,1069.8 1278,1073.8 1278.5,1077.9 1279,1082 1279.5,1086 1280,1089.9 1280.5,1093.7 1281,1097.3 1281.5,1100.7 1282,1104 1282.5,1107 1283,1109.9 1283.5,1112.5 1284,1114.9 1284.5,1117.2 1285,1119.2 1285.5,1121 1286,1122.7 1286.5,1124.2 1287,1125.5 1287.5,1126.7 1288,1127.8 1288.5,1128.7 1289,1129.6 1289.5,1130.3 1290,1131 1290.5,1131.6 1291,1132.1 1291.5,1132.6 1292,1133 1292.5,1133.3 1293,1133.7 1293.5,1133.9 1294,1134.2 1296,1135 1298,1135.7 1300,1136.1 1302,1136.5 1304,1136.8 1306,1137.1 1308,1137.3 1310,1137.5 1312,1137.6 1314,1137.7 1316,1137.9 1318,1138 1320,1138.1 1322,1138.1 1324,1138.2 1326,1138.3 1328,1138.3 1330,1138.4 1332,1138.4 1334,1138.5 1336,1138.5 1338,1138.5 1340,1138.6 1342,1138.6 1344,1138.6 1346,1138.7 1348,1138.7 1350,1138.7 1352,1138.7 1354,1138.7 1356,1138.8 1358,1138.8 1360,1138.8 1362,1138.8 1364,1138.8 1366,1138.8 1368,1138.8 1370,1138.9 1372,1138.9 1374,1138.9 1376,1138.9 1378,1138.9 1380,1138.9 1382,1138.9 1384,1138.9 1386,1138.9 1388,1138.9 1390,1138.9 1392,1138.9 1394,1138.9 1396,1138.9 1398,1139 1400,1139 1402,1139 1404,1139 1406,1139 1408,1139 1410,1139 1412,1139 1414,1139 1416,1139 1418,1139 1420,1139 1422,1139 1424,1139 1426,1139 1428,1139 1430,1139 1432,1139 1434,1139 1436,1139 1438,1139 1440,1139 1442,1139 1444,1139 1446,1139 1448,1139 1450,1139 1452,1139 1454,1139 1456,1139 1458,1139 1460,1139 1462,1139 1464,1138.9 1466,1138.9 1468,1138.8 1470,1138.7 1472,1138.6 1474,1138.5 1476,1138.2 1478,1138 1480,1137.7 1482,1137.3 1484,1136.9 1486,1136.5 1488,1136.1 1490,1135.8 1492,1135.6 1494,1135.5 1496,1135.5 1498,1135.7 1500,1136 1502,1136.4 1504,1136.7 1506,1137.1 1508,1137.5 1510,1137.8 1512,1138.1 1514,1138.3 1516,1138.5 1518,1138.7 1520,1138.8 1522,1138.9 1524,1138.9 1526,1139 1528,1139 1530,1139 1532,1139 1534,1139 1536,1139 1538,1139 1540,1139 1542,1139 1544,1139.1 1546,1139.1 1548,1139.1 1550,1139.1 1552,1139.1 1554,1139.1 1556,1139.1 1558,1139.1 1560,1139.1 1562,1139.1 1564,1139.1 1566,1139.1 1568,1139.1 1570,1139.1 1572,1139.1 1574,1139.1 1576,1139.1 1578,1139.1 1580,1139.1 1582,1139.1 1584,1139.1 1586,1139.1 1588,1139.1 1590,1139.1 1592,1139.1 1594,1139 1596,1139 1598,1139 1600,1139 1602,1139 1604,1139 1606,1139 1608,1139 1610,1139 1612,1139 1614,1139 1616,1138.9 1618,1138.9 1620,1138.8 1622,1138.6 1624,1138.4 1626,1138.1 1628,1137.8 1630,1137.6 1632,1137.5 1634,1137.5 1636,1137.8 1638,1138 1640,1138.3 1642,1138.5 1644,1138.6 1646,1138.7 1648,1138.7 1650,1138.7 1652,1138.7 1654,1138.7 1656,1138.7 1658,1138.6 1660,1138.6 1662,1138.5 1664,1138.5 1666,1138.4 1668,1138.4 1670,1138.3 1672,1138.2 1674,1138 1676,1137.9 1678,1137.7 1680,1137.5 1682,1137.2 1684,1136.9 1686,1136.5 1688,1135.9 1690,1135.1 1692,1133.9 1692.5,1133.6 1693,1133.2 1693.5,1132.7 1694,1132.3 1694.5,1131.7 1695,1131.2 1695.5,1130.5 1696,1129.8 1696.5,1129.1 1697,1128.2 1697.5,1127.3 1698,1126.4 1698.5,1125.3 1699,1124.2 1699.5,1123 1700,1121.7 1700.5,1120.4 1701,1119 1701.5,1117.6 1702,1116.1 1702.5,1114.6 1703,1113.2 1703.5,1111.8 1704,1110.6 1704.5,1109.5 1705,1108.6 1705.5,1107.9 1706,1107.4 1708,1108 1708.5,1108.5 1709,1109.2 1709.5,1109.9 1710,1110.7 1710.5,1111.5 1711,1112.2 1711.5,1113 1712,1113.6 1712.5,1114.2 1713,1114.8 1713.5,1115.3 1714,1115.8 1714.5,1116.2 1715,1116.7 1715.5,1117.2 1716,1117.7 1716.5,1118.3 1717,1119.1 1717.5,1119.9 1718,1120.7 1718.5,1121.5 1719,1122.3 1719.5,1123.1 1720,1123.9 1720.5,1124.7 1721,1125.5 1721.5,1126.3 1722,1127.1 1722.5,1127.8 1723,1128.5 1723.5,1129.2 1724,1129.8 1724.5,1130.4 1725,1131 1725.5,1131.5 1726,1132 1726.5,1132.5 1727,1132.9 1727.5,1133.4 1728,1133.7 1728.5,1134.1 1729,1134.4 1729.5,1134.7 1730,1135 1730.5,1135.3 1732.5,1136.1 1734.5,1136.7 1736.5,1137.1 1738.5,1137.4 1740.5,1137.7 1742.5,1137.9 1744.5,1138 1746.5,1138.2 1748.5,1138.3 1750.5,1138.4 1752.5,1138.4 1754.5,1138.5 1756.5,1138.6 1758.5,1138.6 1760.5,1138.7 1762.5,1138.7 1764.5,1138.8 1766.5,1138.8 1768.5,1138.8 1770.5,1138.9 1772.5,1138.9 1774.5,1138.9 1776.5,1138.9 1778.5,1138.9 1780.5,1139 1782.5,1139 1784.5,1139 1786.5,1139 1788.5,1139 1790.5,1139 1792.5,1139 1794.5,1139.1 1796.5,1139.1 1798.5,1139.1 1800.5,1139.1 1802.5,1139.1 1804.5,1139.1 1806.5,1139.1 1808.5,1139.1 1810.5,1139.1 1812.5,1139.1 1814.5,1139.1 1816.5,1139.1 1818.5,1139.1 1820.5,1139.2 1822.5,1139.2 1824.5,1139.2 1826.5,1139.2 1828.5,1139.2 1830.5,1139.2 1832.5,1139.2 1834.5,1139.2 1836.5,1139.2 1838.5,1139.2 1840.5,1139.2 1842.5,1139.2 1844.5,1139.2 1846.5,1139.2 1848.5,1139.2 1850.5,1139.2 1852.5,1139.2 1854.5,1139.2 1856.5,1139.2 1858.5,1139.2 1860.5,1139.2 1862.5,1139.2 1864.5,1139.2 1866.5,1139.2 1868.5,1139.2 1869.7,1139.3"/>
<polyline class="cv" stroke-width="6.3" stroke="#00f" points="170,1138.9 170.5,1138.1 171,1138.4 171.5,1138.3 172,1138.5 172.5,1137.9 173,1138.2 173.5,1138.1 174,1138 174.5,1138.1 175,1138.1 175.5,1138.2 176,1138 176.5,1138.4 177,1138.1 177.5,1137.4 178,1138.6 178.5,1138.2 179,1138.1 179.5,1138.3 180,1138.3 180.5,1138.3 181,1138 181.5,1138.3 182,1137.8 182.5,1138.6 183,1137.9 183.5,1138.2 184,1138.2 184.5,1138.3 185,1138.1 185.5,1138.3 186,1137.2 186.5,1138.1 187,1138.1 187.5,1138 188,1138.6 188.5,1137.9 189,1138.1 189.5,1137.6 190,1138.2 190.5,1137.7 191,1137.7 191.5,1138.7 192,1138.3 192.5,1138.1 193,1138.1 193.5,1137.7 194,1137.8 194.5,1138.2 195,1137.5 195.5,1138.1 196,1137.6 196.5,1138.1 197,1137.7 197.5,1138.5 198,1138.3 198.5,1137.9 199,1137.5 199.5,1137.8 200,1138 200.5,1137.7 201,1138.1 201.5,1138.2 202,1137.9 202.5,1137.8 203,1138.2 203.5,1137.9 204,1138.2 204.5,1137.8 205,1138.4 205.5,1137.8 206,1137.6 206.5,1137.9 207,1137.7 207.5,1137.6 208,1137.8 208.5,1138 209,1137.2 209.5,1137.8 210,1137.8 210.5,1137.8 211,1138 211.5,1137.4 212,1137.9 212.5,1137.7 213,1137.8 213.5,1137.7 214,1137.6 214.5,1137.6 215,1137.8 215.5,1138.3 216,1138 216.5,1137.9 217,1137.8 217.5,1137.5 218,1137.8 218.5,1138.2 219,1137.2 219.5,1137.8 220,1137.8 220.5,1137.6 221,1137.7 221.5,1137.9 222,1138.1 222.5,1137.8 223,1137.9 223.5,1137.5 224,1137.6 224.5,1137.4 225,1137.4 225.5,1137.2 226,1137.5 226.5,1137.7 227,1137.2 227.5,1137.3 228,1137.4 228.5,1137.2 229,1137.4 229.5,1137.2 230,1136.8 230.5,1136.8 231,1137.2 231.5,1137.1 232,1137.2 232.5,1136.9 233,1136.9 233.5,1136.3 234,1137.1 234.5,1136.3 235,1136.8 235.5,1136.1 236,1136.1 236.5,1136.2 237,1135.9 237.5,1135.7 238,1136 238.5,1135.8 239,1135.5 239.5,1135.1 240,1134.8 240.5,1134.7 241,1134.5 241.5,1134.4 242,1134.4 242.5,1133.9 243,1133.5 243.5,1133.4 244,1133.7 244.5,1133.3 245,1133.1 245.5,1133 246,1133 246.5,1132.9 247,1133.1 247.5,1133 248,1132.1 248.5,1132.8 249,1133.7 249.5,1132.7 250,1133.1 250.5,1133.4 251,1133.2 251.5,1133.6 252,1133 252.5,1133 253,1133.3 253.5,1133.1 254,1133 254.5,1133.4 255,1133.2 255.5,1132.9 256,1132.6 256.5,1132.4 257,1131.9 257.5,1131.2 258,1130.8 258.5,1130 259,1128.9 259.5,1128 260,1126.3 260.5,1125.3 261,1123.9 261.5,1123.2 262,1121.9 262.5,1121.4 263,1120.6 263.5,1119.8 264,1119.6 264.5,1120.3 265,1120.6 265.5,1121.2 266,1121.7 266.5,1122.8 267,1123.3 267.5,1123.9 268,1124.3 268.5,1124.3 269,1124 269.5,1124.6 270,1124.3 270.5,1124.1 271,1124.1 271.5,1123.3 272,1123.1 272.5,1122.1 273,1121.4 273.5,1120.4 274,1119.5 274.5,1117.7 275,1117 275.5,1115.3 276,1113.2 276.5,1111.6 277,1109.1 277.5,1106.5 278,1102.8 278.5,1098.5 279,1092.8 279.5,1087.3 280,1079.5 280.5,1069.8 281,1058.1 281.5,1044.4 282,1027.2 282.5,1008.1 283,985 283.5,958.5 284,929.2 284.5,896.1 285,860.2 285.5,821.1 286,779.4 286.5,737.1 287,695.4 287.5,654.6 288,616.9 288.5,584.4 289,559.4 289.5,542.9 290,537 290.5,544.9 291,568 291.5,603.9 292,648.9 292.5,699.2 293,751.3 293.5,801.2 294,849.5 294.5,892.4 295,931.4 295.5,965.5 296,994 296.5,1018.3 297,1037.8 297.5,1054.4 298,1067.5 298.5,1077.3 299,1085.8 299.5,1092.1 300,1096.9 300.5,1102.5 301,1105.4 301.5,1108.4 302,1110.8 302.5,1112.9 303,1115.4 303.5,1115.9 304,1117.8 304.5,1119.1 305,1120.4 305.5,1121.7 306,1122.3 306.5,1123.1 307,1124 307.5,1125.2 308,1126 308.5,1126.7 309,1127.5 309.5,1127.5 310,1128.4 310.5,1128.8 311,1129.1 311.5,1129.3 312,1130.2 312.5,1130.1 313,1130.6 313.5,1130.7 314,1131.8 314.5,1131.6 315,1131.7 315.5,1132.1 316,1132.3 316.5,1132.6 317,1132.4 317.5,1132.7 318,1133.4 318.5,1133.7 319,1133.3 319.5,1133.8 320,1133.8 320.5,1133.5 321,1134.2 321.5,1134.1 322,1134.7 322.5,1134.6 323,1134.7 323.5,1134.5 324,1135 324.5,1134.6 325,1135.3 325.5,1135.7 326,1135.1 326.5,1135.7 327,1135.9 327.5,1135.6 328,1136 328.5,1135.8 329,1135.7 329.5,1135.4 330,1135.7 330.5,1135.7 331,1136.8 331.5,1136.3 332,1136.2 332.5,1136 333,1136.8 333.5,1136.1 334,1136.9 334.5,1136.8 335,1136.6 335.5,1136.5 336,1136.7 336.5,1136.4 337,1136.9 337.5,1137.3 338,1137.1 338.5,1137.2 339,1136.7 339.5,1137 340,1136.7 340.5,1136.9 341,1137.3 341.5,1137.8 342,1137.1 342.5,1137.2 343,1136.7 343.5,1137.3 344,1137 344.5,1136.9 345,1136.9 345.5,1137.4 346,1137.2 346.5,1137.6 347,1137.3 347.5,1137.4 348,1137.8 348.5,1137.7 349,1137.7 349.5,1137.9 350,1137.6 350.5,1137.3 351,1137.4 351.5,1137.2 352,1137.7 352.5,1137.5 353,1137.8 353.5,1137.9 354,1137.5 354.5,1137.7 355,1138.1 355.5,1137.7 356,1138 356.5,1137.7 357,1137.5 357.5,1137.7 358,1137.3 358.5,1138 359,1137.7 359.5,1138.2 360,1137.5 360.5,1137.9 361,1138 361.5,1137.8 362,1138 362.5,1137.7 363,1137.6 363.5,1137.6 364,1137.8 364.5,1137.7 365,1138 365.5,1137.9 366,1137.8 366.5,1137.8 367,1137.5 367.5,1137.9 368,1138.1 368.5,1137.7 369,1138 369.5,1138.2 370,1137.9 370.5,1138.1 371,1138 371.5,1138.8 372,1138.5 372.5,1138.4 373,1137.9 373.5,1138.3 374,1138.1 374.5,1138.2 375,1138 375.5,1138.2 376,1137.9 376.5,1138.2 377,1138.7 377.5,1137.8 378,1137.8 378.5,1138.3 379,1138.4 379.5,1138.1 380,1138.4 380.5,1138.3 381,1138.4 381.5,1138.6 382,1138.1 382.5,1138.4 383,1138.3 383.5,1138.1 384,1138.4 384.5,1137.9 385,1137.9 385.5,1138.6 386,1138 386.5,1138.7 387,1138.6 387.5,1138.1 388,1138 388.5,1137.7 389,1138.3 389.5,1137.9 390,1138.7 390.5,1137.9 391,1138.3 391.5,1137.6 392,1138.2 392.5,1138.7 393,1138.2 393.5,1138.1 394,1138.2 394.5,1138.4 395,1138.6 395.5,1138.3 396,1137.8 396.5,1138.4 397,1138.6 397.5,1139 398,1138.4 398.5,1138.4 399,1138.2 399.5,1138.6 400,1138.9 400.5,1138.1 401,1138.4 401.5,1138.1 402,1138.2 402.5,1138.3 403,1138.5 403.5,1138.2 404,1138.3 404.5,1138.8 405,1138.5 405.5,1138.6 406,1138.5 406.5,1138.4 407,1138.5 407.5,1138.6 408,1138.4 408.5,1138.7 409,1138.4 409.5,1138.7 410,1138.4 410.5,1138.6 411,1138.2 411.5,1138.3 412,1138.1 412.5,1138.8 413,1138.6 413.5,1138.5 414,1138.6 414.5,1138.2 415,1138.5 415.5,1138.3 416,1137.9 416.5,1138.4 417,1138.2 417.5,1138.8 418,1138.2 418.5,1138.3 419,1138.7 419.5,1138.4 420,1138.1 420.5,1138.5 421,1138.2 421.5,1138.9 422,1138.1 422.5,1138.2 423,1137.7 423.5,1138.3 424,1139 424.5,1138.4 425,1138.2 425.5,1138.5 426,1138.3 426.5,1138.4 427,1139.1 427.5,1139 428,1138.9 428.5,1138.9 429,1138.1 429.5,1137.9 430,1138.6 430.5,1138.5 431,1138.4 431.5,1138.3 432,1138.5 432.5,1138.5 433,1138.4 433.5,1138.4 434,1138.2 434.5,1138.1 435,1138.5 435.5,1138 436,1138.6 436.5,1138.1 437,1137.9 437.5,1138.1 438,1137.6 438.5,1137.5 439,1137.4 439.5,1137.3 440,1137.4 440.5,1137.6 441,1137 441.5,1136.4 442,1136.3 442.5,1135.8 443,1136.3 443.5,1136.1 444,1135.8 444.5,1135.6 445,1135.4 445.5,1135.2 446,1135.1 446.5,1134.8 447,1134.3 447.5,1134.7 448,1134.8 448.5,1133.9 449,1134.2 449.5,1134 450,1134.5 450.5,1134.4 451,1134.9 451.5,1135 452,1134.7 452.5,1134.9 453,1135 453.5,1135.6 454,1135.4 454.5,1135.9 455,1135.6 455.5,1136.5 456,1136.6 456.5,1136.3 457,1136.6 457.5,1137 458,1137.2 458.5,1136.5 459,1137.5 459.5,1138 460,1137.6 460.5,1137.4 461,1138.2 461.5,1138.1 462,1138.1 462.5,1138.3 463,1137.8 463.5,1138.1 464,1138 464.5,1138 465,1138.3 465.5,1138.1 466,1138.9 466.5,1138.6 467,1138.7 467.5,1138 468,1138.4 468.5,1138.4 469,1138.5 469.5,1138.6 470,1138.3 470.5,1138.3 471,1138.8 471.5,1139.2 472,1139.1 472.5,1138.5 473,1138.3 473.5,1138.6 474,1138.7 474.5,1139.1 475,1138.5 475.5,1138.4 476,1138.9 476.5,1138.4 477,1138.4 477.5,1138.7 478,1138.5 478.5,1138.3 479,1138.5 479.5,1138.5 480,1138.5 480.5,1138.4 481,1138.8 481.5,1138.5 482,1138.5 482.5,1138.9 483,1138.4 483.5,1138.8 484,1138.8 484.5,1138.5 485,1138.7 485.5,1138.2 486,1138.7 486.5,1138.4 487,1138.4 487.5,1138.7 488,1138.4 488.5,1138.7 489,1138.8 489.5,1138.9 490,1138.8 490.5,1138.9 491,1138.4 491.5,1138.6 492,1138.8 492.5,1139 493,1138.8 493.5,1138.5 494,1138.4 494.5,1138.4 495,1139 495.5,1138.4 496,1138.6 496.5,1138.8 497,1138.8 497.5,1138.5 498,1139.2 498.5,1138.7 499,1138.7 499.5,1138.9 500,1138.6 500.5,1138.9 501,1138.6 501.5,1138.4 502,1138.4 502.5,1138.8 503,1138.7 503.5,1138.6 504,1138.6 504.5,1138.6 505,1138.9 505.5,1139 506,1138.6 506.5,1138.8 507,1138.2 507.5,1138.4 508,1138.5 508.5,1138.4 509,1138.9 509.5,1138.1 510,1138.8 510.5,1138.9 511,1139.3 511.5,1138.6 512,1138.8 512.5,1139.1 513,1139 513.5,1138.4 514,1138.6 514.5,1138.4 515,1138.7 515.5,1138.9 516,1139.1 516.5,1138.9 517,1138.9 517.5,1139 518,1138.5 518.5,1138.9 519,1139 519.5,1138.7 520,1138.4 520.5,1138.8 521,1138.8 521.5,1138.9 522,1138.2 522.5,1138.6 523,1139.3 523.5,1139.1 524,1138.7 524.5,1138.6 525,1138.6 525.5,1138.5 526,1138.6 526.5,1138.7 527,1138.4 527.5,1138.7 528,1138.8 528.5,1138.4 529,1138.6 529.5,1138.3 530,1138.7 530.5,1138.8 531,1138.6 531.5,1138.7 532,1138.9 532.5,1138.9 533,1138.4 533.5,1138.6 534,1138.3 534.5,1138.2 535,1139 535.5,1138.9 536,1139.1 536.5,1138.9 537,1138.6 537.5,1138.8 538,1138.6 538.5,1139.1 539,1138.1 539.5,1138.8 540,1138.6 540.5,1138.9 541,1139.1 541.5,1138.6 542,1139.1 542.5,1139 543,1138.3 543.5,1139.2 544,1138.4 544.5,1138.4 545,1139 545.5,1138.5 546,1138.8 546.5,1138.7 547,1138.5 547.5,1139.2 548,1139.1 548.5,1138.8 549,1139.2 549.5,1138.7 550,1138.8 550.5,1138.7 551,1138.4 551.5,1138.6 552,1138.5 552.5,1138.9 553,1138.8 553.5,1138.6 554,1139.1 554.5,1138.8 555,1139.2 555.5,1138.6 556,1138.6 556.5,1138.5 557,1138.8 557.5,1138.7 558,1138.8 558.5,1139.2 559,1139 559.5,1138.6 560,1138.9 560.5,1138.7 561,1138.7 561.5,1138.7 562,1138.8 562.5,1138.9 563,1139 563.5,1138.8 564,1138.5 564.5,1138.7 565,1138.7 565.5,1138.7 566,1138.4 566.5,1138.7 567,1138.3 567.5,1139.1 568,1138.9 568.5,1139 569,1138.5 569.5,1138.8 570,1139.1 570.5,1138.7 571,1138.5 571.5,1138.7 572,1138.1 572.5,1139 573,1138.9 573.5,1138.4 574,1138.9 574.5,1139.1 575,1138.9 575.5,1138.9 576,1139.2 576.5,1138.8 577,1139.1 577.5,1138.7 578,1138.6 578.5,1138.7 579,1138.5 579.5,1138.9 580,1138.6 580.5,1138.8 581,1138.8 581.5,1139.2 582,1139.2 582.5,1138.6 583,1138.7 583.5,1138.7 584,1138.6 584.5,1139.2 585,1139.1 585.5,1138.7 586,1138.4 586.5,1138.6 587,1138.7 587.5,1139.2 588,1138.4 588.5,1139.1 589,1138.4 589.5,1138.8 590,1138.4 590.5,1138.6 591,1138.1 591.5,1138.9 592,1138.7 592.5,1138.4 593,1138.2 593.5,1138.7 594,1138.7 594.5,1138.3 595,1138.8 595.5,1138.7 596,1138.4 596.5,1138.5 597,1138 597.5,1138.9 598,1138.9 598.5,1138.6 599,1138.3 599.5,1138.3 600,1138.5 600.5,1138.4 601,1138.7 601.5,1138.3 602,1138.8 602.5,1138.8 603,1138.3 603.5,1138.2 604,1137.6 604.5,1138.3 605,1138.4 605.5,1138 606,1138.5 606.5,1137.9 607,1137.7 607.5,1138.2 608,1138 608.5,1137.3 609,1137.6 609.5,1137.3 610,1137.5 610.5,1137.6 611,1137.4 611.5,1137.5 612,1137.6 612.5,1137.2 613,1137 613.5,1137 614,1137.5 614.5,1137.8 615,1137.3 615.5,1137.4 616,1137.2 616.5,1137.3 617,1137.7 617.5,1137.4 618,1137.7 618.5,1137.7 619,1138.1 619.5,1137.9 620,1137.9 620.5,1137.9 621,1137.9 621.5,1138.4 622,1138.7 622.5,1137.8 623,1138.6 623.5,1138.1 624,1138.2 624.5,1138.3 625,1138.3 625.5,1138.4 626,1138.4 626.5,1139 627,1138.2 627.5,1138.4 628,1138.4 628.5,1138.7 629,1138.3 629.5,1138.7 630,1138.7 630.5,1139.2 631,1138.9 631.5,1138.7 632,1138.7 632.5,1139.2 633,1138.7 633.5,1138.5 634,1138.6 634.5,1138.6 635,1139 635.5,1138.5 636,1138.6 636.5,1138.7 637,1138.5 637.5,1138.9 638,1138.6 638.5,1138.9 639,1138.9 639.5,1139.2 640,1139.2 640.5,1138.5 641,1138.4 641.5,1138.4 642,1138.9 642.5,1138.9 643,1138.8 643.5,1138.8 644,1139.2 644.5,1139 645,1138.8 645.5,1138.9 646,1138.4 646.5,1139.1 647,1139.3 647.5,1138.8 648,1138.7 648.5,1139.1 649,1138.6 649.5,1138.8 650,1138.9 650.5,1138.7 651,1139 651.5,1138.3 652,1138.1 652.5,1139 653,1138.9 653.5,1138.8 654,1138.7 654.5,1138.8 655,1138.9 655.5,1138.5 656,1138.8 656.5,1138.6 657,1139.3 657.5,1138.9 658,1138.9 658.5,1139.1 659,1139 659.5,1139 660,1138.6 660.5,1138.8 661,1139 661.5,1138.8 662,1138.8 662.5,1138.6 663,1138.8 663.5,1139.2 664,1138.5 664.5,1138.4 665,1138.5 665.5,1138.4 666,1139.1 666.5,1139.3 667,1138.9 667.5,1138.8 668,1139.2 668.5,1139.1 669,1138.2 669.5,1138.8 670,1139.4 670.5,1138.7 671,1138.6 671.5,1138.6 672,1139.2 672.5,1138.7 673,1138.9 673.5,1139.1 674,1138.8 674.5,1138.8 675,1138.5 675.5,1138.5 676,1139.1 676.5,1138.4 677,1139.1 677.5,1139.1 678,1139.2 678.5,1138.7 679,1138.6 679.5,1138.8 680,1139.1 680.5,1138.9 681,1138.9 681.5,1138.8 682,1139 682.5,1138.3 683,1138.5 683.5,1139.2 684,1138.9 684.5,1139 685,1138.3 685.5,1138.6 686,1138.7 686.5,1138.8 687,1139.1 687.5,1138.6 688,1138.8 688.5,1138.6 689,1138.7 689.5,1138.9 690,1138.9 690.5,1139.1 691,1138.5 691.5,1139 692,1138.9 692.5,1138.6 693,1139.1 693.5,1138.6 694,1138.7 694.5,1138.9 695,1139.2 695.5,1138.7 696,1139.2 696.5,1138.9 697,1138.6 697.5,1139 698,1138.8 698.5,1138.6 699,1138.7 699.5,1139.1 700,1138.9 700.5,1138.7 701,1139 701.5,1138.4 702,1139 702.5,1139.1 703,1138.5 703.5,1138.5 704,1138.6 704.5,1138.7 705,1138.6 705.5,1138.8 706,1138.5 706.5,1138.9 707,1138.9 707.5,1138.9 708,1138.6 708.5,1139 709,1138.4 709.5,1138.6 710,1138.8 710.5,1139.1 711,1138.7 711.5,1138.9 712,1139.2 712.5,1139.3 713,1139.2 713.5,1138.6 714,1138.8 714.5,1138.9 715,1138.9 715.5,1138.9 716,1138.7 716.5,1138.8 717,1138.4 717.5,1139 718,1138.8 718.5,1138.6 719,1139.2 719.5,1138.8 720,1138.6 720.5,1138.9 721,1138.9 721.5,1138.9 722,1138.7 722.5,1139 723,1138.8 723.5,1139.1 724,1138.8 724.5,1138.5 725,1138.5 725.5,1138.9 726,1139 726.5,1138.4 727,1138.9 727.5,1138.7 728,1138.8 728.5,1138.5 729,1138.4 729.5,1138.6 730,1138.5 730.5,1138.6 731,1138.8 731.5,1138.7 732,1139.2 732.5,1138.5 733,1138.6 733.5,1138.7 734,1138.9 734.5,1138.4 735,1138.3 735.5,1138.8 736,1138.8 736.5,1138.9 737,1138.9 737.5,1138.3 738,1139 738.5,1138.6 739,1139.2 739.5,1138.6 740,1138.1 740.5,1138.6 741,1138.7 741.5,1138.7 742,1138.7 742.5,1138.5 743,1138.2 743.5,1138.5 744,1138.5 744.5,1138.4 745,1138.5 745.5,1138.4 746,1137.9 746.5,1138.2 747,1138.1 747.5,1138.2 748,1138.7 748.5,1138.1 749,1138.2 749.5,1137.4 750,1138.2 750.5,1137.7 751,1137.8 751.5,1137.3 752,1137.5 752.5,1137.6 753,1137.2 753.5,1137.2 754,1136.8 754.5,1136.7 755,1136.9 755.5,1136.7 756,1136.7 756.5,1136.5 757,1136.6 757.5,1136.9 758,1137.1 758.5,1136.6 759,1136.6 759.5,1136.9 760,1137.2 760.5,1137.2 761,1137.5 761.5,1137.3 762,1137.2 762.5,1137 763,1137.8 763.5,1137.8 764,1137.6 764.5,1138 765,1137.7 765.5,1138.3 766,1138.4 766.5,1138.5 767,1138.1 767.5,1138.6 768,1138.5 768.5,1138.7 769,1137.9 769.5,1138.6 770,1138.7 770.5,1138.3 771,1138.7 771.5,1138.5 772,1138.8 772.5,1138.4 773,1138.4 773.5,1138.1 774,1139 774.5,1138.2 775,1138.1 775.5,1138.2 776,1138.4 776.5,1138.4 777,1138.5 777.5,1138.8 778,1138.6 778.5,1138 779,1138.4 779.5,1138.3 780,1138.5 780.5,1138.4 781,1138.7 781.5,1138.3 782,1138.8 782.5,1138 783,1138.6 783.5,1138.5 784,1138 784.5,1137.9 785,1138 785.5,1138.3 786,1138.6 786.5,1137.8 787,1138.1 787.5,1137.8 788,1138.3 788.5,1138.1 789,1138.1 789.5,1138.2 790,1138.1 790.5,1138.4 791,1137.9 791.5,1137.8 792,1137.9 792.5,1137.8 793,1138.2 793.5,1137.7 794,1137.6 794.5,1137.5 795,1137.5 795.5,1137.1 796,1137.6 796.5,1137.6 797,1137.5 797.5,1137.2 798,1137.6 798.5,1137.5 799,1137.3 799.5,1137.3 800,1137 800.5,1137 801,1136.9 801.5,1136.2 802,1136.2 802.5,1135.8 803,1135.7 803.5,1134.4 804,1134.5 804.5,1133.8 805,1133.1 805.5,1132.6 806,1131.6 806.5,1131.6 807,1131.1 807.5,1131.1 808,1131.5 808.5,1131 809,1131.3 809.5,1130.7 810,1130.2 810.5,1129.5 811,1128.4 811.5,1127.6 812,1126.5 812.5,1125.4 813,1123.6 813.5,1121.8 814,1119.4 814.5,1117.3 815,1115.3 815.5,1112.9 816,1110 816.5,1107.9 817,1104.8 817.5,1102.4 818,1099.5 818.5,1097.3 819,1095 819.5,1092.9 820,1090.7 820.5,1089.6 821,1089.3 821.5,1088.3 822,1088.5 822.5,1089 823,1089.9 823.5,1091.8 824,1093.5 824.5,1094.9 825,1097.4 825.5,1100.1 826,1102.2 826.5,1104.6 827,1107.3 827.5,1109.8 828,1111.6 828.5,1114.1 829,1116.9 829.5,1118.5 830,1120.6 830.5,1122.2 831,1124.6 831.5,1125.3 832,1127.1 832.5,1128.2 833,1129.4 833.5,1130.1 834,1131.1 834.5,1132.1 835,1132.9 835.5,1132.9 836,1134 836.5,1134.2 837,1134.8 837.5,1135 838,1135.4 838.5,1135.7 839,1136.1 839.5,1136.2 840,1135.9 840.5,1135.8 841,1136.2 841.5,1136.8 842,1136.4 842.5,1136.7 843,1137.5 843.5,1137 844,1137.2 844.5,1137.4 845,1137.5 845.5,1137.3 846,1137.5 846.5,1137 847,1137.7 847.5,1137.8 848,1137.2 848.5,1137.9 849,1138.3 849.5,1137.1 850,1137.8 850.5,1138.2 851,1138.1 851.5,1137.7 852,1137.8 852.5,1137.9 853,1138.2 853.5,1137.8 854,1137.7 854.5,1138.1 855,1137.9 855.5,1138.6 856,1137.9 856.5,1138.3 857,1138.1 857.5,1137.8 858,1138.1 858.5,1137.7 859,1138.4 859.5,1138 860,1138 860.5,1137.9 861,1138.7 861.5,1138.5 862,1138.1 862.5,1138.3 863,1138.5 863.5,1138.6 864,1138.4 864.5,1137.9 865,1138.9 865.5,1138.4 866,1138.8 866.5,1138.1 867,1138.7 867.5,1138.8 868,1138.8 868.5,1138.2 869,1138.4 869.5,1138.9 870,1138.3 870.5,1138.7 871,1138.5 871.5,1138.1 872,1138.8 872.5,1138.9 873,1138.7 873.5,1138.6 874,1138.9 874.5,1138.1 875,1138.6 875.5,1139.1 876,1138.7 876.5,1138.9 877,1138.6 877.5,1138.7 878,1138.3 878.5,1138.8 879,1138.7 879.5,1138.5 880,1138.6 880.5,1138.7 881,1138.7 881.5,1138.9 882,1138.9 882.5,1138.1 883,1138.7 883.5,1139 884,1138.4 884.5,1138.6 885,1139.3 885.5,1138.5 886,1139 886.5,1138.8 887,1138.3 887.5,1138.6 888,1138.2 888.5,1138.6 889,1139 889.5,1138.9 890,1138.8 890.5,1138.6 891,1138.9 891.5,1139.1 892,1138.9 892.5,1139 893,1138.9 893.5,1138.9 894,1138.5 894.5,1139.2 895,1138.5 895.5,1138.5 896,1138.6 896.5,1138.6 897,1139.1 897.5,1138.7 898,1138.7 898.5,1138.7 899,1138.8 899.5,1139.1 900,1139.2 900.5,1138.7 901,1139.2 901.5,1138.9 902,1138.9 902.5,1139.1 903,1138.8 903.5,1138.9 904,1138.8 904.5,1138.5 905,1138.5 905.5,1138.5 906,1138.6 906.5,1138.6 907,1138.7 907.5,1139.1 908,1138.8 908.5,1139 909,1138.9 909.5,1138.6 910,1138.7 910.5,1138.4 911,1138.3 911.5,1138.9 912,1138.8 912.5,1138.8 913,1139.1 913.5,1138.5 914,1138.8 914.5,1138.2 915,1138.6 915.5,1139 916,1138.4 916.5,1138.5 917,1138.7 917.5,1139.3 918,1139 918.5,1138.8 919,1139 919.5,1138.9 920,1138.7 920.5,1138.7 921,1138.9 921.5,1138.8 922,1139 922.5,1138.7 923,1139.1 923.5,1138.7 924,1139.2 924.5,1139.1 925,1138.7 925.5,1139.5 926,1138.9 926.5,1138.7 927,1138.5 927.5,1138.9 928,1138.9 928.5,1138.6 929,1138.6 929.5,1138.7 930,1138.6 930.5,1138.7 931,1138.6 931.5,1139 932,1138.2 932.5,1139.4 933,1138.7 933.5,1138.8 934,1138.5 934.5,1139.1 935,1138.8 935.5,1138.8 936,1138.6 936.5,1139 937,1139 937.5,1138.7 938,1139.3 938.5,1138.6 939,1139.2 939.5,1138.9 940,1138.5 940.5,1138.8 941,1139 941.5,1138.8 942,1138.9 942.5,1138.8 943,1139 943.5,1138.7 944,1139.4 944.5,1139 945,1139.3 945.5,1138.8 946,1138.9 946.5,1138.6 947,1138.9 947.5,1139.3 948,1139 948.5,1138.7 949,1138.7 949.5,1139 950,1138.8 950.5,1139.4 951,1138.9 951.5,1138.9 952,1139.1 952.5,1139.3 953,1138.5 953.5,1138.7 954,1138.7 954.5,1138.4 955,1138.8 955.5,1138.9 956,1139.1 956.5,1139.1 957,1139.1 957.5,1139 958,1138.8 958.5,1139.7 959,1139.3 959.5,1138.8 960,1138.6 960.5,1139 961,1139.2 961.5,1139 962,1139.1 962.5,1139.2 963,1139 963.5,1138.6 964,1138.8 964.5,1138.4 965,1139.1 965.5,1138.8 966,1138.9 966.5,1139.5 967,1138.7 967.5,1138.9 968,1138.7 968.5,1138.4 969,1139.2 969.5,1138.9 970,1138.9 970.5,1139.1 971,1138.8 971.5,1139.1 972,1139.2 972.5,1138.7 973,1139 973.5,1138.9 974,1139.2 974.5,1139.6 975,1138.6 975.5,1139.3 976,1138.9 976.5,1139.1 977,1139 977.5,1138.9 978,1138.6 978.5,1138.9 979,1138.7 979.5,1139.3 980,1139 980.5,1138.8 981,1138.8 981.5,1139.2 982,1138.5 982.5,1139 983,1138.9 983.5,1138.7 984,1139.2 984.5,1138.8 985,1139.2 985.5,1139 986,1138.7 986.5,1138.9 987,1139.2 987.5,1138.7 988,1138.7 988.5,1138.9 989,1139.1 989.5,1139.1 990,1138.7 990.5,1138.6 991,1138.9 991.5,1138.8 992,1139 992.5,1138.5 993,1138.8 993.5,1138.6 994,1139.3 994.5,1138.4 995,1138.7 995.5,1138.8 996,1138.4 996.5,1138.8 997,1138.7 997.5,1138.5 998,1138.8 998.5,1139.3 999,1138.9 999.5,1139.3 1000,1139.2 1000.5,1138.9 1001,1138.8 1001.5,1138.3 1002,1138.4 1002.5,1139 1003,1138.9 1003.5,1139 1004,1138.7 1004.5,1138.8 1005,1138.6 1005.5,1139.1 1006,1138.9 1006.5,1138.4 1007,1138.8 1007.5,1139.2 1008,1138.6 1008.5,1138.6 1009,1138.7 1009.5,1138.8 1010,1138.9 1010.5,1138.9 1011,1139 1011.5,1138.8 1012,1139.1 1012.5,1139.3 1013,1138.7 1013.5,1139 1014,1139 1014.5,1139 1015,1138.9 1015.5,1139 1016,1138.9 1016.5,1138.7 1017,1138.7 1017.5,1139.1 1018,1138.8 1018.5,1138.4 1019,1138.8 1019.5,1138.8 1020,1139.1 1020.5,1139.2 1021,1138.6 1021.5,1139.2 1022,1139 1022.5,1139.3 1023,1138.8 1023.5,1139.1 1024,1139.1 1024.5,1139.3 1025,1138.6 1025.5,1138.9 1026,1138.9 1026.5,1138.9 1027,1138.7 1027.5,1138.8 1028,1138.9 1028.5,1139.4 1029,1138.9 1029.5,1139.2 1030,1138.8 1030.5,1139 1031,1138.9 1031.5,1138.9 1032,1138.5 1032.5,1138.9 1033,1139.6 1033.5,1138.9 1034,1138.6 1034.5,1139.5 1035,1139 1035.5,1139 1036,1138.5 1036.5,1138.8 1037,1138.8 1037.5,1138.9 1038,1138.6 1038.5,1139.1 1039,1138.6 1039.5,1139.2 1040,1138.9 1040.5,1138.8 1041,1138.5 1041.5,1139 1042,1139 1042.5,1138.5 1043,1139.3 1043.5,1138.8 1044,1138.5 1044.5,1139.2 1045,1138.6 1045.5,1138.6 1046,1138.5 1046.5,1138.6 1047,1138.8 1047.5,1138.6 1048,1138.9 1048.5,1138.6 1049,1138.8 1049.5,1138.3 1050,1138.7 1050.5,1138.8 1051,1139 1051.5,1138.7 1052,1138.9 1052.5,1138.9 1053,1138.6 1053.5,1138.9 1054,1138.9 1054.5,1138.6 1055,1138.4 1055.5,1139.1 1056,1139 1056.5,1138.7 1057,1139 1057.5,1139 1058,1138.6 1058.5,1138.7 1059,1138.7 1059.5,1138.6 1060,1138.4 1060.5,1138.3 1061,1138.5 1061.5,1138.3 1062,1138.7 1062.5,1138.3 1063,1138.1 1063.5,1137.7 1064,1137.9 1064.5,1137.9 1065,1137.7 1065.5,1137.5 1066,1136.8 1066.5,1137.3 1067,1137.5 1067.5,1137.8 1068,1137 1068.5,1137.3 1069,1136.8 1069.5,1137.3 1070,1137 1070.5,1137 1071,1137 1071.5,1136.8 1072,1136.8 1072.5,1137.2 1073,1136.6 1073.5,1136.7 1074,1137.2 1074.5,1137.3 1075,1136.9 1075.5,1137 1076,1137.3 1076.5,1137.8 1077,1137.8 1077.5,1137.4 1078,1137.5 1078.5,1137.7 1079,1137.3 1079.5,1137.9 1080,1137.8 1080.5,1138.3 1081,1137.9 1081.5,1138.2 1082,1138.1 1082.5,1138.1 1083,1138.8 1083.5,1138.2 1084,1138.4 1084.5,1138.6 1085,1139 1085.5,1138.7 1086,1138.5 1086.5,1138.7 1087,1139.1 1087.5,1138.8 1088,1138.9 1088.5,1139.3 1089,1138.5 1089.5,1139.1 1090,1138.6 1090.5,1139.1 1091,1138.9 1091.5,1139 1092,1138.9 1092.5,1138.9 1093,1138.1 1093.5,1138.5 1094,1139.4 1094.5,1138.9 1095,1138.8 1095.5,1139 1096,1139.1 1096.5,1138.9 1097,1139.1 1097.5,1139 1098,1138.7 1098.5,1138.9 1099,1139.1 1099.5,1138.6 1100,1138.9 1100.5,1138.7 1101,1138.8 1101.5,1138.5 1102,1138.9 1102.5,1138.7 1103,1139.2 1103.5,1138.8 1104,1139.4 1104.5,1139.2 1105,1138.7 1105.5,1139.4 1106,1138.9 1106.5,1139 1107,1138.6 1107.5,1138.9 1108,1138.7 1108.5,1138.6 1109,1138.6 1109.5,1139.2 1110,1138.7 1110.5,1138.9 1111,1138.7 1111.5,1138.8 1112,1138.7 1112.5,1138.9 1113,1138.9 1113.5,1139.1 1114,1138.9 1114.5,1138.9 1115,1138.7 1115.5,1139 1116,1139 1116.5,1138.8 1117,1138.4 1117.5,1138.9 1118,1138.3 1118.5,1139.3 1119,1138.9 1119.5,1139.2 1120,1138.8 1120.5,1139.1 1121,1139.3 1121.5,1139.1 1122,1138.6 1122.5,1138.5 1123,1138.7 1123.5,1138.9 1124,1138.6 1124.5,1138.4 1125,1138.7 1125.5,1138.8 1126,1138.4 1126.5,1138.8 1127,1139.1 1127.5,1138.6 1128,1138.9 1128.5,1138.8 1129,1138.9 1129.5,1138.9 1130,1138.6 1130.5,1139 1131,1139.4 1131.5,1138.9 1132,1138.5 1132.5,1138.8 1133,1139.3 1133.5,1138.8 1134,1138.9 1134.5,1138.5 1135,1138.4 1135.5,1138.8 1136,1138.9 1136.5,1138.7 1137,1138.9 1137.5,1138.7 1138,1138.3 1138.5,1138.8 1139,1139 1139.5,1139.4 1140,1138.5 1140.5,1138.9 1141,1138.9 1141.5,1139 1142,1138.9 1142.5,1139.2 1143,1139.2 1143.5,1138.7 1144,1138.6 1144.5,1138.8 1145,1138.5 1145.5,1138.9 1146,1139 1146.5,1138.7 1147,1138.8 1147.5,1138.7 1148,1138.9 1148.5,1139 1149,1138.6 1149.5,1139.1 1150,1138.6 1150.5,1138.9 1151,1138.9 1151.5,1138.6 1152,1138.7 1152.5,1138.5 1153,1139.1 1153.5,1138.8 1154,1138.4 1154.5,1139 1155,1138.7 1155.5,1139.3 1156,1138.8 1156.5,1139 1157,1138.5 1157.5,1138.8 1158,1138.8 1158.5,1139.1 1159,1139.2 1159.5,1138.8 1160,1138.8 1160.5,1138.6 1161,1138.6 1161.5,1138.8 1162,1139.1 1162.5,1139.3 1163,1138.7 1163.5,1138.6 1164,1138.5 1164.5,1139 1165,1139.2 1165.5,1139 1166,1139.2 1166.5,1138.8 1167,1138.7 1167.5,1138.9 1168,1138.5 1168.5,1138.7 1169,1138.6 1169.5,1138.3 1170,1138.8 1170.5,1138.9 1171,1139.1 1171.5,1138.7 1172,1139.1 1172.5,1138.6 1173,1139.1 1173.5,1138.6 1174,1138.7 1174.5,1138.4 1175,1139.2 1175.5,1138.7 1176,1139.1 1176.5,1138.7 1177,1138.8 1177.5,1139 1178,1138.5 1178.5,1138.9 1179,1138.7 1179.5,1138.5 1180,1139 1180.5,1138.7 1181,1139.1 1181.5,1138.8 1182,1138.7 1182.5,1138.6 1183,1138.7 1183.5,1138.6 1184,1139 1184.5,1138.6 1185,1139.1 1185.5,1138.6 1186,1138.7 1186.5,1138.6 1187,1139.3 1187.5,1138.2 1188,1138.9 1188.5,1139 1189,1139 1189.5,1139.2 1190,1139.1 1190.5,1138.3 1191,1138.7 1191.5,1138.4 1192,1138.6 1192.5,1138.6 1193,1139 1193.5,1138.9 1194,1138.7 1194.5,1138.5 1195,1138.8 1195.5,1138.7 1196,1138.5 1196.5,1138.9 1197,1139 1197.5,1138.4 1198,1139 1198.5,1138.3 1199,1138.5 1199.5,1138.2 1200,1138.7 1200.5,1139.1 1201,1138.3 1201.5,1138.4 1202,1138.3 1202.5,1138.6 1203,1138.9 1203.5,1138.2 1204,1138.8 1204.5,1139.1 1205,1138.5 1205.5,1138.5 1206,1138.7 1206.5,1138 1207,1138.3 1207.5,1138.6 1208,1138.5 1208.5,1138.7 1209,1138.2 1209.5,1138.4 1210,1138.3 1210.5,1138.1 1211,1138.6 1211.5,1138.9 1212,1138.2 1212.5,1138.5 1213,1138.6 1213.5,1138.8 1214,1138.2 1214.5,1138 1215,1138.5 1215.5,1138.1 1216,1138 1216.5,1138.2 1217,1138.3 1217.5,1138.3 1218,1138.2 1218.5,1137.7 1219,1137.7 1219.5,1138.4 1220,1138.6 1220.5,1138.4 1221,1137.9 1221.5,1138.4 1222,1137.9 1222.5,1138.5 1223,1138.2 1223.5,1138.4 1224,1137.9 1224.5,1138.3 1225,1137.5 1225.5,1138.4 1226,1137.7 1226.5,1138 1227,1138.2 1227.5,1138.2 1228,1138 1228.5,1137.5 1229,1138.3 1229.5,1137.8 1230,1137.5 1230.5,1138.2 1231,1138.5 1231.5,1137.7 1232,1138 1232.5,1138 1233,1137.8 1233.5,1137.8 1234,1137.7 1234.5,1137 1235,1137.3 1235.5,1137.4 1236,1137.2 1236.5,1137.4 1237,1137.3 1237.5,1137.5 1238,1137.9 1238.5,1137 1239,1137.4 1239.5,1137.6 1240,1137.1 1240.5,1136.6 1241,1136.9 1241.5,1137.2 1242,1137 1242.5,1136.4 1243,1136.7 1243.5,1136.5 1244,1136.4 1244.5,1136.6 1245,1135.6 1245.5,1136.6 1246,1136.6 1246.5,1135.9 1247,1135.7 1247.5,1135.4 1248,1135.8 1248.5,1135.4 1249,1134.9 1249.5,1134.7 1250,1135.2 1250.5,1135.2 1251,1134.4 1251.5,1134.9 1252,1134.2 1252.5,1134.1 1253,1133.5 1253.5,1133.8 1254,1133.1 1254.5,1132.8 1255,1132.5 1255.5,1131.8 1256,1131.9 1256.5,1131 1257,1130.1 1257.5,1129.2 1258,1128.8 1258.5,1127.8 1259,1126.7 1259.5,1125.2 1260,1124.5 1260.5,1122.7 1261,1121.2 1261.5,1119.2 1262,1116.9 1262.5,1114.5 1263,1111.8 1263.5,1109.6 1264,1106.3 1264.5,1103.5 1265,1100.1 1265.5,1096.1 1266,1092.2 1266.5,1088.4 1267,1084.3 1267.5,1079.6 1268,1075.4 1268.5,1071.3 1269,1066.4 1269.5,1062.7 1270,1058.7 1270.5,1055.4 1271,1052.5 1271.5,1049.8 1272,1048.2 1272.5,1047.5 1273,1047 1273.5,1047.4 1274,1048.4 1274.5,1050.2 1275,1052.8 1275.5,1055.3 1276,1058.4 1276.5,1061.9 1277,1065.8 1277.5,1069.8 1278,1073.8 1278.5,1077.9 1279,1082.6 1279.5,1085.7 1280,1090 1280.5,1093.9 1281,1097.3 1281.5,1100.8 1282,1103.6 1282.5,1107.1 1283,1110.1 1283.5,1112.3 1284,1115.1 1284.5,1117.4 1285,1119.2 1285.5,1121.1 1286,1122.3 1286.5,1124.5 1287,1126.2 1287.5,1127.1 1288,1128.3 1288.5,1128 1289,1129.4 1289.5,1130.2 1290,1131 1290.5,1131.4 1291,1131.6 1291.5,1132.5 1292,1132.5 1292.5,1133.2 1293,1133.9 1293.5,1134.4 1294,1134.3 1294.5,1134.6 1295,1134.2 1295.5,1134.5 1296,1135.2 1296.5,1135.4 1297,1135.4 1297.5,1135.3 1298,1135.5 1298.5,1135.9 1299,1136.4 1299.5,1136 1300,1135.5 1300.5,1136.8 1301,1136.5 1301.5,1136.2 1302,1136.9 1302.5,1136.8 1303,1136.5 1303.5,1136.6 1304,1137 1304.5,1136.9 1305,1137.3 1305.5,1136.8 1306,1136.8 1306.5,1136.7 1307,1137.1 1307.5,1137.8 1308,1136.7 1308.5,1137.4 1309,1137.1 1309.5,1137.1 1310,1138 1310.5,1136.9 1311,1137.4 1311.5,1136.9 1312,1137.4 1312.5,1137.8 1313,1137.7 1313.5,1138 1314,1137.9 1314.5,1137.6 1315,1137.8 1315.5,1138 1316,1137.7 1316.5,1137.3 1317,1137.8 1317.5,1138 1318,1138 1318.5,1137.5 1319,1137.8 1319.5,1138.2 1320,1137.8 1320.5,1138.3 1321,1137.8 1321.5,1137.6 1322,1137.8 1322.5,1138.8 1323,1137.9 1323.5,1138 1324,1138.3 1324.5,1138.1 1325,1137.7 1325.5,1138.1 1326,1138.5 1326.5,1137.8 1327,1137.9 1327.5,1138.2 1328,1138.4 1328.5,1138.1 1329,1138.8 1329.5,1138.3 1330,1138 1330.5,1138.4 1331,1138.4 1331.5,1138.4 1332,1138.3 1332.5,1139 1333,1138.9 1333.5,1138.6 1334,1138.4 1334.5,1138.7 1335,1138.7 1335.5,1138.6 1336,1138.2 1336.5,1138.8 1337,1138.7 1337.5,1138.2 1338,1138.7 1338.5,1138.8 1339,1138.7 1339.5,1138.5 1340,1138.5 1340.5,1138.4 1341,1138.5 1341.5,1138.9 1342,1138.8 1342.5,1138.3 1343,1138.7 1343.5,1139 1344,1139 1344.5,1138.8 1345,1138.4 1345.5,1138.6 1346,1138.5 1346.5,1138.5 1347,1138.3 1347.5,1138.7 1348,1138.7 1348.5,1138.5 1349,1139.2 1349.5,1138.6 1350,1138.9 1350.5,1139.3 1351,1138.7 1351.5,1139.2 1352,1138.8 1352.5,1139.3 1353,1139 1353.5,1138.5 1354,1138.5 1354.5,1138.3 1355,1138.6 1355.5,1138.6 1356,1138.8 1356.5,1138.2 1357,1138.2 1357.5,1138.7 1358,1138.6 1358.5,1139 1359,1138.7 1359.5,1138.6 1360,1138.9 1360.5,1138.3 1361,1138.9 1361.5,1139.1 1362,1139 1362.5,1138.6 1363,1139.3 1363.5,1138.9 1364,1138.9 1364.5,1139.1 1365,1139.2 1365.5,1138.6 1366,1138.8 1366.5,1138.8 1367,1138.8 1367.5,1139 1368,1139 1368.5,1138.8 1369,1139.1 1369.5,1139.2 1370,1138.9 1370.5,1138.4 1371,1138.3 1371.5,1138.7 1372,1138.8 1372.5,1138.8 1373,1138.9 1373.5,1138.8 1374,1139.2 1374.5,1138.9 1375,1138.7 1375.5,1138.7 1376,1139 1376.5,1138.7 1377,1138.8 1377.5,1138.8 1378,1138.6 1378.5,1138.4 1379,1138.5 1379.5,1138.6 1380,1138.6 1380.5,1138.8 1381,1139 1381.5,1138.8 1382,1138.5 1382.5,1139.2 1383,1138.9 1383.5,1138.3 1384,1138.9 1384.5,1138.5 1385,1138.8 1385.5,1138.8 1386,1139 1386.5,1138.4 1387,1139 1387.5,1139.2 1388,1138.5 1388.5,1139.1 1389,1139.1 1389.5,1139 1390,1139.3 1390.5,1138.7 1391,1138.8 1391.5,1139 1392,1139.1 1392.5,1138.9 1393,1139 1393.5,1138.9 1394,1139 1394.5,1138.8 1395,1139 1395.5,1138.8 1396,1138.8 1396.5,1138.5 1397,1138.8 1397.5,1138.9 1398,1138.8 1398.5,1139 1399,1139.2 1399.5,1138.9 1400,1138.7 1400.5,1138.9 1401,1138.4 1401.5,1139.2 1402,1139.3 1402.5,1138.6 1403,1139.7 1403.5,1138.7 1404,1139.2 1404.5,1139 1405,1139.4 1405.5,1139.2 1406,1139.3 1406.5,1139.3 1407,1139 1407.5,1139.1 1408,1138.7 1408.5,1139.5 1409,1139 1409.5,1139.2 1410,1139 1410.5,1138.8 1411,1138.7 1411.5,1138.8 1412,1138.9 1412.5,1138.7 1413,1139 1413.5,1139.1 1414,1139.1 1414.5,1138.8 1415,1139 1415.5,1139.3 1416,1139.2 1416.5,1138.9 1417,1138.9 1417.5,1139.2 1418,1138.4 1418.5,1139.2 1419,1138.7 1419.5,1138.8 1420,1138.9 1420.5,1139.2 1421,1138.5 1421.5,1139.1 1422,1139.4 1422.5,1138.7 1423,1139.1 1423.5,1139.6 1424,1138.9 1424.5,1139.2 1425,1138.9 1425.5,1139 1426,1138.3 1426.5,1138.9 1427,1139.5 1427.5,1139.5 1428,1138.8 1428.5,1139.1 1429,1138.9 1429.5,1139 1430,1138.8 1430.5,1139.4 1431,1138.9 1431.5,1139.4 1432,1138.9 1432.5,1139.4 1433,1138.9 1433.5,1138.7 1434,1138.8 1434.5,1139.1 1435,1139.3 1435.5,1139.2 1436,1138.7 1436.5,1139.4 1437,1139.1 1437.5,1139.1 1438,1138.8 1438.5,1139.3 1439,1139 1439.5,1138.6 1440,1139 1440.5,1139.1 1441,1138.9 1441.5,1138.9 1442,1139.1 1442.5,1138.6 1443,1139.2 1443.5,1138.8 1444,1138.6 1444.5,1139.1 1445,1139.4 1445.5,1139.3 1446,1138.7 1446.5,1138.8 1447,1139.2 1447.5,1139.1 1448,1139.1 1448.5,1139.2 1449,1138.5 1449.5,1139.4 1450,1138.7 1450.5,1139.1 1451,1138.8 1451.5,1139.1 1452,1139.4 1452.5,1139.2 1453,1138.8 1453.5,1139 1454,1139 1454.5,1138.9 1455,1139.2 1455.5,1138.8 1456,1139.2 1456.5,1138.7 1457,1139.2 1457.5,1139.2 1458,1139.1 1458.5,1139.3 1459,1139.4 1459.5,1139 1460,1139.1 1460.5,1138.6 1461,1138.7 1461.5,1139.3 1462,1138.4 1462.5,1139.4 1463,1139.2 1463.5,1138.8 1464,1139 1464.5,1138.7 1465,1139.3 1465.5,1138.7 1466,1139.3 1466.5,1138.9 1467,1138.6 1467.5,1139.1 1468,1139 1468.5,1139 1469,1139.1 1469.5,1138.6 1470,1138.3 1470.5,1138.7 1471,1138.8 1471.5,1138.8 1472,1138.4 1472.5,1138.7 1473,1138.2 1473.5,1138.6 1474,1138.7 1474.5,1138.5 1475,1138.5 1475.5,1137.9 1476,1138.2 1476.5,1138.1 1477,1138.1 1477.5,1137.9 1478,1138 1478.5,1138.1 1479,1138.1 1479.5,1137.7 1480,1137.6 1480.5,1137.7 1481,1137.1 1481.5,1137.6 1482,1137.1 1482.5,1137.4 1483,1137.2 1483.5,1137.1 1484,1137.3 1484.5,1137.1 1485,1136.8 1485.5,1136.3 1486,1136.2 1486.5,1136.2 1487,1136.2 1487.5,1136 1488,1135.8 1488.5,1136.3 1489,1135.4 1489.5,1136.6 1490,1135.8 1490.5,1135.7 1491,1135.1 1491.5,1135.6 1492,1135.7 1492.5,1135.8 1493,1135 1493.5,1135.3 1494,1135.9 1494.5,1135.5 1495,1135.9 1495.5,1135.7 1496,1135.9 1496.5,1135.4 1497,1135.8 1497.5,1135.7 1498,1135.2 1498.5,1135.9 1499,1135.7 1499.5,1136 1500,1136 1500.5,1135.7 1501,1136.5 1501.5,1136.2 1502,1136.4 1502.5,1135.9 1503,1136.6 1503.5,1136.7 1504,1136.9 1504.5,1136.5 1505,1137.3 1505.5,1136.6 1506,1137.3 1506.5,1137.3 1507,1137.5 1507.5,1137.1 1508,1137.6 1508.5,1137 1509,1137.8 1509.5,1137.7 1510,1138 1510.5,1138 1511,1137.5 1511.5,1138.4 1512,1138.1 1512.5,1138.5 1513,1137.6 1513.5,1138.6 1514,1138.2 1514.5,1138.1 1515,1138.6 1515.5,1138.6 1516,1139.1 1516.5,1139.1 1517,1138.5 1517.5,1138.8 1518,1138.8 1518.5,1138.7 1519,1138.5 1519.5,1138.6 1520,1138.4 1520.5,1138.6 1521,1138.9 1521.5,1139.2 1522,1138.2 1522.5,1138.5 1523,1138.7 1523.5,1139 1524,1139 1524.5,1139.3 1525,1139 1525.5,1138.7 1526,1139.2 1526.5,1138.4 1527,1138.9 1527.5,1139.1 1528,1139.2 1528.5,1138.9 1529,1139.3 1529.5,1139 1530,1138.7 1530.5,1139 1531,1139.2 1531.5,1139.1 1532,1139.3 1532.5,1139.2 1533,1139.3 1533.5,1139.3 1534,1138.4 1534.5,1138.9 1535,1139.2 1535.5,1138.7 1536,1139.1 1536.5,1138.8 1537,1139.2 1537.5,1138.7 1538,1139.3 1538.5,1138.6 1539,1138.8 1539.5,1138.5 1540,1139.7 1540.5,1139.1 1541,1138.7 1541.5,1139.1 1542,1139.1 1542.5,1139.3 1543,1138.8 1543.5,1139 1544,1139.3 1544.5,1139.1 1545,1139.5 1545.5,1139.8 1546,1139.4 1546.5,1139.3 1547,1139.1 1547.5,1138 1548,1139 1548.5,1138.6 1549,1138.6 1549.5,1138.7 1550,1139.2 1550.5,1138.8 1551,1139.4 1551.5,1139 1552,1138.9 1552.5,1139.2 1553,1138.8 1553.5,1138.8 1554,1138.9 1554.5,1139.3 1555,1138.6 1555.5,1139.3 1556,1139.1 1556.5,1139.1 1557,1138.7 1557.5,1139.1 1558,1139.4 1558.5,1139.1 1559,1139.2 1559.5,1139.2 1560,1139.1 1560.5,1139 1561,1139.2 1561.5,1139.4 1562,1139.3 1562.5,1138.6 1563,1138.7 1563.5,1139 1564,1139.2 1564.5,1138.8 1565,1139.1 1565.5,1138.8 1566,1139.5 1566.5,1139.5 1567,1139.1 1567.5,1139.4 1568,1138.9 1568.5,1138.8 1569,1139 1569.5,1139.1 1570,1139 1570.5,1139.1 1571,1138.8 1571.5,1139 1572,1139.3 1572.5,1139.2 1573,1138.9 1573.5,1139.1 1574,1139.3 1574.5,1139 1575,1139.1 1575.5,1139.1 1576,1139.3 1576.5,1139.2 1577,1139.4 1577.5,1139.1 1578,1139.3 1578.5,1139 1579,1139 1579.5,1138.7 1580,1139.2 1580.5,1139.3 1581,1139.4 1581.5,1139.1 1582,1139.2 1582.5,1139.1 1583,1138.8 1583.5,1139.1 1584,1139.1 1584.5,1139.2 1585,1138.9 1585.5,1139.7 1586,1139.3 1586.5,1139 1587,1139.4 1587.5,1139.1 1588,1139.2 1588.5,1138.9 1589,1139.3 1589.5,1139 1590,1139 1590.5,1139.2 1591,1139 1591.5,1139.4 1592,1139 1592.5,1139.3 1593,1139 1593.5,1138.7 1594,1139.1 1594.5,1139.1 1595,1139.2 1595.5,1138.9 1596,1138.7 1596.5,1139.3 1597,1139.4 1597.5,1139 1598,1139 1598.5,1138.7 1599,1139.1 1599.5,1138.7 1600,1139.1 1600.5,1139.4 1601,1138.9 1601.5,1138.9 1602,1138.8 1602.5,1138.9 1603,1138.8 1603.5,1139.2 1604,1138.9 1604.5,1139.2 1605,1139.3 1605.5,1139 1606,1139 1606.5,1139 1607,1138.9 1607.5,1139.5 1608,1138.6 1608.5,1139 1609,1139.4 1609.5,1138.8 1610,1139.5 1610.5,1138.8 1611,1139.1 1611.5,1139.3 1612,1139.4 1612.5,1139 1613,1139.3 1613.5,1138.7 1614,1139.2 1614.5,1138.7 1615,1139 1615.5,1138.7 1616,1138.9 1616.5,1139 1617,1139.2 1617.5,1139.2 1618,1139.2 1618.5,1139.1 1619,1138.8 1619.5,1139.3 1620,1138.8 1620.5,1138.7 1621,1138.3 1621.5,1138.5 1622,1138.5 1622.5,1138.6 1623,1138.1 1623.5,1138.4 1624,1138.2 1624.5,1138.3 1625,1138.2 1625.5,1138.2 1626,1138.2 1626.5,1138.2 1627,1137.7 1627.5,1137.9 1628,1137.8 1628.5,1138.4 1629,1137.8 1629.5,1137.7 1630,1137.6 1630.5,1137.3 1631,1137.8 1631.5,1137.1 1632,1137.1 1632.5,1137.5 1633,1137.1 1633.5,1137.8 1634,1137.9 1634.5,1137.5 1635,1137.2 1635.5,1138.1 1636,1138.2 1636.5,1137.8 1637,1138.1 1637.5,1137.9 1638,1137.9 1638.5,1138 1639,1137.6 1639.5,1138.6 1640,1138.4 1640.5,1138.4 1641,1138.5 1641.5,1138.6 1642,1138.6 1642.5,1139.2 1643,1138.3 1643.5,1138.4 1644,1138.8 1644.5,1138.3 1645,1138.9 1645.5,1138.6 1646,1138.1 1646.5,1138.6 1647,1138.5 1647.5,1139.3 1648,1138.5 1648.5,1138.9 1649,1138.6 1649.5,1138.8 1650,1138.5 1650.5,1139.1 1651,1138.9 1651.5,1138.4 1652,1139.1 1652.5,1138.8 1653,1138.5 1653.5,1138.4 1654,1138.7 1654.5,1138.8 1655,1138.5 1655.5,1138.6 1656,1138.9 1656.5,1138.2 1657,1139.1 1657.5,1138.8 1658,1138.4 1658.5,1138.7 1659,1138.1 1659.5,1138.7 1660,1139.1 1660.5,1138.9 1661,1138.8 1661.5,1138.4 1662,1139 1662.5,1138.5 1663,1138.4 1663.5,1138.2 1664,1138.4 1664.5,1138.1 1665,1138.5 1665.5,1138.3 1666,1138.2 1666.5,1138.5 1667,1138.8 1667.5,1138.4 1668,1138.2 1668.5,1138.2 1669,1138.5 1669.5,1137.9 1670,1138.3 1670.5,1137.9 1671,1138.1 1671.5,1138.6 1672,1138.1 1672.5,1138.5 1673,1138.2 1673.5,1137.8 1674,1138.4 1674.5,1137.6 1675,1137.7 1675.5,1138 1676,1137.8 1676.5,1138.2 1677,1138.2 1677.5,1138 1678,1137.7 1678.5,1137.8 1679,1137.8 1679.5,1137.8 1680,1137.3 1680.5,1137.8 1681,1137.3 1681.5,1137.5 1682,1136.9 1682.5,1137.2 1683,1136.8 1683.5,1137 1684,1136.2 1684.5,1136.6 1685,1136.4 1685.5,1136.9 1686,1136.1 1686.5,1136.5 1687,1135.8 1687.5,1136.3 1688,1136.3 1688.5,1135.7 1689,1135.5 1689.5,1135.2 1690,1134.9 1690.5,1134.5 1691,1134.8 1691.5,1134.7 1692,1134.2 1692.5,1133 1693,1133 1693.5,1132.8 1694,1132.3 1694.5,1131.8 1695,1130.4 1695.5,1130.5 1696,1129.6 1696.5,1129.3 1697,1128.5 1697.5,1127.7 1698,1126.2 1698.5,1125.5 1699,1124.3 1699.5,1122.6 1700,1121.3 1700.5,1120.2 1701,1119.3 1701.5,1117.9 1702,1115.8 1702.5,1114.5 1703,1113.1 1703.5,1112.1 1704,1110.8 1704.5,1109.6 1705,1108.2 1705.5,1107.9 1706,1107.1 1706.5,1107.3 1707,1106.5 1707.5,1107.3 1708,1108.2 1708.5,1108.9 1709,1109.2 1709.5,1109.4 1710,1110.8 1710.5,1111.7 1711,1112.1 1711.5,1112.6 1712,1113.4 1712.5,1114.7 1713,1114.6 1713.5,1115.4 1714,1115.6 1714.5,1116.3 1715,1116.7 1715.5,1116.5 1716,1117.7 1716.5,1118 1717,1119.6 1717.5,1120.2 1718,1121 1718.5,1121.1 1719,1122.3 1719.5,1123 1720,1123.8 1720.5,1125 1721,1125.4 1721.5,1126.2 1722,1127.3 1722.5,1127.6 1723,1128.4 1723.5,1128.6 1724,1129.8 1724.5,1130.6 1725,1130.9 1725.5,1131.5 1726,1132.1 1726.5,1132.5 1727,1133 1727.5,1132.8 1728,1133.5 1728.5,1134.3 1729,1134.2 1729.5,1134.6 1730,1134.9 1730.5,1135.5 1731,1135.5 1731.5,1136.1 1732,1135.8 1732.5,1136.1 1733,1136.6 1733.5,1136.7 1734,1136 1734.5,1136.8 1735,1136.8 1735.5,1136.6 1736,1137 1736.5,1137.5 1737,1136.8 1737.5,1137.4 1738,1137.3 1738.5,1138.2 1739,1138.2 1739.5,1137.3 1740,1137.5 1740.5,1137.8 1741,1137.3 1741.5,1137.9 1742,1137.8 1742.5,1137.8 1743,1138 1743.5,1138.6 1744,1137.9 1744.5,1138 1745,1137.6 1745.5,1137.9 1746,1138.2 1746.5,1138.1 1747,1138.2 1747.5,1138.1 1748,1138 1748.5,1138 1749,1138.5 1749.5,1138.3 1750,1138 1750.5,1138.6 1751,1138.6 1751.5,1138.4 1752,1138.4 1752.5,1138.9 1753,1138.1 1753.5,1138.6 1754,1138.8 1754.5,1138.2 1755,1138.3 1755.5,1138.7 1756,1138.4 1756.5,1138.2 1757,1138.4 1757.5,1138.3 1758,1138.6 1758.5,1138.4 1759,1138.7 1759.5,1138.4 1760,1138.6 1760.5,1138.7 1761,1138.9 1761.5,1138.4 1762,1138.6 1762.5,1138.5 1763,1139 1763.5,1138.9 1764,1138.6 1764.5,1138.7 1765,1138.8 1765.5,1138.7 1766,1139.2 1766.5,1138.3 1767,1139.3 1767.5,1139.2 1768,1139.1 1768.5,1138.7 1769,1138.4 1769.5,1139 1770,1139.3 1770.5,1139 1771,1139.2 1771.5,1138.9 1772,1139.2 1772.5,1139 1773,1138.8 1773.5,1138.6 1774,1138.8 1774.5,1139.1 1775,1139.1 1775.5,1139 1776,1139 1776.5,1139.1 1777,1139.1 1777.5,1139.1 1778,1138.8 1778.5,1139 1779,1138.9 1779.5,1138.7 1780,1139 1780.5,1138.6 1781,1138.9 1781.5,1138.5 1782,1138.7 1782.5,1139.3 1783,1139.5 1783.5,1139.1 1784,1138.9 1784.5,1138.4 1785,1138.9 1785.5,1139.1 1786,1139 1786.5,1138.8 1787,1139.2 1787.5,1138.8 1788,1139.1 1788.5,1138.9 1789,1138.9 1789.5,1139.5 1790,1139.4 1790.5,1139.2 1791,1138.8 1791.5,1139.3 1792,1139.1 1792.5,1139.2 1793,1139.4 1793.5,1138.7 1794,1139.1 1794.5,1139.1 1795,1139.2 1795.5,1139.2 1796,1139 1796.5,1139.4 1797,1138.8 1797.5,1139.7 1798,1139.4 1798.5,1139.2 1799,1138.7 1799.5,1138.7 1800,1138.7 1800.5,1139.1 1801,1139.2 1801.5,1139.3 1802,1139.1 1802.5,1139 1803,1138.5 1803.5,1138.9 1804,1139.3 1804.5,1139 1805,1139.4 1805.5,1139.1 1806,1139.4 1806.5,1139.5 1807,1138.3 1807.5,1139 1808,1139.5 1808.5,1139.5 1809,1139.1 1809.5,1139.2 1810,1139.4 1810.5,1139.5 1811,1139.5 1811.5,1138.9 1812,1139 1812.5,1138.9 1813,1139 1813.5,1139.4 1814,1139.3 1814.5,1139.2 1815,1139.2 1815.5,1139.7 1816,1139.3 1816.5,1139 1817,1139.3 1817.5,1139.1 1818,1139.1 1818.5,1139 1819,1138.5 1819.5,1138.8 1820,1139.1 1820.5,1138.7 1821,1138.9 1821.5,1138.7 1822,1138.6 1822.5,1139.2 1823,1139.1 1823.5,1138.7 1824,1139.2 1824.5,1139.6 1825,1139.3 1825.5,1139.1 1826,1138.8 1826.5,1139.3 1827,1139.3 1827.5,1138.7 1828,1139 1828.5,1139.4 1829,1139.2 1829.5,1138.5 1830,1139.2 1830.5,1139.2 1831,1139.2 1831.5,1139.1 1832,1139.4 1832.5,1139.3 1833,1139.8 1833.5,1139.2 1834,1139.3 1834.5,1139.2 1835,1138.9 1835.5,1139.2 1836,1139.2 1836.5,1138.6 1837,1139.8 1837.5,1139.3 1838,1139.4 1838.5,1139.3 1839,1139.2 1839.5,1139.4 1840,1139.6 1840.5,1139.4 1841,1139.1 1841.5,1139.4 1842,1139.4 1842.5,1139 1843,1139.3 1843.5,1139.3 1844,1139.1 1844.5,1139.3 1845,1139.1 1845.5,1139 1846,1139.1 1846.5,1138.9 1847,1140 1847.5,1139.5 1848,1139.2 1848.5,1138.8 1849,1139.5 1849.5,1139.5 1850,1138.8 1850.5,1139.1 1851,1139.6 1851.5,1139.4 1852,1139.7 1852.5,1139.1 1853,1139.1 1853.5,1139.1 1854,1138.9 1854.5,1138.9 1855,1139.2 1855.5,1139.8 1856,1139.2 1856.5,1139.3 1857,1138.6 1857.5,1139.3 1858,1139.2 1858.5,1139 1859,1138.8 1859.5,1139.6 1860,1139.5 1860.5,1139.1 1861,1139 1861.5,1139.2 1862,1139 1862.5,1138.7 1863,1139 1863.5,1139.7 1864,1138.8 1864.5,1139.2 1865,1139.2 1865.5,1138.8 1866,1139.6 1866.5,1139.9 1867,1139.4 1867.5,1139.3 1868,1139.5 1868.5,1139.5 1869,1138.5 1869.5,1139.4"/>
</g>
<g filter="url(#hard)">
<text class="t58" xml:space="preserve" transform="translate(137.74,1427.2) scale(1,1.04)" x="0 32.26">40</text>
<text class="t58" xml:space="preserve" transform="translate(398.89,1427.2) scale(1,1.04)" x="0 32.26">50</text>
<text class="t58" xml:space="preserve" transform="translate(660.03,1427.2) scale(1,1.04)" x="0 32.26">60</text>
<text class="t58" xml:space="preserve" transform="translate(921.17,1427.2) scale(1,1.04)" x="0 32.26">70</text>
<text class="t58" xml:space="preserve" transform="translate(1182.31,1427.2) scale(1,1.04)" x="0 32.26">80</text>
<text class="t58" xml:space="preserve" transform="translate(1443.46,1427.2) scale(1,1.04)" x="0 32.26">90</text>
<text class="t58" xml:space="preserve" transform="translate(1688.47,1427.2) scale(1,1.04)" x="1.83 32.26 64.51" clip-path="url(#c1)">100</text>
<text class="t58" xml:space="preserve" transform="translate(1949.61,1427.2) scale(1,1.04)" x="1.83 34.08 64.51" clip-path="url(#c2)">110</text>
<text class="an" xml:space="preserve" x="952.7" y="1518"><tspan font-size="74.88" textLength="40.04" lengthAdjust="spacingAndGlyphs">2</tspan><tspan class="gk" font-size="64" x="993.9" y="1517.3">θ</tspan><tspan x="1029.8" y="1518"> (</tspan><tspan x="1073.8" y="1519.7">°</tspan><tspan x="1102.6" y="1518">)</tspan></text>
<text class="an" transform="translate(81,930.2) rotate(-90)">Intensity (cps)</text>
<text class="ttl" x="949.6" y="184.5">Austenite volume fraction</text>
<text class="an" xml:space="preserve" transform="translate(1222.5,309.8) scale(1,1.04)" x="0 43.98 87.96 107.96 127.97 147.97 167.98 187.98 207.98 248.03 268.03 308.07 348.12">FZ:     0.00%</text>
<text class="an" xml:space="preserve" transform="translate(1222.5,397.8) scale(1,1.04)" x="0 52 100.02 144 164 184.01 204.01 244.05 266.33 304.1 344.14" clip-path="url(#c3)">HAZ:  5.12%</text>
<text class="an" xml:space="preserve" transform="translate(1222.5,485.8) scale(1,1.04)" x="0 48.02 108 128 148.01 168.01 188.02 208.02 248.06 270.33 308.11 348.15" clip-path="url(#c4)">BM:    6.15%</text>
<text class="an" xml:space="preserve" transform="translate(1808.2,981.6) scale(1,1.04)" x="0 43.98">FZ</text>
<text class="an" xml:space="preserve" transform="translate(1806,1123) scale(1,1.04)" x="0 52 100.02">HAZ</text>
<text class="an" xml:space="preserve" transform="translate(1810.6,1270) scale(1,1.04)" x="0 48.02">BM</text>
<g transform="translate(365.9,246.6) rotate(-90)"><text class="ls" font-size="72" transform="translate(-0.74,0.42) scale(1.5106,1.2491)">α</text><text class="an" xml:space="preserve" transform="translate(53.4,0) scale(1,1.04)" x="0 26.24 66.29 104.06 145.01" clip-path="url(#c5)"><tspan font-size="69.23">(</tspan>110<tspan font-size="69.23">)</tspan></text></g>
<g transform="translate(469.2,972.9) rotate(-90)"><text class="gk gb" font-size="72" transform="translate(42.98,1.4) scale(-1.0698,1.1558)">γ</text><text class="an" xml:space="preserve" transform="translate(34.3,0) scale(1,1.04)" x="0 23.98 64.02 104.06 145.01"><tspan font-size="69.23">(</tspan>200<tspan font-size="69.23">)</tspan></text></g>
<g transform="translate(843.2,953.1) rotate(-90)"><text class="ls" font-size="72" transform="translate(-0.74,0.42) scale(1.5106,1.2491)">α</text><text class="an" xml:space="preserve" transform="translate(53.4,0) scale(1,1.04)" x="0 23.98 64.02 104.06 145.01"><tspan font-size="69.23">(</tspan>200<tspan font-size="69.23">)</tspan></text></g>
<g transform="translate(1096.2,973.9) rotate(-90)"><text class="gk gb" font-size="72" transform="translate(42.98,1.4) scale(-1.0698,1.1558)">γ</text><text class="an" xml:space="preserve" transform="translate(34.3,0) scale(1,1.04)" x="0 23.98 64.02 104.06 145.01"><tspan font-size="69.23">(</tspan>220<tspan font-size="69.23">)</tspan></text></g>
<g transform="translate(1292,924.2) rotate(-90)"><text class="ls" font-size="72" transform="translate(-0.74,0.42) scale(1.5106,1.2491)">α</text><text class="an" xml:space="preserve" transform="translate(53.4,0) scale(1,1.04)" x="0 23.98 66.29 106.33 145.01" clip-path="url(#c6)"><tspan font-size="69.23">(</tspan>211<tspan font-size="69.23">)</tspan></text></g>
<g transform="translate(1517.2,972.2) rotate(-90)"><text class="gk gb" font-size="72" transform="translate(42.98,1.4) scale(-1.0698,1.1558)">γ</text><text class="an" xml:space="preserve" transform="translate(34.3,0) scale(1,1.04)" x="0 23.98 66.29 106.33 145.01" clip-path="url(#c7)"><tspan font-size="69.23">(</tspan>311<tspan font-size="69.23">)</tspan></text></g>
<g transform="translate(1727,948) rotate(-90)"><text class="ls" font-size="72" transform="translate(-0.74,0.42) scale(1.5106,1.2491)">α</text><text class="an" xml:space="preserve" transform="translate(53.4,0) scale(1,1.04)" x="0 23.98 64.02 104.06 145.01"><tspan font-size="69.23">(</tspan>220<tspan font-size="69.23">)</tspan></text></g>
</g>
</svg>
</body></html>
